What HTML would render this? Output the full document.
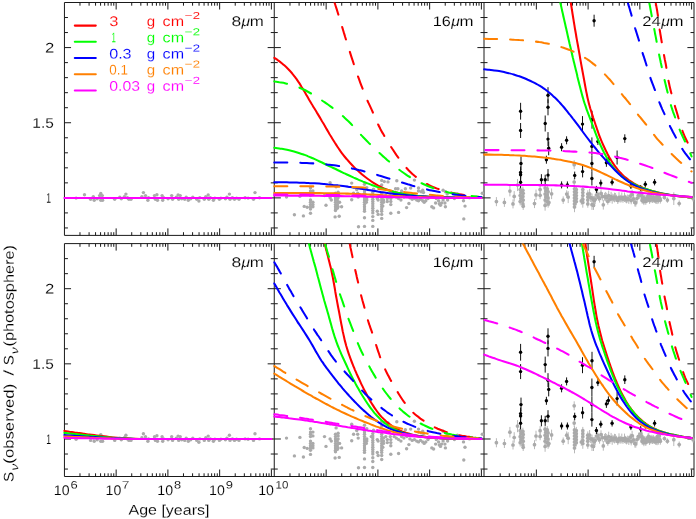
<!DOCTYPE html>
<html><head><meta charset="utf-8"><title>Figure</title>
<style>
html,body{margin:0;padding:0;background:#fff;}
body{width:696px;height:519px;overflow:hidden;font-family:"Liberation Sans",sans-serif;}
svg{display:block;}
text{font-family:"Liberation Sans",sans-serif;}
</style></head><body>
<svg width="696" height="519" viewBox="0 0 696 519">
<rect width="696" height="519" fill="#fff"/>
<defs>
<clipPath id="c00"><rect x="63.0" y="2.5" width="212.8" height="232.9"/></clipPath>
<clipPath id="c01"><rect x="63.0" y="243.6" width="212.8" height="232.9"/></clipPath>
<clipPath id="c10"><rect x="272.8" y="2.5" width="212.8" height="232.9"/></clipPath>
<clipPath id="c11"><rect x="272.8" y="243.6" width="212.8" height="232.9"/></clipPath>
<clipPath id="c20"><rect x="482.5" y="2.5" width="212.8" height="232.9"/></clipPath>
<clipPath id="c21"><rect x="482.5" y="243.6" width="212.8" height="232.9"/></clipPath>
</defs>
<path d="M64.45 2.50 H694.00 V235.40 H64.45 ZM274.25 2.50 V235.40 M484.00 2.50 V235.40M79.98 2.50 v3.2 M79.98 235.40 v-3.2M89.09 2.50 v3.2 M89.09 235.40 v-3.2M95.56 2.50 v3.2 M95.56 235.40 v-3.2M100.57 2.50 v3.2 M100.57 235.40 v-3.2M104.67 2.50 v3.2 M104.67 235.40 v-3.2M108.13 2.50 v3.2 M108.13 235.40 v-3.2M111.13 2.50 v3.2 M111.13 235.40 v-3.2M113.78 2.50 v3.2 M113.78 235.40 v-3.2M116.15 2.50 v7.0 M116.15 235.40 v-7.0M131.73 2.50 v3.2 M131.73 235.40 v-3.2M140.84 2.50 v3.2 M140.84 235.40 v-3.2M147.31 2.50 v3.2 M147.31 235.40 v-3.2M152.32 2.50 v3.2 M152.32 235.40 v-3.2M156.42 2.50 v3.2 M156.42 235.40 v-3.2M159.88 2.50 v3.2 M159.88 235.40 v-3.2M162.88 2.50 v3.2 M162.88 235.40 v-3.2M165.53 2.50 v3.2 M165.53 235.40 v-3.2M167.90 2.50 v7.0 M167.90 235.40 v-7.0M183.48 2.50 v3.2 M183.48 235.40 v-3.2M192.59 2.50 v3.2 M192.59 235.40 v-3.2M199.06 2.50 v3.2 M199.06 235.40 v-3.2M204.07 2.50 v3.2 M204.07 235.40 v-3.2M208.17 2.50 v3.2 M208.17 235.40 v-3.2M211.63 2.50 v3.2 M211.63 235.40 v-3.2M214.63 2.50 v3.2 M214.63 235.40 v-3.2M217.28 2.50 v3.2 M217.28 235.40 v-3.2M219.65 2.50 v7.0 M219.65 235.40 v-7.0M235.23 2.50 v3.2 M235.23 235.40 v-3.2M244.34 2.50 v3.2 M244.34 235.40 v-3.2M250.81 2.50 v3.2 M250.81 235.40 v-3.2M255.82 2.50 v3.2 M255.82 235.40 v-3.2M259.92 2.50 v3.2 M259.92 235.40 v-3.2M263.38 2.50 v3.2 M263.38 235.40 v-3.2M266.38 2.50 v3.2 M266.38 235.40 v-3.2M269.03 2.50 v3.2 M269.03 235.40 v-3.2M271.40 2.50 v7.0 M271.40 235.40 v-7.0M64.45 17.53 h3.5 M274.25 17.53 h-3.5M64.45 32.56 h3.5 M274.25 32.56 h-3.5M64.45 47.59 h6.6 M274.25 47.59 h-6.6M64.45 62.62 h3.5 M274.25 62.62 h-3.5M64.45 77.65 h3.5 M274.25 77.65 h-3.5M64.45 92.68 h3.5 M274.25 92.68 h-3.5M64.45 107.71 h3.5 M274.25 107.71 h-3.5M64.45 122.74 h6.6 M274.25 122.74 h-6.6M64.45 137.77 h3.5 M274.25 137.77 h-3.5M64.45 152.80 h3.5 M274.25 152.80 h-3.5M64.45 167.83 h3.5 M274.25 167.83 h-3.5M64.45 182.86 h3.5 M274.25 182.86 h-3.5M64.45 197.89 h6.6 M274.25 197.89 h-6.6M64.45 212.92 h3.5 M274.25 212.92 h-3.5M64.45 227.95 h3.5 M274.25 227.95 h-3.5M289.98 2.50 v3.2 M289.98 235.40 v-3.2M299.09 2.50 v3.2 M299.09 235.40 v-3.2M305.56 2.50 v3.2 M305.56 235.40 v-3.2M310.57 2.50 v3.2 M310.57 235.40 v-3.2M314.67 2.50 v3.2 M314.67 235.40 v-3.2M318.13 2.50 v3.2 M318.13 235.40 v-3.2M321.13 2.50 v3.2 M321.13 235.40 v-3.2M323.78 2.50 v3.2 M323.78 235.40 v-3.2M326.15 2.50 v7.0 M326.15 235.40 v-7.0M341.73 2.50 v3.2 M341.73 235.40 v-3.2M350.84 2.50 v3.2 M350.84 235.40 v-3.2M357.31 2.50 v3.2 M357.31 235.40 v-3.2M362.32 2.50 v3.2 M362.32 235.40 v-3.2M366.42 2.50 v3.2 M366.42 235.40 v-3.2M369.88 2.50 v3.2 M369.88 235.40 v-3.2M372.88 2.50 v3.2 M372.88 235.40 v-3.2M375.53 2.50 v3.2 M375.53 235.40 v-3.2M377.90 2.50 v7.0 M377.90 235.40 v-7.0M393.48 2.50 v3.2 M393.48 235.40 v-3.2M402.59 2.50 v3.2 M402.59 235.40 v-3.2M409.06 2.50 v3.2 M409.06 235.40 v-3.2M414.07 2.50 v3.2 M414.07 235.40 v-3.2M418.17 2.50 v3.2 M418.17 235.40 v-3.2M421.63 2.50 v3.2 M421.63 235.40 v-3.2M424.63 2.50 v3.2 M424.63 235.40 v-3.2M427.28 2.50 v3.2 M427.28 235.40 v-3.2M429.65 2.50 v7.0 M429.65 235.40 v-7.0M445.23 2.50 v3.2 M445.23 235.40 v-3.2M454.34 2.50 v3.2 M454.34 235.40 v-3.2M460.81 2.50 v3.2 M460.81 235.40 v-3.2M465.82 2.50 v3.2 M465.82 235.40 v-3.2M469.92 2.50 v3.2 M469.92 235.40 v-3.2M473.38 2.50 v3.2 M473.38 235.40 v-3.2M476.38 2.50 v3.2 M476.38 235.40 v-3.2M479.03 2.50 v3.2 M479.03 235.40 v-3.2M481.40 2.50 v7.0 M481.40 235.40 v-7.0M274.25 17.53 h3.5 M484.00 17.53 h-3.5M274.25 32.56 h3.5 M484.00 32.56 h-3.5M274.25 47.59 h6.6 M484.00 47.59 h-6.6M274.25 62.62 h3.5 M484.00 62.62 h-3.5M274.25 77.65 h3.5 M484.00 77.65 h-3.5M274.25 92.68 h3.5 M484.00 92.68 h-3.5M274.25 107.71 h3.5 M484.00 107.71 h-3.5M274.25 122.74 h6.6 M484.00 122.74 h-6.6M274.25 137.77 h3.5 M484.00 137.77 h-3.5M274.25 152.80 h3.5 M484.00 152.80 h-3.5M274.25 167.83 h3.5 M484.00 167.83 h-3.5M274.25 182.86 h3.5 M484.00 182.86 h-3.5M274.25 197.89 h6.6 M484.00 197.89 h-6.6M274.25 212.92 h3.5 M484.00 212.92 h-3.5M274.25 227.95 h3.5 M484.00 227.95 h-3.5M500.18 2.50 v3.2 M500.18 235.40 v-3.2M509.29 2.50 v3.2 M509.29 235.40 v-3.2M515.76 2.50 v3.2 M515.76 235.40 v-3.2M520.77 2.50 v3.2 M520.77 235.40 v-3.2M524.87 2.50 v3.2 M524.87 235.40 v-3.2M528.33 2.50 v3.2 M528.33 235.40 v-3.2M531.33 2.50 v3.2 M531.33 235.40 v-3.2M533.98 2.50 v3.2 M533.98 235.40 v-3.2M536.35 2.50 v7.0 M536.35 235.40 v-7.0M551.93 2.50 v3.2 M551.93 235.40 v-3.2M561.04 2.50 v3.2 M561.04 235.40 v-3.2M567.51 2.50 v3.2 M567.51 235.40 v-3.2M572.52 2.50 v3.2 M572.52 235.40 v-3.2M576.62 2.50 v3.2 M576.62 235.40 v-3.2M580.08 2.50 v3.2 M580.08 235.40 v-3.2M583.08 2.50 v3.2 M583.08 235.40 v-3.2M585.73 2.50 v3.2 M585.73 235.40 v-3.2M588.10 2.50 v7.0 M588.10 235.40 v-7.0M603.68 2.50 v3.2 M603.68 235.40 v-3.2M612.79 2.50 v3.2 M612.79 235.40 v-3.2M619.26 2.50 v3.2 M619.26 235.40 v-3.2M624.27 2.50 v3.2 M624.27 235.40 v-3.2M628.37 2.50 v3.2 M628.37 235.40 v-3.2M631.83 2.50 v3.2 M631.83 235.40 v-3.2M634.83 2.50 v3.2 M634.83 235.40 v-3.2M637.48 2.50 v3.2 M637.48 235.40 v-3.2M639.85 2.50 v7.0 M639.85 235.40 v-7.0M655.43 2.50 v3.2 M655.43 235.40 v-3.2M664.54 2.50 v3.2 M664.54 235.40 v-3.2M671.01 2.50 v3.2 M671.01 235.40 v-3.2M676.02 2.50 v3.2 M676.02 235.40 v-3.2M680.12 2.50 v3.2 M680.12 235.40 v-3.2M683.58 2.50 v3.2 M683.58 235.40 v-3.2M686.58 2.50 v3.2 M686.58 235.40 v-3.2M689.23 2.50 v3.2 M689.23 235.40 v-3.2M691.60 2.50 v7.0 M691.60 235.40 v-7.0M484.00 17.53 h3.5 M694.00 17.53 h-3.5M484.00 32.56 h3.5 M694.00 32.56 h-3.5M484.00 47.59 h6.6 M694.00 47.59 h-6.6M484.00 62.62 h3.5 M694.00 62.62 h-3.5M484.00 77.65 h3.5 M694.00 77.65 h-3.5M484.00 92.68 h3.5 M694.00 92.68 h-3.5M484.00 107.71 h3.5 M694.00 107.71 h-3.5M484.00 122.74 h6.6 M694.00 122.74 h-6.6M484.00 137.77 h3.5 M694.00 137.77 h-3.5M484.00 152.80 h3.5 M694.00 152.80 h-3.5M484.00 167.83 h3.5 M694.00 167.83 h-3.5M484.00 182.86 h3.5 M694.00 182.86 h-3.5M484.00 197.89 h6.6 M694.00 197.89 h-6.6M484.00 212.92 h3.5 M694.00 212.92 h-3.5M484.00 227.95 h3.5 M694.00 227.95 h-3.5M64.45 243.60 H694.00 V476.50 H64.45 ZM274.25 243.60 V476.50 M484.00 243.60 V476.50M79.98 243.60 v3.2 M79.98 476.50 v-3.2M89.09 243.60 v3.2 M89.09 476.50 v-3.2M95.56 243.60 v3.2 M95.56 476.50 v-3.2M100.57 243.60 v3.2 M100.57 476.50 v-3.2M104.67 243.60 v3.2 M104.67 476.50 v-3.2M108.13 243.60 v3.2 M108.13 476.50 v-3.2M111.13 243.60 v3.2 M111.13 476.50 v-3.2M113.78 243.60 v3.2 M113.78 476.50 v-3.2M116.15 243.60 v7.0 M116.15 476.50 v-7.0M131.73 243.60 v3.2 M131.73 476.50 v-3.2M140.84 243.60 v3.2 M140.84 476.50 v-3.2M147.31 243.60 v3.2 M147.31 476.50 v-3.2M152.32 243.60 v3.2 M152.32 476.50 v-3.2M156.42 243.60 v3.2 M156.42 476.50 v-3.2M159.88 243.60 v3.2 M159.88 476.50 v-3.2M162.88 243.60 v3.2 M162.88 476.50 v-3.2M165.53 243.60 v3.2 M165.53 476.50 v-3.2M167.90 243.60 v7.0 M167.90 476.50 v-7.0M183.48 243.60 v3.2 M183.48 476.50 v-3.2M192.59 243.60 v3.2 M192.59 476.50 v-3.2M199.06 243.60 v3.2 M199.06 476.50 v-3.2M204.07 243.60 v3.2 M204.07 476.50 v-3.2M208.17 243.60 v3.2 M208.17 476.50 v-3.2M211.63 243.60 v3.2 M211.63 476.50 v-3.2M214.63 243.60 v3.2 M214.63 476.50 v-3.2M217.28 243.60 v3.2 M217.28 476.50 v-3.2M219.65 243.60 v7.0 M219.65 476.50 v-7.0M235.23 243.60 v3.2 M235.23 476.50 v-3.2M244.34 243.60 v3.2 M244.34 476.50 v-3.2M250.81 243.60 v3.2 M250.81 476.50 v-3.2M255.82 243.60 v3.2 M255.82 476.50 v-3.2M259.92 243.60 v3.2 M259.92 476.50 v-3.2M263.38 243.60 v3.2 M263.38 476.50 v-3.2M266.38 243.60 v3.2 M266.38 476.50 v-3.2M269.03 243.60 v3.2 M269.03 476.50 v-3.2M271.40 243.60 v7.0 M271.40 476.50 v-7.0M64.45 258.63 h3.5 M274.25 258.63 h-3.5M64.45 273.66 h3.5 M274.25 273.66 h-3.5M64.45 288.69 h6.6 M274.25 288.69 h-6.6M64.45 303.72 h3.5 M274.25 303.72 h-3.5M64.45 318.75 h3.5 M274.25 318.75 h-3.5M64.45 333.78 h3.5 M274.25 333.78 h-3.5M64.45 348.81 h3.5 M274.25 348.81 h-3.5M64.45 363.84 h6.6 M274.25 363.84 h-6.6M64.45 378.87 h3.5 M274.25 378.87 h-3.5M64.45 393.90 h3.5 M274.25 393.90 h-3.5M64.45 408.93 h3.5 M274.25 408.93 h-3.5M64.45 423.96 h3.5 M274.25 423.96 h-3.5M64.45 438.99 h6.6 M274.25 438.99 h-6.6M64.45 454.02 h3.5 M274.25 454.02 h-3.5M64.45 469.05 h3.5 M274.25 469.05 h-3.5M289.98 243.60 v3.2 M289.98 476.50 v-3.2M299.09 243.60 v3.2 M299.09 476.50 v-3.2M305.56 243.60 v3.2 M305.56 476.50 v-3.2M310.57 243.60 v3.2 M310.57 476.50 v-3.2M314.67 243.60 v3.2 M314.67 476.50 v-3.2M318.13 243.60 v3.2 M318.13 476.50 v-3.2M321.13 243.60 v3.2 M321.13 476.50 v-3.2M323.78 243.60 v3.2 M323.78 476.50 v-3.2M326.15 243.60 v7.0 M326.15 476.50 v-7.0M341.73 243.60 v3.2 M341.73 476.50 v-3.2M350.84 243.60 v3.2 M350.84 476.50 v-3.2M357.31 243.60 v3.2 M357.31 476.50 v-3.2M362.32 243.60 v3.2 M362.32 476.50 v-3.2M366.42 243.60 v3.2 M366.42 476.50 v-3.2M369.88 243.60 v3.2 M369.88 476.50 v-3.2M372.88 243.60 v3.2 M372.88 476.50 v-3.2M375.53 243.60 v3.2 M375.53 476.50 v-3.2M377.90 243.60 v7.0 M377.90 476.50 v-7.0M393.48 243.60 v3.2 M393.48 476.50 v-3.2M402.59 243.60 v3.2 M402.59 476.50 v-3.2M409.06 243.60 v3.2 M409.06 476.50 v-3.2M414.07 243.60 v3.2 M414.07 476.50 v-3.2M418.17 243.60 v3.2 M418.17 476.50 v-3.2M421.63 243.60 v3.2 M421.63 476.50 v-3.2M424.63 243.60 v3.2 M424.63 476.50 v-3.2M427.28 243.60 v3.2 M427.28 476.50 v-3.2M429.65 243.60 v7.0 M429.65 476.50 v-7.0M445.23 243.60 v3.2 M445.23 476.50 v-3.2M454.34 243.60 v3.2 M454.34 476.50 v-3.2M460.81 243.60 v3.2 M460.81 476.50 v-3.2M465.82 243.60 v3.2 M465.82 476.50 v-3.2M469.92 243.60 v3.2 M469.92 476.50 v-3.2M473.38 243.60 v3.2 M473.38 476.50 v-3.2M476.38 243.60 v3.2 M476.38 476.50 v-3.2M479.03 243.60 v3.2 M479.03 476.50 v-3.2M481.40 243.60 v7.0 M481.40 476.50 v-7.0M274.25 258.63 h3.5 M484.00 258.63 h-3.5M274.25 273.66 h3.5 M484.00 273.66 h-3.5M274.25 288.69 h6.6 M484.00 288.69 h-6.6M274.25 303.72 h3.5 M484.00 303.72 h-3.5M274.25 318.75 h3.5 M484.00 318.75 h-3.5M274.25 333.78 h3.5 M484.00 333.78 h-3.5M274.25 348.81 h3.5 M484.00 348.81 h-3.5M274.25 363.84 h6.6 M484.00 363.84 h-6.6M274.25 378.87 h3.5 M484.00 378.87 h-3.5M274.25 393.90 h3.5 M484.00 393.90 h-3.5M274.25 408.93 h3.5 M484.00 408.93 h-3.5M274.25 423.96 h3.5 M484.00 423.96 h-3.5M274.25 438.99 h6.6 M484.00 438.99 h-6.6M274.25 454.02 h3.5 M484.00 454.02 h-3.5M274.25 469.05 h3.5 M484.00 469.05 h-3.5M500.18 243.60 v3.2 M500.18 476.50 v-3.2M509.29 243.60 v3.2 M509.29 476.50 v-3.2M515.76 243.60 v3.2 M515.76 476.50 v-3.2M520.77 243.60 v3.2 M520.77 476.50 v-3.2M524.87 243.60 v3.2 M524.87 476.50 v-3.2M528.33 243.60 v3.2 M528.33 476.50 v-3.2M531.33 243.60 v3.2 M531.33 476.50 v-3.2M533.98 243.60 v3.2 M533.98 476.50 v-3.2M536.35 243.60 v7.0 M536.35 476.50 v-7.0M551.93 243.60 v3.2 M551.93 476.50 v-3.2M561.04 243.60 v3.2 M561.04 476.50 v-3.2M567.51 243.60 v3.2 M567.51 476.50 v-3.2M572.52 243.60 v3.2 M572.52 476.50 v-3.2M576.62 243.60 v3.2 M576.62 476.50 v-3.2M580.08 243.60 v3.2 M580.08 476.50 v-3.2M583.08 243.60 v3.2 M583.08 476.50 v-3.2M585.73 243.60 v3.2 M585.73 476.50 v-3.2M588.10 243.60 v7.0 M588.10 476.50 v-7.0M603.68 243.60 v3.2 M603.68 476.50 v-3.2M612.79 243.60 v3.2 M612.79 476.50 v-3.2M619.26 243.60 v3.2 M619.26 476.50 v-3.2M624.27 243.60 v3.2 M624.27 476.50 v-3.2M628.37 243.60 v3.2 M628.37 476.50 v-3.2M631.83 243.60 v3.2 M631.83 476.50 v-3.2M634.83 243.60 v3.2 M634.83 476.50 v-3.2M637.48 243.60 v3.2 M637.48 476.50 v-3.2M639.85 243.60 v7.0 M639.85 476.50 v-7.0M655.43 243.60 v3.2 M655.43 476.50 v-3.2M664.54 243.60 v3.2 M664.54 476.50 v-3.2M671.01 243.60 v3.2 M671.01 476.50 v-3.2M676.02 243.60 v3.2 M676.02 476.50 v-3.2M680.12 243.60 v3.2 M680.12 476.50 v-3.2M683.58 243.60 v3.2 M683.58 476.50 v-3.2M686.58 243.60 v3.2 M686.58 476.50 v-3.2M689.23 243.60 v3.2 M689.23 476.50 v-3.2M691.60 243.60 v7.0 M691.60 476.50 v-7.0M484.00 258.63 h3.5 M694.00 258.63 h-3.5M484.00 273.66 h3.5 M694.00 273.66 h-3.5M484.00 288.69 h6.6 M694.00 288.69 h-6.6M484.00 303.72 h3.5 M694.00 303.72 h-3.5M484.00 318.75 h3.5 M694.00 318.75 h-3.5M484.00 333.78 h3.5 M694.00 333.78 h-3.5M484.00 348.81 h3.5 M694.00 348.81 h-3.5M484.00 363.84 h6.6 M694.00 363.84 h-6.6M484.00 378.87 h3.5 M694.00 378.87 h-3.5M484.00 393.90 h3.5 M694.00 393.90 h-3.5M484.00 408.93 h3.5 M694.00 408.93 h-3.5M484.00 423.96 h3.5 M694.00 423.96 h-3.5M484.00 438.99 h6.6 M694.00 438.99 h-6.6M484.00 454.02 h3.5 M694.00 454.02 h-3.5M484.00 469.05 h3.5 M694.00 469.05 h-3.5" fill="none" stroke="#1a1a1a" stroke-width="1.00"/>
<g clip-path="url(#c00)">
<g fill="#aaaaaa"><circle cx="76.1" cy="198.1" r="1.7"/><circle cx="84.5" cy="194.7" r="1.7"/><circle cx="90.6" cy="199.3" r="1.7"/><circle cx="93.3" cy="196.6" r="1.7"/><circle cx="94.2" cy="200.2" r="1.7"/><circle cx="97.2" cy="198.7" r="1.7"/><circle cx="99.6" cy="195.6" r="1.7"/><circle cx="100.8" cy="193.5" r="1.7"/><circle cx="102.3" cy="195.6" r="1.7"/><circle cx="100.8" cy="200.2" r="1.7"/><circle cx="102.6" cy="200.2" r="1.7"/><circle cx="114.7" cy="199.3" r="1.7"/><circle cx="119.8" cy="197.2" r="1.7"/><circle cx="121.3" cy="198.7" r="1.7"/><circle cx="124.4" cy="196.6" r="1.7"/><circle cx="125.9" cy="194.1" r="1.7"/><circle cx="127.4" cy="197.8" r="1.7"/><circle cx="128.9" cy="199.3" r="1.7"/><circle cx="131.0" cy="199.3" r="1.7"/><circle cx="141.9" cy="196.6" r="1.7"/><circle cx="143.4" cy="192.6" r="1.7"/><circle cx="145.5" cy="195.6" r="1.7"/><circle cx="147.9" cy="200.2" r="1.7"/><circle cx="148.5" cy="197.8" r="1.7"/><circle cx="154.5" cy="195.6" r="1.7"/><circle cx="155.4" cy="199.3" r="1.7"/><circle cx="156.9" cy="194.7" r="1.7"/><circle cx="157.5" cy="200.2" r="1.7"/><circle cx="162.1" cy="195.6" r="1.7"/><circle cx="162.7" cy="200.2" r="1.7"/><circle cx="163.6" cy="197.8" r="1.7"/><circle cx="168.1" cy="198.7" r="1.7"/><circle cx="171.7" cy="195.6" r="1.7"/><circle cx="172.6" cy="199.3" r="1.7"/><circle cx="176.3" cy="197.2" r="1.7"/><circle cx="178.1" cy="195.0" r="1.7"/><circle cx="178.7" cy="199.3" r="1.7"/><circle cx="180.2" cy="195.6" r="1.7"/><circle cx="181.7" cy="198.7" r="1.7"/><circle cx="184.7" cy="199.3" r="1.7"/><circle cx="186.2" cy="197.2" r="1.7"/><circle cx="188.3" cy="200.2" r="1.7"/><circle cx="190.7" cy="198.7" r="1.7"/><circle cx="192.8" cy="197.2" r="1.7"/><circle cx="196.8" cy="199.3" r="1.7"/><circle cx="198.9" cy="201.1" r="1.7"/><circle cx="199.8" cy="197.8" r="1.7"/><circle cx="204.3" cy="199.3" r="1.7"/><circle cx="205.8" cy="196.6" r="1.7"/><circle cx="208.2" cy="195.0" r="1.7"/><circle cx="208.8" cy="199.3" r="1.7"/><circle cx="210.3" cy="197.8" r="1.7"/><circle cx="213.4" cy="200.2" r="1.7"/><circle cx="214.9" cy="198.1" r="1.7"/><circle cx="219.4" cy="199.3" r="1.7"/><circle cx="220.9" cy="198.1" r="1.7"/><circle cx="225.4" cy="198.7" r="1.7"/><circle cx="226.9" cy="197.2" r="1.7"/><circle cx="229.4" cy="194.1" r="1.7"/><circle cx="230.0" cy="199.3" r="1.7"/><circle cx="232.4" cy="197.8" r="1.7"/><circle cx="234.5" cy="199.3" r="1.7"/><circle cx="236.6" cy="198.1" r="1.7"/><circle cx="239.0" cy="199.3" r="1.7"/><circle cx="245.1" cy="197.8" r="1.7"/><circle cx="248.1" cy="198.1" r="1.7"/><circle cx="253.5" cy="199.3" r="1.7"/><circle cx="255.0" cy="192.6" r="1.7"/><circle cx="259.5" cy="197.8" r="1.7"/></g>
<path d="M64.4 197.9 L271.4 197.9" fill="none" stroke="#ff00ff" stroke-width="2.05" stroke-linecap="round" stroke-linejoin="round"/>
</g>
<g clip-path="url(#c10)">
<g fill="#aaaaaa"><circle cx="286.5" cy="197.0" r="1.7"/><circle cx="294.4" cy="214.8" r="1.7"/><circle cx="299.9" cy="196.3" r="1.7"/><circle cx="303.4" cy="215.9" r="1.7"/><circle cx="304.2" cy="206.4" r="1.7"/><circle cx="307.2" cy="207.3" r="1.7"/><circle cx="310.5" cy="187.7" r="1.7"/><circle cx="310.5" cy="191.0" r="1.7"/><circle cx="312.9" cy="191.0" r="1.7"/><circle cx="310.5" cy="193.2" r="1.7"/><circle cx="312.9" cy="194.8" r="1.7"/><circle cx="310.5" cy="195.5" r="1.7"/><circle cx="310.5" cy="200.0" r="1.7"/><circle cx="310.5" cy="202.3" r="1.7"/><circle cx="312.9" cy="202.3" r="1.7"/><circle cx="310.5" cy="204.6" r="1.7"/><circle cx="312.9" cy="204.6" r="1.7"/><circle cx="310.5" cy="206.8" r="1.7"/><circle cx="312.9" cy="206.8" r="1.7"/><circle cx="310.5" cy="209.1" r="1.7"/><circle cx="310.5" cy="213.3" r="1.7"/><circle cx="324.5" cy="195.5" r="1.7"/><circle cx="326.0" cy="205.3" r="1.7"/><circle cx="330.1" cy="197.8" r="1.7"/><circle cx="331.3" cy="200.0" r="1.7"/><circle cx="330.1" cy="182.7" r="1.7"/><circle cx="336.1" cy="186.8" r="1.7"/><circle cx="335.5" cy="193.2" r="1.7"/><circle cx="338.1" cy="192.2" r="1.7"/><circle cx="335.5" cy="195.5" r="1.7"/><circle cx="338.1" cy="194.8" r="1.7"/><circle cx="335.5" cy="197.8" r="1.7"/><circle cx="338.1" cy="197.8" r="1.7"/><circle cx="335.5" cy="200.0" r="1.7"/><circle cx="337.3" cy="200.0" r="1.7"/><circle cx="335.5" cy="202.3" r="1.7"/><circle cx="338.1" cy="202.3" r="1.7"/><circle cx="335.5" cy="204.6" r="1.7"/><circle cx="337.3" cy="204.6" r="1.7"/><circle cx="335.5" cy="206.8" r="1.7"/><circle cx="338.1" cy="206.8" r="1.7"/><circle cx="335.5" cy="209.1" r="1.7"/><circle cx="337.3" cy="208.3" r="1.7"/><circle cx="335.5" cy="210.6" r="1.7"/><circle cx="339.6" cy="202.3" r="1.7"/><circle cx="341.6" cy="206.8" r="1.7"/><circle cx="335.1" cy="216.9" r="1.7"/><circle cx="339.2" cy="216.3" r="1.7"/><circle cx="351.7" cy="183.1" r="1.7"/><circle cx="351.7" cy="199.7" r="1.7"/><circle cx="353.6" cy="193.2" r="1.7"/><circle cx="356.7" cy="189.5" r="1.7"/><circle cx="357.7" cy="193.2" r="1.7"/><circle cx="358.2" cy="197.0" r="1.7"/><circle cx="358.5" cy="226.7" r="1.7"/><circle cx="364.5" cy="184.2" r="1.7"/><circle cx="364.5" cy="188.7" r="1.7"/><circle cx="364.5" cy="191.0" r="1.7"/><circle cx="364.5" cy="193.2" r="1.7"/><circle cx="364.5" cy="195.5" r="1.7"/><circle cx="364.5" cy="197.8" r="1.7"/><circle cx="364.5" cy="200.0" r="1.7"/><circle cx="364.5" cy="202.3" r="1.7"/><circle cx="364.5" cy="204.6" r="1.7"/><circle cx="364.5" cy="206.8" r="1.7"/><circle cx="364.5" cy="209.1" r="1.7"/><circle cx="364.5" cy="211.3" r="1.7"/><circle cx="364.5" cy="217.8" r="1.7"/><circle cx="364.5" cy="226.4" r="1.7"/><circle cx="366.8" cy="187.7" r="1.7"/><circle cx="366.8" cy="197.8" r="1.7"/><circle cx="366.8" cy="200.0" r="1.7"/><circle cx="366.3" cy="202.3" r="1.7"/><circle cx="372.8" cy="192.5" r="1.7"/><circle cx="372.8" cy="194.8" r="1.7"/><circle cx="371.3" cy="195.5" r="1.7"/><circle cx="372.8" cy="197.0" r="1.7"/><circle cx="372.8" cy="199.3" r="1.7"/><circle cx="372.8" cy="201.5" r="1.7"/><circle cx="372.8" cy="203.8" r="1.7"/><circle cx="372.8" cy="206.1" r="1.7"/><circle cx="372.8" cy="208.3" r="1.7"/><circle cx="372.8" cy="210.6" r="1.7"/><circle cx="372.8" cy="212.9" r="1.7"/><circle cx="372.8" cy="216.6" r="1.7"/><circle cx="372.8" cy="220.4" r="1.7"/><circle cx="372.8" cy="226.4" r="1.7"/><circle cx="373.5" cy="189.2" r="1.7"/><circle cx="377.3" cy="198.5" r="1.7"/><circle cx="378.1" cy="200.0" r="1.7"/><circle cx="377.3" cy="211.3" r="1.7"/><circle cx="378.1" cy="214.4" r="1.7"/><circle cx="381.7" cy="180.4" r="1.7"/><circle cx="384.3" cy="181.6" r="1.7"/><circle cx="381.7" cy="184.9" r="1.7"/><circle cx="381.7" cy="193.2" r="1.7"/><circle cx="381.7" cy="195.5" r="1.7"/><circle cx="381.7" cy="197.8" r="1.7"/><circle cx="381.7" cy="200.0" r="1.7"/><circle cx="381.7" cy="202.3" r="1.7"/><circle cx="381.7" cy="204.6" r="1.7"/><circle cx="381.7" cy="206.8" r="1.7"/><circle cx="381.7" cy="209.1" r="1.7"/><circle cx="381.7" cy="211.3" r="1.7"/><circle cx="381.7" cy="214.4" r="1.7"/><circle cx="381.7" cy="218.4" r="1.7"/><circle cx="383.5" cy="197.0" r="1.7"/><circle cx="383.5" cy="200.0" r="1.7"/><circle cx="383.5" cy="202.3" r="1.7"/><circle cx="382.8" cy="206.1" r="1.7"/><circle cx="385.8" cy="195.5" r="1.7"/><circle cx="387.3" cy="198.5" r="1.7"/><circle cx="387.3" cy="201.5" r="1.7"/><circle cx="390.3" cy="195.5" r="1.7"/><circle cx="390.8" cy="198.5" r="1.7"/><circle cx="390.8" cy="201.5" r="1.7"/><circle cx="390.8" cy="204.6" r="1.7"/><circle cx="390.8" cy="213.2" r="1.7"/><circle cx="388.0" cy="181.9" r="1.7"/><circle cx="394.1" cy="195.5" r="1.7"/><circle cx="396.3" cy="197.0" r="1.7"/><circle cx="396.8" cy="180.7" r="1.7"/><circle cx="398.6" cy="198.5" r="1.7"/><circle cx="400.9" cy="200.0" r="1.7"/><circle cx="398.6" cy="212.4" r="1.7"/><circle cx="401.6" cy="195.5" r="1.7"/><circle cx="403.9" cy="197.0" r="1.7"/><circle cx="395.6" cy="188.7" r="1.7"/><circle cx="397.9" cy="188.7" r="1.7"/><circle cx="401.6" cy="191.0" r="1.7"/><circle cx="405.4" cy="188.7" r="1.7"/><circle cx="406.6" cy="207.6" r="1.7"/><circle cx="408.9" cy="203.5" r="1.7"/><circle cx="406.9" cy="195.5" r="1.7"/><circle cx="410.7" cy="188.0" r="1.7"/><circle cx="409.9" cy="197.8" r="1.7"/><circle cx="412.2" cy="199.3" r="1.7"/><circle cx="414.4" cy="180.1" r="1.7"/><circle cx="414.4" cy="198.5" r="1.7"/><circle cx="416.7" cy="200.0" r="1.7"/><circle cx="418.5" cy="200.8" r="1.7"/><circle cx="420.5" cy="199.3" r="1.7"/><circle cx="422.7" cy="200.8" r="1.7"/><circle cx="424.2" cy="202.3" r="1.7"/><circle cx="425.8" cy="200.8" r="1.7"/><circle cx="428.0" cy="198.5" r="1.7"/><circle cx="422.7" cy="190.2" r="1.7"/><circle cx="418.5" cy="188.0" r="1.7"/><circle cx="418.5" cy="191.0" r="1.7"/><circle cx="421.2" cy="191.7" r="1.7"/><circle cx="423.5" cy="192.5" r="1.7"/><circle cx="431.8" cy="206.8" r="1.7"/><circle cx="433.6" cy="207.9" r="1.7"/><circle cx="435.6" cy="203.0" r="1.7"/><circle cx="438.6" cy="200.8" r="1.7"/><circle cx="439.3" cy="203.8" r="1.7"/><circle cx="440.5" cy="205.3" r="1.7"/><circle cx="441.6" cy="203.0" r="1.7"/><circle cx="443.1" cy="200.0" r="1.7"/><circle cx="444.9" cy="203.0" r="1.7"/><circle cx="445.4" cy="206.8" r="1.7"/><circle cx="447.6" cy="200.0" r="1.7"/><circle cx="436.3" cy="198.5" r="1.7"/><circle cx="443.1" cy="190.2" r="1.7"/><circle cx="445.4" cy="191.7" r="1.7"/><circle cx="447.2" cy="194.0" r="1.7"/><circle cx="454.4" cy="198.5" r="1.7"/><circle cx="457.4" cy="194.0" r="1.7"/><circle cx="463.5" cy="200.8" r="1.7"/><circle cx="465.0" cy="206.1" r="1.7"/><circle cx="463.8" cy="218.9" r="1.7"/><circle cx="469.5" cy="197.8" r="1.7"/><circle cx="482.3" cy="193.2" r="1.7"/><circle cx="475.5" cy="197.0" r="1.7"/></g>
<path d="M274.3 57.8 C275.0 58.3 277.1 59.7 278.4 60.7 C279.8 61.7 281.1 62.7 282.4 63.7 C283.7 64.8 284.9 65.9 286.2 67.0 C287.4 68.1 288.5 69.3 289.6 70.5 C290.8 71.8 291.9 73.0 292.9 74.3 C294.0 75.6 295.0 77.0 296.0 78.3 C296.9 79.7 297.9 81.0 298.8 82.4 C299.8 83.8 300.6 85.2 301.5 86.7 C302.4 88.1 303.3 89.5 304.1 91.0 C305.0 92.4 305.8 93.9 306.6 95.3 C307.5 96.8 308.3 98.2 309.1 99.7 C310.0 101.1 310.8 102.5 311.7 104.0 C312.6 105.4 313.4 106.9 314.3 108.3 C315.2 109.7 316.0 111.1 316.9 112.6 C317.8 114.0 318.6 115.4 319.5 116.9 C320.3 118.3 321.2 119.8 322.0 121.2 C322.9 122.6 323.7 124.1 324.6 125.5 C325.4 127.0 326.2 128.4 327.1 129.9 C327.9 131.3 328.8 132.8 329.6 134.2 C330.5 135.6 331.3 137.1 332.2 138.5 C333.1 139.9 334.0 141.3 334.9 142.8 C335.8 144.2 336.7 145.6 337.6 147.0 C338.5 148.4 339.5 149.8 340.4 151.1 C341.4 152.5 342.4 153.8 343.4 155.1 C344.4 156.4 345.5 157.7 346.6 159.0 C347.7 160.3 348.6 161.4 349.9 162.7 C351.2 164.1 352.8 165.8 354.1 167.1 C355.4 168.4 356.5 169.4 357.7 170.5 C359.0 171.7 360.2 172.8 361.5 173.9 C362.7 175.0 364.0 176.0 365.3 177.0 C366.7 178.1 368.0 179.1 369.4 180.0 C370.7 181.0 372.1 181.9 373.5 182.8 C374.9 183.7 376.4 184.6 377.8 185.4 C379.3 186.2 380.8 186.9 382.3 187.6 C383.8 188.3 385.4 188.9 386.9 189.5 C388.5 190.1 390.0 190.7 391.6 191.2 C393.2 191.7 394.8 192.1 396.5 192.5 C398.1 193.0 399.7 193.3 401.3 193.6 C403.0 194.0 404.6 194.3 406.3 194.5 C407.9 194.8 409.6 195.0 411.2 195.2 C412.9 195.4 414.6 195.6 416.2 195.8 C417.9 196.0 419.5 196.1 421.2 196.2 C422.9 196.3 424.6 196.5 426.2 196.6 C427.9 196.7 429.6 196.7 431.2 196.8 C432.9 196.9 434.6 197.0 436.2 197.0 C437.9 197.1 439.6 197.2 441.3 197.2 C442.9 197.3 444.6 197.3 446.3 197.3 C447.9 197.4 449.6 197.4 451.3 197.4 C453.0 197.5 454.6 197.5 456.3 197.5 C458.0 197.6 459.7 197.6 461.3 197.6 C463.0 197.6 464.7 197.7 466.3 197.7 C468.0 197.7 469.7 197.7 471.4 197.7 C473.0 197.8 474.7 197.8 476.4 197.8 C478.1 197.8 480.6 197.8 481.4 197.8" fill="none" stroke="#ff0000" stroke-width="2.05" stroke-linecap="round" stroke-linejoin="round"/>
<path d="M330.0 -10.0 C330.3 -9.2 331.2 -6.9 331.8 -5.3 C332.3 -3.7 332.9 -2.2 333.5 -0.6 C334.0 1.0 334.5 2.6 335.1 4.2 C335.6 5.7 336.1 7.3 336.6 8.9 C337.1 10.5 337.6 12.1 338.1 13.7 C338.6 15.3 339.1 16.9 339.6 18.5 C340.0 20.1 340.5 21.7 341.0 23.3 C341.5 24.9 342.0 26.5 342.5 28.1 C343.0 29.7 343.5 31.5 343.9 32.9 C344.4 34.3 344.7 35.3 345.1 36.7 C345.6 38.2 346.1 39.9 346.6 41.5 C347.1 43.1 347.6 44.7 348.1 46.3 C348.6 47.9 349.1 49.5 349.6 51.1 C350.1 52.7 350.6 54.3 351.1 55.9 C351.6 57.5 352.1 59.0 352.7 60.6 C353.2 62.2 353.7 63.8 354.2 65.4 C354.8 67.0 355.3 68.6 355.8 70.1 C356.4 71.7 356.9 73.3 357.5 74.9 C358.0 76.5 358.6 78.0 359.2 79.6 C359.7 81.2 360.3 82.7 360.9 84.3 C361.5 85.9 362.1 87.4 362.7 89.0 C363.3 90.6 363.9 92.1 364.5 93.7 C365.1 95.2 365.8 96.8 366.4 98.3 C367.1 99.8 367.8 101.3 368.5 102.9 C369.2 104.4 369.9 105.9 370.6 107.4 C371.3 108.9 372.0 110.4 372.7 112.0 C373.3 113.5 374.1 115.2 374.7 116.6 C375.3 117.9 375.7 118.9 376.3 120.2 C376.9 121.6 377.6 123.3 378.3 124.8 C379.0 126.3 379.8 127.8 380.5 129.3 C381.3 130.7 382.1 132.2 383.0 133.6 C383.8 135.1 384.7 136.5 385.5 138.0 C386.4 139.4 387.3 140.8 388.2 142.2 C389.0 143.6 389.9 145.1 390.8 146.5 C391.7 147.9 392.6 149.3 393.6 150.7 C394.5 152.1 395.4 153.5 396.3 154.9 C397.3 156.2 398.3 157.6 399.2 159.0 C400.2 160.3 401.2 161.6 402.3 162.9 C403.3 164.3 404.4 165.6 405.5 166.8 C406.6 168.1 407.7 169.3 408.8 170.5 C410.0 171.7 411.2 172.9 412.4 174.0 C413.7 175.1 414.9 176.2 416.3 177.2 C417.6 178.2 418.9 179.2 420.3 180.1 C421.7 181.0 423.1 181.9 424.5 182.7 C426.0 183.6 427.5 184.4 429.0 185.1 C430.5 185.8 432.1 186.6 433.5 187.2 C434.9 187.8 435.8 188.1 437.2 188.6 C438.6 189.1 440.4 189.7 442.0 190.2 C443.6 190.7 445.2 191.1 446.8 191.6 C448.4 192.0 450.0 192.3 451.7 192.7 C453.3 193.1 454.9 193.4 456.6 193.7 C458.2 194.0 459.9 194.3 461.5 194.6 C463.2 194.9 464.8 195.2 466.5 195.4 C468.1 195.6 469.8 195.9 471.4 196.1 C473.1 196.3 474.8 196.5 476.4 196.7 C478.1 196.9 480.6 197.1 481.4 197.2" fill="none" stroke="#ff0000" stroke-width="2.05" stroke-linecap="round" stroke-linejoin="round" stroke-dasharray="13 13" stroke-dashoffset="13.0"/>
<path d="M274.3 147.8 C275.1 147.9 277.6 148.2 279.3 148.4 C280.9 148.7 282.6 148.9 284.2 149.2 C285.9 149.5 287.5 149.8 289.2 150.2 C290.8 150.6 292.4 151.0 294.0 151.4 C295.6 151.9 297.2 152.4 298.8 152.9 C300.4 153.4 302.0 153.9 303.6 154.5 C305.1 155.1 306.7 155.7 308.2 156.4 C309.8 157.0 311.3 157.7 312.8 158.3 C314.4 159.0 315.9 159.7 317.4 160.4 C318.9 161.1 320.5 161.8 322.0 162.5 C323.5 163.3 325.0 164.0 326.5 164.7 C328.0 165.4 329.5 166.1 331.0 166.9 C332.5 167.6 334.1 168.3 335.6 169.0 C337.1 169.8 338.6 170.5 340.1 171.2 C341.6 171.9 343.1 172.7 344.6 173.4 C346.1 174.1 347.7 174.8 349.2 175.5 C350.7 176.2 352.2 176.9 353.7 177.6 C355.3 178.3 356.8 179.0 358.3 179.6 C359.9 180.3 361.4 180.9 363.0 181.6 C364.5 182.2 366.1 182.8 367.6 183.4 C369.2 184.0 370.8 184.6 372.3 185.2 C373.9 185.8 375.5 186.3 377.1 186.9 C378.7 187.4 380.3 187.9 381.8 188.4 C383.4 188.9 385.0 189.4 386.7 189.9 C388.3 190.3 389.9 190.8 391.5 191.2 C393.1 191.6 394.7 192.0 396.4 192.4 C398.0 192.8 399.6 193.1 401.3 193.4 C402.9 193.7 404.6 194.0 406.2 194.3 C407.9 194.6 409.5 194.8 411.2 195.0 C412.8 195.3 414.5 195.5 416.2 195.7 C417.8 195.8 419.5 196.0 421.2 196.2 C422.8 196.3 424.5 196.4 426.2 196.6 C427.8 196.7 429.5 196.8 431.2 196.9 C432.9 197.0 434.5 197.1 436.2 197.1 C437.9 197.2 439.5 197.3 441.2 197.3 C442.9 197.4 444.6 197.4 446.2 197.5 C447.9 197.5 449.6 197.6 451.3 197.6 C452.9 197.6 454.6 197.7 456.3 197.7 C458.0 197.7 459.6 197.7 461.3 197.8 C463.0 197.8 464.7 197.8 466.3 197.8 C468.0 197.8 469.7 197.8 471.4 197.9 C473.0 197.9 474.7 197.9 476.4 197.9 C478.1 197.9 480.6 197.9 481.4 197.9" fill="none" stroke="#00ff00" stroke-width="2.05" stroke-linecap="round" stroke-linejoin="round"/>
<path d="M274.3 81.4 C275.1 81.5 277.6 81.9 279.3 82.2 C280.9 82.4 282.5 82.7 284.2 83.0 C285.8 83.4 287.4 83.7 289.0 84.2 C290.6 84.6 292.2 85.1 293.8 85.6 C295.4 86.1 296.9 86.7 298.5 87.3 C300.0 87.9 301.6 88.6 303.1 89.3 C304.6 90.0 306.0 90.7 307.5 91.5 C309.0 92.3 310.4 93.1 311.9 94.0 C313.3 94.8 314.7 95.7 316.1 96.6 C317.5 97.5 318.9 98.4 320.3 99.3 C321.7 100.3 323.1 101.2 324.5 102.1 C325.8 103.1 327.2 104.0 328.6 105.0 C329.9 106.0 331.3 107.0 332.6 107.9 C333.9 108.9 335.3 110.0 336.6 111.0 C337.9 112.0 339.2 113.0 340.5 114.1 C341.8 115.2 343.0 116.3 344.3 117.4 C345.5 118.5 346.7 119.6 347.9 120.8 C349.1 121.9 350.3 123.1 351.4 124.3 C352.6 125.5 353.7 126.7 354.8 128.0 C355.9 129.2 357.0 130.4 358.2 131.7 C359.3 132.9 360.4 134.2 361.5 135.4 C362.7 136.6 363.8 137.8 365.0 139.0 C366.1 140.2 367.3 141.4 368.5 142.6 C369.7 143.8 371.0 145.0 372.1 146.1 C373.1 147.1 373.9 147.8 375.0 148.8 C376.1 149.9 377.4 151.1 378.6 152.2 C379.9 153.4 381.1 154.5 382.3 155.6 C383.6 156.7 384.8 157.8 386.1 158.9 C387.3 160.0 388.6 161.1 389.9 162.2 C391.1 163.3 392.4 164.3 393.7 165.4 C395.0 166.4 396.3 167.5 397.6 168.5 C398.9 169.5 400.3 170.5 401.6 171.5 C403.0 172.5 404.3 173.4 405.7 174.3 C407.1 175.3 408.5 176.2 409.9 177.0 C411.3 177.9 412.8 178.7 414.2 179.5 C415.7 180.3 417.2 181.1 418.7 181.9 C420.1 182.6 421.7 183.3 423.2 184.0 C424.7 184.7 426.2 185.3 427.8 186.0 C429.3 186.6 430.9 187.2 432.4 187.7 C434.0 188.3 435.6 188.8 437.2 189.3 C438.8 189.8 440.4 190.2 442.0 190.7 C443.6 191.1 445.2 191.5 446.8 191.9 C448.4 192.3 450.1 192.7 451.7 193.0 C453.3 193.3 455.0 193.7 456.6 194.0 C458.2 194.2 459.9 194.5 461.5 194.8 C463.2 195.0 464.8 195.3 466.5 195.5 C468.1 195.7 469.8 195.9 471.5 196.1 C473.1 196.3 474.8 196.4 476.4 196.6 C478.1 196.8 480.6 197.0 481.4 197.1" fill="none" stroke="#00ff00" stroke-width="2.05" stroke-linecap="round" stroke-linejoin="round" stroke-dasharray="13 13" stroke-dashoffset="0.0"/>
<path d="M274.3 182.2 C275.1 182.2 277.6 182.2 279.3 182.2 C281.0 182.3 282.6 182.3 284.3 182.3 C286.0 182.3 287.6 182.4 289.3 182.4 C291.0 182.4 292.6 182.5 294.3 182.5 C296.0 182.6 297.6 182.6 299.3 182.7 C301.0 182.7 302.6 182.8 304.3 182.8 C306.0 182.9 307.6 183.0 309.3 183.1 C311.0 183.1 312.6 183.2 314.3 183.3 C315.9 183.4 317.6 183.5 319.3 183.6 C320.9 183.8 322.8 183.9 324.3 184.0 C325.8 184.2 326.8 184.2 328.2 184.4 C329.7 184.5 331.6 184.7 333.2 184.9 C334.9 185.0 336.5 185.2 338.2 185.4 C339.8 185.6 341.5 185.8 343.1 186.0 C344.8 186.3 346.5 186.5 348.1 186.7 C349.8 187.0 351.4 187.2 353.0 187.5 C354.7 187.7 356.3 188.0 358.0 188.2 C359.6 188.5 361.3 188.8 362.9 189.1 C364.6 189.3 366.2 189.6 367.8 189.9 C369.5 190.2 371.1 190.5 372.8 190.8 C374.4 191.0 376.1 191.3 377.7 191.6 C379.4 191.8 381.0 192.1 382.7 192.3 C384.3 192.6 386.0 192.8 387.6 193.0 C389.3 193.2 390.9 193.5 392.6 193.7 C394.2 193.9 395.9 194.1 397.5 194.3 C399.2 194.5 400.8 194.6 402.5 194.8 C404.2 195.0 405.8 195.2 407.5 195.3 C409.1 195.5 410.8 195.6 412.5 195.8 C414.1 195.9 415.8 196.0 417.4 196.2 C419.1 196.3 420.8 196.4 422.4 196.5 C424.1 196.6 425.9 196.7 427.4 196.8 C428.9 196.9 429.9 196.9 431.4 197.0 C432.9 197.1 434.7 197.2 436.4 197.2 C438.1 197.3 439.7 197.3 441.4 197.4 C443.1 197.4 444.7 197.5 446.4 197.5 C448.1 197.6 449.7 197.6 451.4 197.6 C453.1 197.7 454.7 197.7 456.4 197.7 C458.1 197.7 459.7 197.7 461.4 197.8 C463.1 197.8 464.7 197.8 466.4 197.8 C468.1 197.8 469.7 197.8 471.4 197.9 C473.1 197.9 474.7 197.9 476.4 197.9 C478.1 197.9 480.6 197.9 481.4 197.9" fill="none" stroke="#0000ff" stroke-width="2.05" stroke-linecap="round" stroke-linejoin="round"/>
<path d="M274.3 162.4 C275.1 162.4 277.6 162.4 279.3 162.4 C281.0 162.5 282.6 162.5 284.3 162.5 C286.0 162.5 287.7 162.6 289.3 162.6 C291.0 162.6 292.7 162.7 294.3 162.7 C296.0 162.7 297.6 162.8 299.3 162.8 C301.0 162.9 302.6 162.9 304.3 163.0 C306.0 163.1 307.6 163.1 309.3 163.2 C311.0 163.3 312.6 163.4 314.3 163.4 C316.0 163.5 317.6 163.7 319.3 163.8 C320.9 163.9 322.6 164.0 324.3 164.2 C325.9 164.4 327.6 164.5 329.2 164.7 C330.9 164.9 332.5 165.1 334.2 165.3 C335.8 165.6 337.5 165.8 339.1 166.0 C340.8 166.3 342.4 166.6 344.1 166.8 C345.7 167.1 347.3 167.5 349.0 167.8 C350.6 168.1 352.2 168.5 353.9 168.8 C355.5 169.2 357.1 169.6 358.7 170.0 C360.4 170.3 362.0 170.8 363.6 171.2 C365.2 171.6 366.8 172.0 368.4 172.4 C370.0 172.9 371.5 173.3 373.3 173.8 C375.0 174.3 377.3 174.9 379.0 175.5 C380.8 176.0 382.2 176.4 383.8 176.9 C385.4 177.4 387.0 177.9 388.6 178.4 C390.2 178.9 391.8 179.4 393.4 179.9 C395.0 180.4 396.5 180.8 398.1 181.3 C399.7 181.8 401.3 182.3 402.9 182.8 C404.5 183.3 406.1 183.8 407.7 184.3 C409.3 184.7 410.9 185.2 412.5 185.7 C414.1 186.1 415.7 186.6 417.3 187.0 C418.9 187.4 420.5 187.8 422.2 188.2 C423.8 188.6 425.4 189.0 427.0 189.4 C428.6 189.8 430.3 190.2 431.9 190.5 C433.5 190.8 435.2 191.2 436.8 191.5 C438.4 191.8 440.1 192.1 441.7 192.4 C443.4 192.7 445.0 193.0 446.6 193.3 C448.3 193.5 449.9 193.8 451.6 194.0 C453.2 194.3 454.9 194.5 456.5 194.8 C458.2 195.0 459.8 195.2 461.5 195.4 C463.1 195.6 464.8 195.8 466.5 196.0 C468.1 196.1 469.8 196.3 471.4 196.4 C473.1 196.6 474.8 196.7 476.4 196.8 C478.1 197.0 480.6 197.1 481.4 197.2" fill="none" stroke="#0000ff" stroke-width="2.05" stroke-linecap="round" stroke-linejoin="round" stroke-dasharray="13 13" stroke-dashoffset="0.0"/>
<path d="M274.3 192.9 C275.1 192.9 277.6 192.9 279.3 192.9 C281.0 192.9 282.6 192.9 284.3 192.9 C286.0 192.9 287.6 192.9 289.3 192.9 C291.0 192.9 292.7 192.9 294.3 193.0 C296.0 193.0 297.7 193.0 299.3 193.0 C301.0 193.0 302.7 193.0 304.3 193.0 C306.0 193.0 307.7 193.0 309.3 193.1 C311.0 193.1 312.7 193.1 314.3 193.1 C316.0 193.1 317.7 193.1 319.3 193.1 C321.0 193.2 322.5 193.2 324.3 193.2 C326.2 193.2 328.5 193.2 330.4 193.3 C332.2 193.3 333.7 193.3 335.4 193.3 C337.0 193.4 338.7 193.4 340.4 193.4 C342.0 193.5 343.7 193.5 345.4 193.6 C347.0 193.6 348.7 193.7 350.4 193.7 C352.0 193.8 353.7 193.8 355.4 193.9 C357.0 193.9 358.7 194.0 360.4 194.1 C362.0 194.1 363.7 194.2 365.4 194.3 C367.0 194.4 368.7 194.4 370.4 194.5 C372.0 194.6 373.7 194.7 375.4 194.8 C377.0 194.9 378.7 195.0 380.4 195.1 C382.0 195.2 383.7 195.3 385.4 195.4 C387.0 195.5 388.7 195.6 390.4 195.7 C392.0 195.7 393.7 195.8 395.4 195.9 C397.0 196.0 398.7 196.1 400.4 196.2 C402.0 196.3 403.7 196.4 405.4 196.5 C407.0 196.5 408.7 196.6 410.3 196.7 C412.0 196.8 413.7 196.9 415.3 196.9 C417.0 197.0 418.7 197.1 420.3 197.1 C422.0 197.2 423.5 197.2 425.4 197.3 C427.2 197.3 429.5 197.4 431.4 197.4 C433.2 197.5 434.7 197.5 436.4 197.5 C438.0 197.6 439.7 197.6 441.4 197.6 C443.0 197.7 444.7 197.7 446.4 197.7 C448.0 197.7 449.7 197.7 451.4 197.8 C453.0 197.8 454.7 197.8 456.4 197.8 C458.0 197.8 459.7 197.8 461.4 197.8 C463.0 197.8 464.7 197.8 466.4 197.9 C468.1 197.9 469.7 197.9 471.4 197.9 C473.1 197.9 474.7 197.9 476.4 197.9 C478.1 197.9 480.6 197.9 481.4 197.9" fill="none" stroke="#ff8000" stroke-width="2.05" stroke-linecap="round" stroke-linejoin="round"/>
<path d="M274.3 186.2 C275.1 186.2 277.6 186.2 279.3 186.2 C281.0 186.2 282.7 186.2 284.3 186.2 C286.0 186.2 287.7 186.2 289.3 186.2 C291.0 186.2 292.7 186.2 294.4 186.2 C296.0 186.3 297.7 186.3 299.4 186.3 C301.1 186.3 302.9 186.3 304.4 186.3 C305.9 186.3 306.9 186.3 308.4 186.3 C309.9 186.3 311.7 186.3 313.4 186.4 C315.1 186.4 316.8 186.4 318.4 186.4 C320.1 186.4 321.8 186.4 323.4 186.4 C325.1 186.5 326.8 186.5 328.5 186.5 C330.1 186.5 331.8 186.5 333.5 186.5 C335.1 186.6 336.8 186.6 338.5 186.6 C340.2 186.7 341.8 186.7 343.5 186.7 C345.2 186.8 346.8 186.8 348.5 186.9 C350.2 186.9 351.9 187.0 353.5 187.1 C355.2 187.1 356.9 187.2 358.5 187.3 C360.2 187.4 361.9 187.5 363.5 187.6 C365.2 187.7 366.9 187.8 368.5 188.0 C370.2 188.1 371.9 188.3 373.5 188.4 C375.2 188.6 377.0 188.8 378.5 189.0 C380.0 189.2 381.0 189.3 382.5 189.5 C384.0 189.7 385.8 189.9 387.5 190.1 C389.1 190.3 390.8 190.5 392.4 190.7 C394.1 190.9 395.8 191.1 397.4 191.3 C399.1 191.5 400.8 191.7 402.4 191.9 C404.1 192.1 405.7 192.3 407.4 192.5 C409.1 192.7 410.7 192.9 412.4 193.1 C414.0 193.2 415.7 193.4 417.4 193.6 C419.0 193.8 420.7 194.0 422.3 194.1 C424.0 194.3 425.7 194.4 427.3 194.6 C429.0 194.8 430.7 194.9 432.3 195.0 C434.0 195.2 435.7 195.3 437.3 195.5 C439.0 195.6 440.8 195.7 442.3 195.9 C443.8 196.0 444.8 196.0 446.3 196.1 C447.8 196.2 449.7 196.4 451.3 196.5 C453.0 196.6 454.7 196.6 456.3 196.7 C458.0 196.8 459.7 196.9 461.3 197.0 C463.0 197.0 464.7 197.1 466.4 197.2 C468.0 197.2 469.7 197.3 471.4 197.3 C473.0 197.4 474.7 197.4 476.4 197.5 C478.1 197.5 480.6 197.6 481.4 197.6" fill="none" stroke="#ff8000" stroke-width="2.05" stroke-linecap="round" stroke-linejoin="round" stroke-dasharray="13 13" stroke-dashoffset="0.0"/>
<path d="M274.3 195.5 C275.1 195.5 277.6 195.5 279.3 195.5 C281.0 195.5 282.6 195.5 284.3 195.5 C286.0 195.6 287.6 195.6 289.3 195.6 C291.0 195.6 292.6 195.6 294.3 195.6 C296.0 195.6 297.6 195.6 299.3 195.6 C301.0 195.7 302.6 195.7 304.3 195.7 C306.0 195.7 307.7 195.7 309.3 195.7 C311.0 195.7 312.7 195.8 314.3 195.8 C316.0 195.8 317.7 195.8 319.3 195.8 C321.0 195.9 322.5 195.9 324.3 195.9 C326.2 195.9 328.5 195.9 330.3 196.0 C332.2 196.0 333.7 196.0 335.3 196.0 C337.0 196.0 338.7 196.1 340.3 196.1 C342.0 196.1 343.7 196.1 345.3 196.2 C347.0 196.2 348.7 196.2 350.3 196.3 C352.0 196.3 353.7 196.3 355.3 196.4 C357.0 196.4 358.7 196.4 360.3 196.5 C362.0 196.5 363.7 196.5 365.3 196.6 C367.0 196.6 368.7 196.6 370.3 196.7 C372.0 196.7 373.7 196.8 375.3 196.8 C377.0 196.8 378.7 196.9 380.3 196.9 C382.0 196.9 383.7 197.0 385.4 197.0 C387.0 197.0 388.7 197.1 390.4 197.1 C392.0 197.1 393.7 197.2 395.4 197.2 C397.0 197.2 398.7 197.3 400.4 197.3 C402.0 197.3 403.7 197.4 405.4 197.4 C407.0 197.5 408.7 197.5 410.4 197.5 C412.0 197.5 413.7 197.6 415.4 197.6 C417.0 197.6 418.7 197.7 420.4 197.7 C422.0 197.7 423.5 197.7 425.4 197.7 C427.2 197.8 429.5 197.8 431.4 197.8 C433.2 197.8 434.7 197.8 436.4 197.8 C438.0 197.8 439.7 197.8 441.4 197.8 C443.0 197.8 444.7 197.8 446.4 197.9 C448.0 197.9 449.7 197.9 451.4 197.9 C453.0 197.9 454.7 197.9 456.4 197.9 C458.1 197.9 459.7 197.9 461.4 197.9 C463.1 197.9 464.7 197.9 466.4 197.9 C468.1 197.9 469.7 197.9 471.4 197.9 C473.1 197.9 474.7 197.9 476.4 197.9 C478.1 197.9 480.6 197.9 481.4 197.9" fill="none" stroke="#ff00ff" stroke-width="2.05" stroke-linecap="round" stroke-linejoin="round"/>
<path d="M274.3 194.4 C275.1 194.4 277.6 194.4 279.3 194.4 C281.0 194.4 282.6 194.4 284.3 194.4 C286.0 194.4 287.6 194.5 289.3 194.5 C291.0 194.5 292.6 194.5 294.3 194.5 C296.0 194.5 297.7 194.5 299.3 194.6 C301.0 194.6 302.7 194.6 304.3 194.6 C306.0 194.6 307.7 194.6 309.3 194.7 C311.0 194.7 312.7 194.7 314.3 194.7 C316.0 194.7 317.7 194.8 319.3 194.8 C321.0 194.8 322.5 194.8 324.3 194.9 C326.2 194.9 328.5 194.9 330.3 195.0 C332.2 195.0 333.7 195.0 335.3 195.0 C337.0 195.1 338.7 195.1 340.3 195.1 C342.0 195.2 343.7 195.2 345.3 195.2 C347.0 195.3 348.7 195.3 350.3 195.4 C352.0 195.4 353.7 195.4 355.3 195.5 C357.0 195.5 358.7 195.6 360.3 195.6 C362.0 195.7 363.7 195.7 365.3 195.8 C367.0 195.8 368.7 195.9 370.3 196.0 C372.0 196.0 373.7 196.1 375.3 196.1 C377.0 196.2 378.7 196.2 380.4 196.3 C382.0 196.3 383.7 196.4 385.4 196.4 C387.0 196.5 388.7 196.5 390.4 196.6 C392.0 196.6 393.7 196.7 395.4 196.7 C397.0 196.8 398.7 196.8 400.4 196.9 C402.0 196.9 403.7 197.0 405.4 197.0 C407.0 197.1 408.7 197.1 410.4 197.2 C412.0 197.2 413.7 197.2 415.4 197.3 C417.0 197.3 418.7 197.4 420.4 197.4 C422.0 197.4 423.5 197.5 425.4 197.5 C427.2 197.5 429.5 197.6 431.4 197.6 C433.2 197.6 434.7 197.6 436.4 197.7 C438.0 197.7 439.7 197.7 441.4 197.7 C443.0 197.7 444.7 197.7 446.4 197.7 C448.0 197.8 449.7 197.8 451.4 197.8 C453.0 197.8 454.7 197.8 456.4 197.8 C458.0 197.8 459.7 197.8 461.4 197.8 C463.1 197.8 464.7 197.9 466.4 197.9 C468.1 197.9 469.7 197.9 471.4 197.9 C473.1 197.9 474.7 197.9 476.4 197.9 C478.1 197.9 480.6 197.9 481.4 197.9" fill="none" stroke="#ff00ff" stroke-width="2.05" stroke-linecap="round" stroke-linejoin="round" stroke-dasharray="13 13" stroke-dashoffset="0.0"/>
</g>
<g clip-path="url(#c20)">
<g stroke="#b8b8b8" stroke-width="1" fill="none"><path d="M496.4 197.1 V206.2"/><path d="M504.4 197.9 V206.9"/><path d="M509.9 185.8 V196.4"/><path d="M513.0 199.4 V208.4"/><path d="M514.2 191.1 V201.6"/><path d="M517.5 179.0 V191.1"/><path d="M520.2 185.8 V193.3"/><path d="M522.9 186.6 V194.1"/><path d="M521.0 188.8 V196.4"/><path d="M523.2 189.6 V197.1"/><path d="M520.2 191.8 V199.4"/><path d="M522.9 192.6 V200.1"/><path d="M521.0 194.9 V202.4"/><path d="M523.2 196.4 V203.9"/><path d="M520.2 197.9 V205.4"/><path d="M522.9 200.1 V207.7"/><path d="M523.2 202.4 V209.9"/><path d="M534.5 199.1 V208.1"/><path d="M536.0 189.6 V200.1"/><path d="M540.1 185.0 V194.1"/><path d="M540.1 191.5 V199.1"/><path d="M545.1 184.3 V191.8"/><path d="M547.3 185.0 V192.6"/><path d="M545.8 187.3 V194.9"/><path d="M548.1 188.1 V195.6"/><path d="M545.1 190.3 V197.9"/><path d="M547.3 191.1 V198.6"/><path d="M545.8 193.3 V200.9"/><path d="M548.1 194.1 V201.6"/><path d="M545.1 196.4 V203.9"/><path d="M547.3 197.9 V205.4"/><path d="M548.9 198.6 V206.2"/><path d="M545.1 200.1 V210.7"/><path d="M548.1 200.1 V207.7"/><path d="M551.6 188.5 V199.1"/><path d="M563.2 196.4 V203.9"/><path d="M566.7 190.3 V197.9"/><path d="M568.2 191.1 V203.1"/><path d="M574.2 178.3 V185.8"/><path d="M574.2 160.2 V169.2"/><path d="M574.5 185.0 V192.6"/><path d="M576.3 185.8 V193.3"/><path d="M574.5 188.1 V195.6"/><path d="M576.3 188.8 V196.4"/><path d="M574.5 191.1 V198.6"/><path d="M576.3 191.8 V199.4"/><path d="M574.5 194.1 V201.6"/><path d="M576.3 194.9 V202.4"/><path d="M574.5 197.1 V204.7"/><path d="M576.3 197.9 V205.4"/><path d="M574.5 200.1 V207.7"/><path d="M574.5 201.6 V212.2"/><path d="M582.8 185.8 V193.3"/><path d="M582.8 188.8 V196.4"/><path d="M582.8 191.8 V199.4"/><path d="M582.8 195.6 V203.1"/><path d="M582.8 197.1 V207.7"/><path d="M581.3 197.1 V204.7"/><path d="M587.8 190.3 V197.9"/><path d="M587.8 193.3 V200.9"/><path d="M587.8 196.4 V203.9"/><path d="M587.8 200.1 V207.7"/><path d="M589.6 188.9 V198.9"/><path d="M590.7 193.5 V202.0"/><path d="M592.0 193.5 V202.4"/><path d="M593.3 196.0 V203.0"/><path d="M594.4 195.9 V205.1"/><path d="M595.2 194.1 V204.3"/><path d="M596.7 191.3 V198.5"/><path d="M597.6 189.8 V198.3"/><path d="M598.4 194.1 V200.8"/><path d="M599.6 194.4 V202.6"/><path d="M601.0 189.2 V197.6"/><path d="M602.3 192.3 V200.5"/><path d="M603.3 199.9 V209.6"/><path d="M604.6 192.8 V200.6"/><path d="M605.6 191.9 V201.3"/><path d="M606.7 192.9 V202.6"/><path d="M607.8 198.0 V204.7"/><path d="M608.7 190.6 V200.6"/><path d="M609.9 195.8 V202.7"/><path d="M611.1 191.8 V201.2"/><path d="M612.2 193.6 V203.7"/><path d="M613.5 194.4 V201.5"/><path d="M614.5 192.7 V202.3"/><path d="M615.4 193.0 V201.6"/><path d="M616.6 194.7 V201.8"/><path d="M617.8 196.9 V204.0"/><path d="M619.0 192.2 V202.3"/><path d="M620.3 194.8 V202.5"/><path d="M621.8 192.5 V202.3"/><path d="M623.0 195.7 V202.7"/><path d="M624.5 192.5 V202.0"/><path d="M625.6 194.8 V202.5"/><path d="M626.5 195.7 V203.3"/><path d="M627.7 194.5 V202.5"/><path d="M628.8 195.1 V203.9"/><path d="M630.3 192.5 V199.8"/><path d="M631.2 196.8 V204.3"/><path d="M632.1 189.7 V199.0"/><path d="M633.6 193.8 V203.7"/><path d="M634.9 198.3 V206.5"/><path d="M635.8 199.1 V206.6"/><path d="M637.1 194.5 V202.1"/><path d="M638.5 191.5 V198.8"/><path d="M639.8 192.2 V199.1"/><path d="M640.8 188.0 V196.8"/><path d="M641.8 190.1 V200.1"/><path d="M642.1 197.1 V203.6"/><path d="M642.4 196.3 V201.9"/><path d="M642.9 194.5 V200.2"/><path d="M643.2 197.5 V203.8"/><path d="M643.9 198.0 V205.1"/><path d="M644.2 195.2 V202.0"/><path d="M644.7 195.4 V203.1"/><path d="M645.0 195.4 V202.6"/><path d="M645.8 198.2 V204.8"/><path d="M646.1 195.7 V202.9"/><path d="M646.6 196.3 V203.0"/><path d="M646.9 195.3 V202.5"/><path d="M647.7 195.0 V202.4"/><path d="M648.0 192.3 V199.9"/><path d="M648.5 193.6 V201.2"/><path d="M648.8 192.1 V198.6"/><path d="M649.6 197.0 V203.9"/><path d="M649.9 194.0 V200.3"/><path d="M650.5 194.9 V201.8"/><path d="M650.8 194.5 V202.4"/><path d="M651.6 195.1 V202.3"/><path d="M651.9 193.7 V200.6"/><path d="M652.5 195.7 V202.9"/><path d="M652.8 195.5 V201.0"/><path d="M653.4 194.1 V201.2"/><path d="M653.7 195.8 V202.4"/><path d="M654.4 197.4 V202.9"/><path d="M654.7 195.2 V201.3"/><path d="M655.4 195.4 V203.1"/><path d="M655.7 196.5 V203.5"/><path d="M656.2 196.7 V203.7"/><path d="M656.5 195.0 V200.9"/><path d="M657.1 196.5 V204.1"/><path d="M657.4 192.0 V198.3"/><path d="M658.1 195.2 V201.8"/><path d="M658.4 196.1 V203.5"/><path d="M659.1 194.8 V200.9"/><path d="M659.4 191.7 V197.5"/><path d="M660.0 195.5 V201.9"/><path d="M660.3 196.7 V203.6"/><path d="M592.0 199.4 V209.9"/><path d="M593.5 200.9 V209.9"/><path d="M664.4 195.2 V199.7"/><path d="M667.4 197.4 V202.8"/><path d="M673.8 192.3 V205.0"/><path d="M679.2 200.4 V206.5"/><path d="M693.1 195.6 V201.6"/></g>
<g fill="#aaaaaa"><circle cx="496.4" cy="201.6" r="1.85"/><circle cx="504.4" cy="202.4" r="1.85"/><circle cx="509.9" cy="191.1" r="1.85"/><circle cx="513.0" cy="203.9" r="1.85"/><circle cx="514.2" cy="196.4" r="1.85"/><circle cx="517.5" cy="185.0" r="1.85"/><circle cx="520.2" cy="189.6" r="1.85"/><circle cx="522.9" cy="190.3" r="1.85"/><circle cx="521.0" cy="192.6" r="1.85"/><circle cx="523.2" cy="193.3" r="1.85"/><circle cx="520.2" cy="195.6" r="1.85"/><circle cx="522.9" cy="196.4" r="1.85"/><circle cx="521.0" cy="198.6" r="1.85"/><circle cx="523.2" cy="200.1" r="1.85"/><circle cx="520.2" cy="201.6" r="1.85"/><circle cx="522.9" cy="203.9" r="1.85"/><circle cx="523.2" cy="206.2" r="1.85"/><circle cx="534.5" cy="203.6" r="1.85"/><circle cx="536.0" cy="194.9" r="1.85"/><circle cx="540.1" cy="189.6" r="1.85"/><circle cx="540.1" cy="195.3" r="1.85"/><circle cx="545.1" cy="188.1" r="1.85"/><circle cx="547.3" cy="188.8" r="1.85"/><circle cx="545.8" cy="191.1" r="1.85"/><circle cx="548.1" cy="191.8" r="1.85"/><circle cx="545.1" cy="194.1" r="1.85"/><circle cx="547.3" cy="194.9" r="1.85"/><circle cx="545.8" cy="197.1" r="1.85"/><circle cx="548.1" cy="197.9" r="1.85"/><circle cx="545.1" cy="200.1" r="1.85"/><circle cx="547.3" cy="201.6" r="1.85"/><circle cx="548.9" cy="202.4" r="1.85"/><circle cx="545.1" cy="205.4" r="1.85"/><circle cx="548.1" cy="203.9" r="1.85"/><circle cx="551.6" cy="193.8" r="1.85"/><circle cx="563.2" cy="200.1" r="1.85"/><circle cx="566.7" cy="194.1" r="1.85"/><circle cx="568.2" cy="197.1" r="1.85"/><circle cx="574.2" cy="182.0" r="1.85"/><circle cx="574.2" cy="164.7" r="1.85"/><circle cx="574.5" cy="188.8" r="1.85"/><circle cx="576.3" cy="189.6" r="1.85"/><circle cx="574.5" cy="191.8" r="1.85"/><circle cx="576.3" cy="192.6" r="1.85"/><circle cx="574.5" cy="194.9" r="1.85"/><circle cx="576.3" cy="195.6" r="1.85"/><circle cx="574.5" cy="197.9" r="1.85"/><circle cx="576.3" cy="198.6" r="1.85"/><circle cx="574.5" cy="200.9" r="1.85"/><circle cx="576.3" cy="201.6" r="1.85"/><circle cx="574.5" cy="203.9" r="1.85"/><circle cx="574.5" cy="206.9" r="1.85"/><circle cx="582.8" cy="189.6" r="1.85"/><circle cx="582.8" cy="192.6" r="1.85"/><circle cx="582.8" cy="195.6" r="1.85"/><circle cx="582.8" cy="199.4" r="1.85"/><circle cx="582.8" cy="202.4" r="1.85"/><circle cx="581.3" cy="200.9" r="1.85"/><circle cx="587.8" cy="194.1" r="1.85"/><circle cx="587.8" cy="197.1" r="1.85"/><circle cx="587.8" cy="200.1" r="1.85"/><circle cx="587.8" cy="203.9" r="1.85"/><circle cx="589.6" cy="193.9" r="1.85"/><circle cx="590.7" cy="197.7" r="1.85"/><circle cx="592.0" cy="198.0" r="1.85"/><circle cx="593.3" cy="199.5" r="1.85"/><circle cx="594.4" cy="200.5" r="1.85"/><circle cx="595.2" cy="199.2" r="1.85"/><circle cx="596.7" cy="194.9" r="1.85"/><circle cx="597.6" cy="194.1" r="1.85"/><circle cx="598.4" cy="197.5" r="1.85"/><circle cx="599.6" cy="198.5" r="1.85"/><circle cx="601.0" cy="193.4" r="1.85"/><circle cx="602.3" cy="196.4" r="1.85"/><circle cx="603.3" cy="204.8" r="1.85"/><circle cx="604.6" cy="196.7" r="1.85"/><circle cx="605.6" cy="196.6" r="1.85"/><circle cx="606.7" cy="197.7" r="1.85"/><circle cx="607.8" cy="201.3" r="1.85"/><circle cx="608.7" cy="195.6" r="1.85"/><circle cx="609.9" cy="199.2" r="1.85"/><circle cx="611.1" cy="196.5" r="1.85"/><circle cx="612.2" cy="198.7" r="1.85"/><circle cx="613.5" cy="197.9" r="1.85"/><circle cx="614.5" cy="197.5" r="1.85"/><circle cx="615.4" cy="197.3" r="1.85"/><circle cx="616.6" cy="198.2" r="1.85"/><circle cx="617.8" cy="200.5" r="1.85"/><circle cx="619.0" cy="197.3" r="1.85"/><circle cx="620.3" cy="198.7" r="1.85"/><circle cx="621.8" cy="197.4" r="1.85"/><circle cx="623.0" cy="199.2" r="1.85"/><circle cx="624.5" cy="197.2" r="1.85"/><circle cx="625.6" cy="198.6" r="1.85"/><circle cx="626.5" cy="199.5" r="1.85"/><circle cx="627.7" cy="198.5" r="1.85"/><circle cx="628.8" cy="199.5" r="1.85"/><circle cx="630.3" cy="196.1" r="1.85"/><circle cx="631.2" cy="200.6" r="1.85"/><circle cx="632.1" cy="194.4" r="1.85"/><circle cx="633.6" cy="198.8" r="1.85"/><circle cx="634.9" cy="202.4" r="1.85"/><circle cx="635.8" cy="202.8" r="1.85"/><circle cx="637.1" cy="198.3" r="1.85"/><circle cx="638.5" cy="195.2" r="1.85"/><circle cx="639.8" cy="195.7" r="1.85"/><circle cx="640.8" cy="192.4" r="1.85"/><circle cx="641.8" cy="195.1" r="1.85"/><circle cx="642.1" cy="200.4" r="1.85"/><circle cx="642.4" cy="199.1" r="1.85"/><circle cx="642.9" cy="197.3" r="1.85"/><circle cx="643.2" cy="200.7" r="1.85"/><circle cx="643.9" cy="201.6" r="1.85"/><circle cx="644.2" cy="198.6" r="1.85"/><circle cx="644.7" cy="199.3" r="1.85"/><circle cx="645.0" cy="199.0" r="1.85"/><circle cx="645.8" cy="201.5" r="1.85"/><circle cx="646.1" cy="199.3" r="1.85"/><circle cx="646.6" cy="199.6" r="1.85"/><circle cx="646.9" cy="198.9" r="1.85"/><circle cx="647.7" cy="198.7" r="1.85"/><circle cx="648.0" cy="196.1" r="1.85"/><circle cx="648.5" cy="197.4" r="1.85"/><circle cx="648.8" cy="195.4" r="1.85"/><circle cx="649.6" cy="200.5" r="1.85"/><circle cx="649.9" cy="197.1" r="1.85"/><circle cx="650.5" cy="198.4" r="1.85"/><circle cx="650.8" cy="198.5" r="1.85"/><circle cx="651.6" cy="198.7" r="1.85"/><circle cx="651.9" cy="197.1" r="1.85"/><circle cx="652.5" cy="199.3" r="1.85"/><circle cx="652.8" cy="198.3" r="1.85"/><circle cx="653.4" cy="197.6" r="1.85"/><circle cx="653.7" cy="199.1" r="1.85"/><circle cx="654.4" cy="200.1" r="1.85"/><circle cx="654.7" cy="198.3" r="1.85"/><circle cx="655.4" cy="199.3" r="1.85"/><circle cx="655.7" cy="200.0" r="1.85"/><circle cx="656.2" cy="200.2" r="1.85"/><circle cx="656.5" cy="197.9" r="1.85"/><circle cx="657.1" cy="200.3" r="1.85"/><circle cx="657.4" cy="195.2" r="1.85"/><circle cx="658.1" cy="198.5" r="1.85"/><circle cx="658.4" cy="199.8" r="1.85"/><circle cx="659.1" cy="197.9" r="1.85"/><circle cx="659.4" cy="194.6" r="1.85"/><circle cx="660.0" cy="198.7" r="1.85"/><circle cx="660.3" cy="200.2" r="1.85"/><circle cx="592.0" cy="204.7" r="1.85"/><circle cx="593.5" cy="205.4" r="1.85"/><circle cx="664.4" cy="197.4" r="1.85"/><circle cx="667.4" cy="200.1" r="1.85"/><circle cx="673.8" cy="198.6" r="1.85"/><circle cx="679.2" cy="203.5" r="1.85"/><circle cx="693.1" cy="198.6" r="1.85"/></g>
<g stroke="#111" stroke-width="1" fill="none"><path d="M520.6 102.8 V119.6"/><path d="M520.6 123.0 V138.0"/><path d="M548.0 87.2 V103.2"/><path d="M548.0 99.3 V115.3"/><path d="M545.2 115.5 V131.5"/><path d="M548.0 132.1 V146.1"/><path d="M548.7 141.3 V155.3"/><path d="M561.6 143.2 V151.2"/><path d="M566.6 136.3 V144.3"/><path d="M546.4 155.7 V163.7"/><path d="M521.0 156.5 V170.5"/><path d="M520.6 166.5 V178.5"/><path d="M520.6 168.8 V180.8"/><path d="M520.6 176.2 V188.2"/><path d="M548.0 169.1 V181.1"/><path d="M541.4 174.2 V185.2"/><path d="M545.2 174.7 V184.7"/><path d="M574.7 171.6 V179.2"/><path d="M582.6 165.8 V177.4"/><path d="M582.5 116.1 V132.1"/><path d="M561.6 181.4 V188.4"/><path d="M567.4 181.4 V188.4"/><path d="M594.1 14.7 V26.7"/><path d="M592.0 110.7 V128.7"/><path d="M591.9 137.4 V155.4"/><path d="M597.9 138.0 V145.0"/><path d="M591.9 155.5 V171.5"/><path d="M591.9 171.5 V185.5"/><path d="M606.4 158.8 V166.8"/><path d="M608.4 155.3 V163.3"/><path d="M617.1 150.5 V164.5"/><path d="M600.8 179.6 V186.6"/><path d="M612.1 179.0 V185.4"/><path d="M596.4 185.9 V192.9"/><path d="M624.8 134.3 V142.9"/><path d="M630.9 183.0 V189.0"/><path d="M640.7 185.0 V191.0"/><path d="M645.3 181.1 V187.5"/><path d="M654.6 179.0 V185.4"/></g>
<g fill="#000"><circle cx="520.6" cy="111.2" r="1.7"/><circle cx="520.6" cy="130.5" r="1.7"/><circle cx="548.0" cy="95.2" r="1.7"/><circle cx="548.0" cy="107.3" r="1.7"/><circle cx="545.2" cy="123.5" r="1.7"/><circle cx="548.0" cy="139.1" r="1.7"/><circle cx="548.7" cy="148.3" r="1.7"/><circle cx="561.6" cy="147.2" r="1.7"/><circle cx="566.6" cy="140.3" r="1.7"/><circle cx="546.4" cy="159.7" r="1.7"/><circle cx="521.0" cy="163.5" r="1.7"/><circle cx="520.6" cy="172.5" r="1.7"/><circle cx="520.6" cy="174.8" r="1.7"/><circle cx="520.6" cy="182.2" r="1.7"/><circle cx="548.0" cy="175.1" r="1.7"/><circle cx="541.4" cy="179.7" r="1.7"/><circle cx="545.2" cy="179.7" r="1.7"/><circle cx="574.7" cy="175.4" r="1.7"/><circle cx="582.6" cy="171.6" r="1.7"/><circle cx="582.5" cy="124.1" r="1.7"/><circle cx="561.6" cy="184.9" r="1.7"/><circle cx="567.4" cy="184.9" r="1.7"/><circle cx="594.1" cy="20.7" r="1.7"/><circle cx="592.0" cy="119.7" r="1.7"/><circle cx="591.9" cy="146.4" r="1.7"/><circle cx="597.9" cy="141.5" r="1.7"/><circle cx="591.9" cy="163.5" r="1.7"/><circle cx="591.9" cy="178.5" r="1.7"/><circle cx="606.4" cy="162.8" r="1.7"/><circle cx="608.4" cy="159.3" r="1.7"/><circle cx="617.1" cy="157.5" r="1.7"/><circle cx="600.8" cy="183.1" r="1.7"/><circle cx="612.1" cy="182.2" r="1.7"/><circle cx="596.4" cy="189.4" r="1.7"/><circle cx="624.8" cy="138.6" r="1.7"/><circle cx="630.9" cy="186.0" r="1.7"/><circle cx="640.7" cy="188.0" r="1.7"/><circle cx="645.3" cy="184.3" r="1.7"/><circle cx="654.6" cy="182.2" r="1.7"/></g>
<path d="M568.6 -10.0 C568.7 -9.2 569.2 -6.7 569.5 -5.1 C569.7 -3.4 570.0 -1.8 570.3 -0.1 C570.6 1.5 570.9 3.2 571.1 4.8 C571.4 6.5 571.7 8.1 571.9 9.8 C572.2 11.4 572.4 13.1 572.7 14.7 C573.0 16.4 573.2 18.0 573.5 19.6 C573.7 21.3 574.0 22.9 574.3 24.6 C574.6 26.2 574.8 27.9 575.1 29.5 C575.4 31.2 575.7 32.8 576.0 34.5 C576.2 36.1 576.5 37.8 576.8 39.4 C577.1 41.0 577.4 42.7 577.7 44.3 C578.0 46.0 578.3 47.6 578.6 49.3 C578.9 50.9 579.2 52.6 579.5 54.2 C579.8 55.8 580.0 57.5 580.3 59.1 C580.6 60.8 580.9 62.4 581.2 64.1 C581.5 65.7 581.8 67.3 582.1 69.0 C582.4 70.6 582.7 72.3 583.0 73.9 C583.3 75.6 583.6 77.2 583.9 78.8 C584.2 80.5 584.5 82.1 584.8 83.8 C585.1 85.4 585.4 87.1 585.7 88.7 C586.0 90.3 586.3 92.0 586.7 93.6 C587.0 95.2 587.3 96.9 587.7 98.5 C588.1 100.1 588.5 101.8 588.9 103.4 C589.3 105.0 589.8 106.6 590.2 108.2 C590.7 109.8 591.2 111.4 591.7 113.0 C592.2 114.6 592.8 116.3 593.2 117.7 C593.7 119.2 594.0 120.1 594.5 121.5 C595.0 123.0 595.5 124.7 596.1 126.3 C596.6 127.9 597.1 129.5 597.7 131.0 C598.2 132.6 598.8 134.2 599.4 135.8 C600.0 137.3 600.6 138.9 601.2 140.4 C601.8 141.9 602.5 143.5 603.2 145.0 C603.9 146.5 604.6 148.0 605.3 149.5 C606.0 151.0 606.8 152.5 607.5 154.0 C608.3 155.5 609.1 157.0 609.9 158.4 C610.8 159.8 611.7 161.3 612.6 162.6 C613.5 164.0 614.4 165.4 615.4 166.7 C616.4 168.1 617.5 169.4 618.5 170.6 C619.6 171.9 620.8 173.1 621.9 174.3 C623.1 175.4 624.3 176.6 625.6 177.6 C626.9 178.7 628.2 179.7 629.5 180.7 C630.9 181.6 632.3 182.5 633.7 183.3 C635.2 184.2 636.6 184.9 638.1 185.7 C639.6 186.4 641.2 187.0 642.7 187.7 C644.2 188.3 645.8 188.9 647.4 189.4 C648.9 190.0 650.5 190.5 652.1 191.0 C653.7 191.5 655.3 191.9 657.0 192.3 C658.6 192.7 660.2 193.1 661.8 193.4 C663.5 193.8 665.1 194.1 666.7 194.4 C668.4 194.7 670.0 195.0 671.7 195.2 C673.3 195.5 675.0 195.7 676.6 195.9 C678.3 196.1 679.9 196.3 681.6 196.4 C683.3 196.6 684.9 196.8 686.6 196.9 C688.3 197.0 690.8 197.2 691.6 197.3" fill="none" stroke="#ff0000" stroke-width="2.05" stroke-linecap="round" stroke-linejoin="round"/>
<path d="M653.7 -10.0 C653.8 -9.2 654.2 -6.7 654.5 -5.0 C654.7 -3.4 655.0 -1.7 655.3 -0.1 C655.5 1.6 655.8 3.2 656.1 4.9 C656.4 6.5 656.7 8.2 657.0 9.8 C657.3 11.5 657.5 13.1 657.8 14.8 C658.0 16.4 658.2 18.1 658.4 19.8 C658.7 21.4 658.9 23.1 659.1 24.7 C659.3 26.4 659.5 28.1 659.7 29.7 C660.0 31.4 660.2 33.0 660.5 34.7 C660.8 36.3 661.1 38.0 661.3 39.6 C661.6 41.3 661.9 42.9 662.1 44.6 C662.4 46.2 662.7 47.9 663.0 49.5 C663.3 51.2 663.6 52.8 663.9 54.5 C664.2 56.1 664.5 57.8 664.8 59.4 C665.2 61.1 665.5 62.7 665.8 64.3 C666.1 66.0 666.4 67.6 666.6 69.3 C666.9 70.9 667.1 72.6 667.4 74.2 C667.7 75.9 667.9 77.6 668.2 79.2 C668.5 80.8 668.8 82.5 669.2 84.1 C669.5 85.8 669.9 87.4 670.3 89.0 C670.7 90.6 671.1 92.3 671.5 93.9 C672.0 95.5 672.4 97.1 672.8 98.7 C673.3 100.4 673.7 102.0 674.2 103.6 C674.7 105.2 675.1 106.8 675.6 108.4 C676.1 110.0 676.6 111.6 677.1 113.2 C677.6 114.8 678.1 116.4 678.5 118.0 C679.0 119.6 679.5 121.2 679.9 122.8 C680.4 124.4 680.9 126.0 681.4 127.6 C681.9 129.2 682.4 130.8 683.0 132.3 C683.6 133.9 684.3 135.4 684.9 137.0 C685.6 138.5 686.3 140.0 687.1 141.5 C687.8 143.0 688.5 144.5 689.3 146.0 C690.1 147.5 691.2 149.8 691.6 150.5" fill="none" stroke="#ff0000" stroke-width="2.05" stroke-linecap="round" stroke-linejoin="round" stroke-dasharray="13 13" stroke-dashoffset="12.1"/>
<path d="M557.6 -10.0 C557.8 -9.2 558.3 -6.7 558.7 -5.1 C559.0 -3.5 559.4 -1.8 559.7 -0.2 C560.1 1.4 560.4 3.1 560.8 4.7 C561.2 6.3 561.5 8.0 561.9 9.6 C562.2 11.2 562.6 12.8 563.0 14.5 C563.3 16.1 563.7 17.7 564.1 19.4 C564.4 21.0 564.8 22.6 565.2 24.3 C565.5 25.9 565.9 27.5 566.3 29.1 C566.7 30.8 567.0 32.4 567.4 34.0 C567.8 35.7 568.1 37.3 568.5 38.9 C568.9 40.5 569.3 42.2 569.6 43.8 C570.0 45.4 570.4 47.1 570.8 48.7 C571.2 50.3 571.6 52.1 571.9 53.6 C572.3 55.0 572.5 56.0 572.8 57.5 C573.2 58.9 573.6 60.7 574.0 62.3 C574.4 64.0 574.8 65.6 575.2 67.2 C575.6 68.8 576.0 70.5 576.4 72.1 C576.8 73.7 577.2 75.3 577.5 77.0 C577.9 78.6 578.3 80.2 578.7 81.8 C579.1 83.5 579.5 85.1 580.0 86.7 C580.4 88.3 580.8 89.9 581.2 91.6 C581.6 93.2 582.0 94.8 582.5 96.4 C583.0 98.0 583.4 99.6 583.9 101.2 C584.4 102.8 584.9 104.4 585.5 105.9 C586.0 107.5 586.6 109.1 587.1 110.7 C587.7 112.2 588.3 113.8 588.9 115.4 C589.5 116.9 590.1 118.5 590.7 120.1 C591.3 121.6 591.8 123.2 592.4 124.7 C593.0 126.3 593.6 127.9 594.2 129.4 C594.7 131.0 595.3 132.6 595.9 134.1 C596.5 135.7 597.1 137.3 597.7 138.8 C598.4 140.4 599.0 141.9 599.7 143.4 C600.4 145.0 601.1 146.5 601.8 148.0 C602.5 149.5 603.2 151.0 604.0 152.5 C604.8 153.9 605.6 155.4 606.4 156.9 C607.2 158.3 608.1 159.8 608.9 161.2 C609.8 162.6 610.7 164.0 611.7 165.3 C612.7 166.7 613.7 168.0 614.8 169.2 C615.8 170.5 617.0 171.7 618.1 172.9 C619.3 174.1 620.5 175.2 621.8 176.3 C623.1 177.4 624.5 178.5 625.7 179.4 C626.9 180.2 627.8 180.8 629.0 181.6 C630.3 182.3 631.9 183.2 633.4 184.0 C634.9 184.8 636.4 185.5 637.9 186.1 C639.4 186.8 641.0 187.4 642.5 188.0 C644.1 188.5 645.7 189.1 647.3 189.6 C648.9 190.1 650.5 190.6 652.1 191.0 C653.7 191.5 655.3 191.9 656.9 192.3 C658.5 192.7 660.2 193.1 661.8 193.4 C663.4 193.7 665.1 194.0 666.7 194.3 C668.4 194.6 670.0 194.9 671.7 195.1 C673.3 195.4 675.0 195.6 676.6 195.8 C678.3 196.0 679.9 196.2 681.6 196.4 C683.3 196.6 684.9 196.7 686.6 196.9 C688.3 197.0 690.8 197.2 691.6 197.3" fill="none" stroke="#00ff00" stroke-width="2.05" stroke-linecap="round" stroke-linejoin="round"/>
<path d="M646.9 -10.0 C647.1 -9.2 647.5 -6.7 647.8 -5.1 C648.1 -3.4 648.4 -1.8 648.7 -0.2 C649.0 1.5 649.3 3.1 649.7 4.8 C650.0 6.4 650.3 8.0 650.6 9.7 C650.9 11.3 651.2 13.0 651.5 14.6 C651.8 16.2 652.1 17.9 652.4 19.5 C652.7 21.2 653.1 22.8 653.4 24.4 C653.7 26.1 654.0 27.9 654.3 29.4 C654.6 30.8 654.8 31.8 655.0 33.3 C655.3 34.8 655.7 36.6 656.0 38.2 C656.3 39.9 656.6 41.5 656.9 43.1 C657.2 44.8 657.5 46.4 657.8 48.1 C658.1 49.7 658.4 51.3 658.8 53.0 C659.1 54.6 659.4 56.2 659.8 57.9 C660.1 59.5 660.5 61.1 660.8 62.8 C661.2 64.4 661.5 66.0 661.9 67.7 C662.2 69.3 662.6 70.9 662.9 72.6 C663.3 74.2 663.6 75.8 664.0 77.4 C664.4 79.1 664.7 80.7 665.1 82.3 C665.5 83.9 665.9 85.6 666.3 87.2 C666.7 88.8 667.1 90.4 667.5 92.1 C667.9 93.7 668.2 95.3 668.6 96.9 C669.0 98.5 669.4 100.1 669.9 101.8 C670.3 103.4 670.8 104.9 671.3 106.5 C671.8 108.1 672.4 109.7 672.9 111.3 C673.5 112.8 674.1 114.6 674.6 116.0 C675.1 117.4 675.5 118.3 675.9 119.7 C676.4 121.2 677.0 122.9 677.6 124.5 C678.2 126.0 678.8 127.6 679.4 129.1 C680.0 130.7 680.7 132.2 681.4 133.7 C682.1 135.2 682.8 136.7 683.5 138.2 C684.2 139.7 684.9 141.2 685.6 142.7 C686.3 144.3 687.0 145.8 687.6 147.3 C688.3 148.8 689.0 150.4 689.6 151.9 C690.3 153.4 691.3 155.7 691.6 156.5" fill="none" stroke="#00ff00" stroke-width="2.05" stroke-linecap="round" stroke-linejoin="round" stroke-dasharray="13 13" stroke-dashoffset="12.3"/>
<path d="M484.2 69.3 C485.0 69.4 487.5 69.6 489.2 69.8 C490.9 70.0 492.5 70.1 494.2 70.4 C495.8 70.6 497.5 70.8 499.1 71.1 C500.8 71.4 502.4 71.7 504.1 72.0 C505.7 72.4 507.3 72.7 508.9 73.2 C510.5 73.6 512.2 74.0 513.7 74.5 C515.3 75.0 516.9 75.5 518.5 76.1 C520.1 76.6 521.7 77.2 523.2 77.8 C524.8 78.4 526.3 79.1 527.8 79.8 C529.4 80.4 530.9 81.1 532.4 81.9 C533.9 82.6 535.4 83.4 536.8 84.2 C538.3 85.0 539.7 85.9 541.1 86.7 C542.5 87.6 543.9 88.6 545.3 89.5 C546.6 90.5 548.0 91.5 549.2 92.6 C550.5 93.6 551.8 94.7 553.0 95.9 C554.2 97.0 555.4 98.2 556.6 99.3 C557.8 100.5 558.9 101.8 560.1 103.0 C561.2 104.2 562.3 105.5 563.4 106.7 C564.4 108.0 565.5 109.3 566.6 110.6 C567.6 111.9 568.7 113.2 569.7 114.5 C570.7 115.8 571.8 117.1 572.8 118.5 C573.8 119.8 574.8 121.1 575.8 122.4 C576.9 123.8 577.9 125.1 578.9 126.4 C579.9 127.8 580.8 129.1 581.8 130.5 C582.8 131.8 583.8 133.2 584.8 134.5 C585.8 135.9 586.8 137.2 587.8 138.5 C588.8 139.9 589.8 141.2 590.9 142.5 C591.9 143.8 592.9 145.1 594.0 146.4 C595.0 147.7 596.1 149.0 597.2 150.3 C598.2 151.6 599.3 152.9 600.4 154.1 C601.5 155.4 602.6 156.7 603.7 157.9 C604.8 159.2 605.9 160.4 607.0 161.7 C608.1 162.9 609.3 164.2 610.4 165.4 C611.5 166.6 612.7 167.8 613.9 169.0 C615.0 170.2 616.2 171.4 617.4 172.6 C618.6 173.7 619.8 174.9 621.1 176.0 C622.3 177.0 623.6 178.1 624.9 179.1 C626.3 180.1 627.6 181.1 629.0 182.0 C630.4 183.0 631.8 183.8 633.3 184.6 C634.7 185.4 636.2 186.2 637.7 186.9 C639.2 187.5 640.8 188.2 642.3 188.7 C643.9 189.3 645.5 189.8 647.1 190.3 C648.7 190.8 650.3 191.3 651.9 191.7 C653.5 192.1 655.2 192.4 656.8 192.8 C658.4 193.1 660.1 193.4 661.7 193.7 C663.4 194.0 665.0 194.3 666.7 194.5 C668.3 194.8 670.0 195.0 671.6 195.2 C673.3 195.4 674.9 195.6 676.6 195.8 C678.3 196.0 679.9 196.2 681.6 196.3 C683.3 196.5 684.9 196.6 686.6 196.7 C688.3 196.9 690.8 197.0 691.6 197.1" fill="none" stroke="#0000ff" stroke-width="2.05" stroke-linecap="round" stroke-linejoin="round"/>
<path d="M623.9 -10.0 C624.1 -9.2 624.9 -6.8 625.4 -5.2 C625.9 -3.6 626.4 -2.0 626.9 -0.4 C627.4 1.2 627.9 2.8 628.3 4.4 C628.8 6.0 629.3 7.6 629.8 9.2 C630.2 10.8 630.7 12.4 631.2 14.0 C631.6 15.6 632.0 17.2 632.5 18.8 C632.9 20.4 633.4 22.0 633.8 23.7 C634.3 25.3 634.8 26.9 635.2 28.5 C635.7 30.1 636.2 31.6 636.7 33.2 C637.2 34.8 637.7 36.4 638.2 38.0 C638.7 39.6 639.2 41.2 639.6 42.8 C640.1 44.4 640.5 46.0 641.0 47.6 C641.5 49.2 641.9 50.8 642.4 52.4 C642.9 54.0 643.4 55.6 644.0 57.2 C644.5 58.8 645.0 60.4 645.5 62.0 C646.0 63.6 646.5 65.2 647.0 66.7 C647.5 68.3 647.9 70.0 648.4 71.5 C648.9 73.1 649.3 74.7 649.9 76.3 C650.4 77.9 650.9 79.5 651.5 81.0 C652.1 82.6 652.7 84.1 653.3 85.7 C653.9 87.3 654.5 88.8 655.1 90.4 C655.7 92.0 656.2 93.5 656.8 95.1 C657.3 96.7 657.9 98.3 658.5 99.8 C659.0 101.4 659.6 102.9 660.3 104.5 C660.9 106.0 661.6 107.6 662.2 109.1 C662.9 110.6 663.6 112.1 664.3 113.7 C664.9 115.2 665.6 116.7 666.3 118.2 C667.0 119.8 667.7 121.3 668.4 122.8 C669.1 124.3 669.8 125.8 670.5 127.3 C671.3 128.8 672.1 130.3 672.8 131.8 C673.6 133.3 674.4 134.7 675.2 136.2 C676.0 137.7 676.7 139.2 677.5 140.6 C678.3 142.1 679.1 143.6 679.9 145.0 C680.7 146.5 681.6 147.9 682.5 149.3 C683.4 150.7 684.3 152.0 685.3 153.4 C686.3 154.7 687.3 156.0 688.4 157.3 C689.4 158.6 691.1 160.6 691.6 161.2" fill="none" stroke="#0000ff" stroke-width="2.05" stroke-linecap="round" stroke-linejoin="round" stroke-dasharray="13 13" stroke-dashoffset="12.2"/>
<path d="M484.2 154.6 C485.0 154.6 487.6 154.6 489.2 154.6 C490.9 154.7 492.6 154.7 494.3 154.7 C495.9 154.7 497.6 154.8 499.3 154.8 C500.9 154.8 502.6 154.9 504.3 154.9 C506.0 155.0 507.6 155.0 509.3 155.1 C511.0 155.1 512.7 155.2 514.3 155.3 C516.0 155.3 517.7 155.4 519.3 155.5 C521.0 155.6 522.7 155.7 524.4 155.8 C526.0 155.9 527.7 156.1 529.4 156.2 C531.0 156.3 532.9 156.5 534.4 156.6 C535.9 156.8 536.9 156.9 538.4 157.0 C539.9 157.2 541.7 157.4 543.4 157.5 C545.0 157.7 546.7 157.9 548.4 158.1 C550.0 158.4 551.7 158.6 553.3 158.8 C555.0 159.1 556.6 159.3 558.3 159.6 C559.9 159.8 561.6 160.1 563.2 160.4 C564.9 160.7 566.5 161.1 568.2 161.4 C569.8 161.7 571.4 162.1 573.1 162.5 C574.7 162.9 576.3 163.3 577.9 163.7 C579.6 164.2 581.2 164.6 582.8 165.1 C584.3 165.6 585.9 166.2 587.5 166.7 C589.1 167.3 590.6 167.9 592.2 168.5 C593.7 169.2 595.3 169.8 596.8 170.5 C598.3 171.2 599.9 171.9 601.4 172.6 C602.9 173.3 604.4 174.0 605.9 174.7 C607.4 175.5 608.9 176.2 610.4 176.9 C611.9 177.7 613.4 178.4 614.9 179.1 C616.5 179.8 618.0 180.6 619.5 181.2 C621.0 181.9 622.6 182.6 624.1 183.3 C625.6 183.9 627.2 184.6 628.7 185.2 C630.3 185.8 631.9 186.4 633.4 186.9 C635.0 187.5 636.8 188.1 638.2 188.6 C639.6 189.0 640.6 189.3 642.0 189.7 C643.5 190.2 645.2 190.6 646.9 191.1 C648.5 191.5 650.1 191.8 651.8 192.2 C653.4 192.5 655.0 192.9 656.7 193.2 C658.3 193.5 660.0 193.7 661.6 194.0 C663.3 194.3 664.9 194.5 666.6 194.7 C668.3 194.9 669.9 195.1 671.6 195.3 C673.2 195.5 674.9 195.7 676.6 195.9 C678.2 196.1 679.9 196.2 681.6 196.4 C683.2 196.5 684.9 196.6 686.6 196.8 C688.3 196.9 690.8 197.0 691.6 197.1" fill="none" stroke="#ff8000" stroke-width="2.05" stroke-linecap="round" stroke-linejoin="round"/>
<path d="M484.2 38.8 C485.0 38.8 487.5 38.8 489.2 38.9 C490.9 38.9 492.6 38.9 494.2 39.0 C495.9 39.0 497.6 39.1 499.2 39.1 C500.9 39.2 502.6 39.2 504.2 39.3 C505.9 39.4 507.6 39.4 509.2 39.5 C510.9 39.6 512.6 39.7 514.3 39.8 C515.9 39.8 517.6 39.9 519.3 40.1 C520.9 40.2 522.6 40.3 524.3 40.4 C525.9 40.6 527.6 40.7 529.3 40.9 C530.9 41.1 532.6 41.2 534.2 41.4 C535.9 41.6 537.6 41.8 539.2 42.1 C540.9 42.3 542.5 42.6 544.1 42.9 C545.8 43.1 547.4 43.5 549.1 43.8 C550.7 44.2 552.3 44.5 553.9 45.0 C555.5 45.4 557.2 45.8 558.8 46.3 C560.4 46.8 561.9 47.3 563.5 47.8 C565.1 48.3 566.7 48.9 568.3 49.5 C569.8 50.1 571.4 50.7 572.9 51.4 C574.4 52.1 575.9 52.8 577.4 53.5 C578.9 54.2 580.4 55.0 581.8 55.9 C583.3 56.7 584.7 57.6 586.1 58.5 C587.5 59.4 588.8 60.4 590.2 61.3 C591.5 62.3 592.8 63.4 594.1 64.4 C595.4 65.5 596.7 66.6 597.9 67.7 C599.2 68.8 600.4 69.9 601.6 71.1 C602.8 72.3 604.0 73.4 605.1 74.6 C606.3 75.8 607.4 77.1 608.5 78.3 C609.7 79.5 610.8 80.8 611.9 82.1 C612.9 83.3 614.0 84.6 615.1 85.9 C616.1 87.2 617.2 88.5 618.2 89.8 C619.3 91.1 620.3 92.4 621.4 93.7 C622.5 95.0 623.5 96.3 624.6 97.5 C625.7 98.8 626.7 100.1 627.8 101.4 C628.8 102.7 629.9 104.0 630.9 105.3 C631.9 106.6 632.9 108.0 633.9 109.3 C634.9 110.6 635.9 112.0 637.0 113.3 C638.0 114.6 639.0 115.9 640.1 117.2 C641.1 118.5 642.2 119.8 643.3 121.1 C644.3 122.4 645.4 123.6 646.4 124.9 C647.5 126.3 648.5 127.6 649.5 128.9 C650.5 130.2 651.5 131.6 652.5 132.9 C653.5 134.2 654.5 135.5 655.6 136.8 C656.6 138.1 657.7 139.4 658.8 140.6 C659.9 141.9 661.1 143.1 662.2 144.3 C663.4 145.5 664.5 146.7 665.7 147.9 C666.8 149.1 668.0 150.3 669.2 151.5 C670.3 152.7 671.5 153.9 672.7 155.1 C673.9 156.2 675.1 157.4 676.3 158.5 C677.6 159.7 678.8 160.8 680.0 161.9 C681.3 163.0 682.6 164.1 683.8 165.2 C685.1 166.3 686.4 167.3 687.7 168.4 C689.0 169.4 690.9 171.0 691.6 171.5" fill="none" stroke="#ff8000" stroke-width="2.05" stroke-linecap="round" stroke-linejoin="round" stroke-dasharray="13 13" stroke-dashoffset="0.1"/>
<path d="M484.2 184.8 C485.0 184.8 487.5 184.8 489.2 184.8 C490.9 184.8 492.6 184.8 494.2 184.8 C495.9 184.8 497.6 184.8 499.3 184.8 C500.9 184.8 502.6 184.8 504.3 184.8 C506.0 184.8 507.6 184.9 509.3 184.9 C511.0 184.9 512.8 184.9 514.3 184.9 C515.8 184.9 516.9 184.9 518.4 184.9 C519.9 184.9 521.7 184.9 523.4 184.9 C525.1 184.9 526.7 185.0 528.4 185.0 C530.1 185.0 531.8 185.0 533.4 185.0 C535.1 185.0 536.8 185.0 538.4 185.1 C540.1 185.1 541.8 185.1 543.5 185.1 C545.1 185.1 546.8 185.2 548.5 185.2 C550.2 185.2 551.8 185.2 553.5 185.3 C555.2 185.3 556.9 185.4 558.5 185.4 C560.2 185.5 561.9 185.5 563.6 185.6 C565.2 185.6 566.9 185.7 568.6 185.8 C570.2 185.8 571.9 185.9 573.6 186.0 C575.3 186.1 576.9 186.2 578.6 186.3 C580.3 186.4 581.9 186.5 583.6 186.6 C585.3 186.7 587.1 186.8 588.6 187.0 C590.1 187.1 591.1 187.2 592.6 187.3 C594.1 187.4 596.0 187.6 597.6 187.7 C599.3 187.9 601.0 188.1 602.6 188.2 C604.3 188.4 606.0 188.6 607.6 188.8 C609.3 189.0 611.0 189.2 612.6 189.4 C614.3 189.6 615.9 189.8 617.6 190.0 C619.3 190.3 620.9 190.5 622.6 190.7 C624.2 190.9 625.9 191.1 627.6 191.4 C629.2 191.6 630.9 191.8 632.5 192.0 C634.2 192.2 635.9 192.3 637.5 192.5 C639.2 192.7 640.9 192.9 642.5 193.0 C644.2 193.2 645.9 193.4 647.5 193.5 C649.2 193.7 651.0 193.8 652.5 194.0 C654.0 194.1 655.0 194.2 656.5 194.3 C658.0 194.4 659.9 194.6 661.5 194.7 C663.2 194.8 664.9 195.0 666.5 195.1 C668.2 195.2 669.9 195.4 671.6 195.5 C673.2 195.6 674.9 195.7 676.6 195.9 C678.2 196.0 679.9 196.1 681.6 196.2 C683.2 196.3 684.9 196.5 686.6 196.6 C688.3 196.7 690.8 196.8 691.6 196.9" fill="none" stroke="#ff00ff" stroke-width="2.05" stroke-linecap="round" stroke-linejoin="round"/>
<path d="M484.2 150.1 C485.0 150.1 487.5 150.1 489.2 150.1 C490.9 150.1 492.5 150.1 494.2 150.1 C495.9 150.1 497.6 150.1 499.2 150.1 C500.9 150.1 502.6 150.1 504.2 150.1 C505.9 150.1 507.6 150.2 509.2 150.2 C510.9 150.2 512.6 150.2 514.2 150.2 C515.9 150.2 517.6 150.2 519.3 150.2 C520.9 150.2 522.6 150.2 524.3 150.2 C525.9 150.3 527.6 150.3 529.3 150.3 C530.9 150.3 532.4 150.3 534.3 150.3 C536.1 150.3 538.4 150.4 540.3 150.4 C542.1 150.4 543.6 150.4 545.3 150.5 C546.9 150.5 548.6 150.5 550.3 150.6 C551.9 150.6 553.6 150.7 555.3 150.7 C556.9 150.8 558.6 150.9 560.3 150.9 C562.0 151.0 563.6 151.1 565.3 151.2 C567.0 151.2 568.6 151.3 570.3 151.4 C572.0 151.5 573.6 151.6 575.3 151.6 C577.0 151.7 578.6 151.8 580.3 151.9 C582.0 152.0 583.6 152.1 585.3 152.2 C587.0 152.3 588.6 152.4 590.3 152.6 C591.9 152.7 593.6 152.9 595.3 153.1 C596.9 153.3 598.6 153.5 600.2 153.7 C601.9 154.0 603.5 154.2 605.1 154.5 C606.8 154.8 608.4 155.2 610.1 155.5 C611.7 155.8 613.3 156.2 614.9 156.6 C616.6 157.0 618.2 157.3 619.8 157.8 C621.4 158.2 623.0 158.6 624.7 159.0 C626.3 159.5 627.9 159.9 629.5 160.4 C631.1 160.8 632.7 161.3 634.3 161.8 C635.8 162.3 637.3 162.8 639.0 163.4 C640.8 163.9 643.0 164.7 644.7 165.3 C646.5 165.9 647.9 166.4 649.4 166.9 C651.0 167.5 652.6 168.1 654.1 168.7 C655.7 169.3 657.2 169.9 658.8 170.5 C660.3 171.1 661.9 171.7 663.4 172.3 C665.0 173.0 666.5 173.6 668.1 174.2 C669.7 174.8 671.2 175.4 672.8 176.0 C674.3 176.6 675.9 177.2 677.5 177.7 C679.0 178.3 680.6 178.9 682.2 179.5 C683.7 180.0 685.3 180.6 686.9 181.1 C688.4 181.7 690.8 182.5 691.6 182.8" fill="none" stroke="#ff00ff" stroke-width="2.05" stroke-linecap="round" stroke-linejoin="round" stroke-dasharray="13 13" stroke-dashoffset="24.7"/>
</g>
<g clip-path="url(#c01)">
<g fill="#aaaaaa"><circle cx="76.1" cy="439.2" r="1.7"/><circle cx="84.5" cy="435.8" r="1.7"/><circle cx="90.6" cy="440.4" r="1.7"/><circle cx="93.3" cy="437.7" r="1.7"/><circle cx="94.2" cy="441.3" r="1.7"/><circle cx="97.2" cy="439.8" r="1.7"/><circle cx="99.6" cy="436.7" r="1.7"/><circle cx="100.8" cy="434.6" r="1.7"/><circle cx="102.3" cy="436.7" r="1.7"/><circle cx="100.8" cy="441.3" r="1.7"/><circle cx="102.6" cy="441.3" r="1.7"/><circle cx="114.7" cy="440.4" r="1.7"/><circle cx="119.8" cy="438.3" r="1.7"/><circle cx="121.3" cy="439.8" r="1.7"/><circle cx="124.4" cy="437.7" r="1.7"/><circle cx="125.9" cy="435.2" r="1.7"/><circle cx="127.4" cy="438.9" r="1.7"/><circle cx="128.9" cy="440.4" r="1.7"/><circle cx="131.0" cy="440.4" r="1.7"/><circle cx="141.9" cy="437.7" r="1.7"/><circle cx="143.4" cy="433.7" r="1.7"/><circle cx="145.5" cy="436.7" r="1.7"/><circle cx="147.9" cy="441.3" r="1.7"/><circle cx="148.5" cy="438.9" r="1.7"/><circle cx="154.5" cy="436.7" r="1.7"/><circle cx="155.4" cy="440.4" r="1.7"/><circle cx="156.9" cy="435.8" r="1.7"/><circle cx="157.5" cy="441.3" r="1.7"/><circle cx="162.1" cy="436.7" r="1.7"/><circle cx="162.7" cy="441.3" r="1.7"/><circle cx="163.6" cy="438.9" r="1.7"/><circle cx="168.1" cy="439.8" r="1.7"/><circle cx="171.7" cy="436.7" r="1.7"/><circle cx="172.6" cy="440.4" r="1.7"/><circle cx="176.3" cy="438.3" r="1.7"/><circle cx="178.1" cy="436.1" r="1.7"/><circle cx="178.7" cy="440.4" r="1.7"/><circle cx="180.2" cy="436.7" r="1.7"/><circle cx="181.7" cy="439.8" r="1.7"/><circle cx="184.7" cy="440.4" r="1.7"/><circle cx="186.2" cy="438.3" r="1.7"/><circle cx="188.3" cy="441.3" r="1.7"/><circle cx="190.7" cy="439.8" r="1.7"/><circle cx="192.8" cy="438.3" r="1.7"/><circle cx="196.8" cy="440.4" r="1.7"/><circle cx="198.9" cy="442.2" r="1.7"/><circle cx="199.8" cy="438.9" r="1.7"/><circle cx="204.3" cy="440.4" r="1.7"/><circle cx="205.8" cy="437.7" r="1.7"/><circle cx="208.2" cy="436.1" r="1.7"/><circle cx="208.8" cy="440.4" r="1.7"/><circle cx="210.3" cy="438.9" r="1.7"/><circle cx="213.4" cy="441.3" r="1.7"/><circle cx="214.9" cy="439.2" r="1.7"/><circle cx="219.4" cy="440.4" r="1.7"/><circle cx="220.9" cy="439.2" r="1.7"/><circle cx="225.4" cy="439.8" r="1.7"/><circle cx="226.9" cy="438.3" r="1.7"/><circle cx="229.4" cy="435.2" r="1.7"/><circle cx="230.0" cy="440.4" r="1.7"/><circle cx="232.4" cy="438.9" r="1.7"/><circle cx="234.5" cy="440.4" r="1.7"/><circle cx="236.6" cy="439.2" r="1.7"/><circle cx="239.0" cy="440.4" r="1.7"/><circle cx="245.1" cy="438.9" r="1.7"/><circle cx="248.1" cy="439.2" r="1.7"/><circle cx="253.5" cy="440.4" r="1.7"/><circle cx="255.0" cy="433.7" r="1.7"/><circle cx="259.5" cy="438.9" r="1.7"/></g>
<path d="M64.4 430.9 C65.2 431.0 67.7 431.4 69.4 431.7 C71.0 431.9 72.7 432.2 74.3 432.4 C76.0 432.6 77.6 432.9 79.3 433.1 C80.9 433.4 82.6 433.6 84.2 433.8 C85.9 434.0 87.5 434.3 89.2 434.5 C90.9 434.7 92.5 434.9 94.2 435.1 C95.8 435.3 97.5 435.5 99.1 435.7 C100.8 435.9 102.5 436.1 104.1 436.3 C105.8 436.5 107.4 436.7 109.1 436.9 C110.8 437.1 112.3 437.2 114.1 437.4 C115.9 437.6 118.2 437.8 120.1 437.9 C121.9 438.1 123.4 438.2 125.1 438.3 C126.7 438.4 128.4 438.5 130.1 438.6 C131.7 438.7 133.4 438.8 135.1 438.8 C136.7 438.9 138.4 438.9 140.1 438.9 C141.8 439.0 143.4 439.0 145.1 439.0 C146.8 439.0 148.4 439.0 150.1 439.0 C151.8 439.0 153.5 439.0 155.1 439.0 C156.8 439.0 158.5 439.0 160.1 439.0 C161.8 439.0 163.5 439.0 165.1 439.0 C166.8 439.0 168.5 439.0 170.2 439.0 C171.8 439.0 173.5 439.0 175.2 439.0 C176.8 439.0 178.5 439.0 180.2 439.0 C181.9 439.0 183.5 439.0 185.2 439.0 C186.9 439.0 188.5 439.0 190.2 439.0 C191.9 439.0 193.5 439.0 195.2 439.0 C196.9 439.0 198.6 439.0 200.2 439.0 C201.9 439.0 203.6 439.0 205.2 439.0 C206.9 439.0 208.6 439.0 210.3 439.0 C211.9 439.0 213.4 439.0 215.3 439.0 C217.1 439.0 219.4 439.0 221.3 439.0 C223.1 439.0 224.6 439.0 226.3 439.0 C228.0 439.0 229.6 439.0 231.3 439.0 C233.0 439.0 234.6 439.0 236.3 439.0 C238.0 439.0 239.7 439.0 241.3 439.0 C243.0 439.0 244.7 439.0 246.3 439.0 C248.0 439.0 249.7 439.0 251.4 439.0 C253.0 439.0 254.7 439.0 256.4 439.0 C258.0 439.0 259.7 439.0 261.4 439.0 C263.0 439.0 264.7 439.0 266.4 439.0 C268.1 439.0 270.6 439.0 271.4 439.0" fill="none" stroke="#ff0000" stroke-width="2.05" stroke-linecap="round" stroke-linejoin="round"/>
<path d="M64.4 432.8 C65.2 432.9 67.7 433.2 69.4 433.4 C71.0 433.6 72.7 433.8 74.3 433.9 C76.0 434.1 77.7 434.3 79.3 434.5 C81.0 434.7 82.6 434.9 84.3 435.0 C86.0 435.2 87.6 435.4 89.3 435.6 C90.9 435.7 92.6 435.9 94.3 436.0 C95.9 436.2 97.6 436.4 99.2 436.5 C100.9 436.7 102.6 436.8 104.2 437.0 C105.9 437.1 107.6 437.3 109.2 437.4 C110.9 437.5 112.4 437.6 114.2 437.8 C116.0 437.9 118.4 438.1 120.2 438.2 C122.0 438.3 123.5 438.4 125.2 438.5 C126.9 438.6 128.5 438.7 130.2 438.7 C131.9 438.8 133.5 438.8 135.2 438.9 C136.9 438.9 138.5 438.9 140.2 439.0 C141.9 439.0 143.6 439.0 145.2 439.0 C146.9 439.0 148.6 439.0 150.2 439.0 C151.9 439.0 153.6 439.0 155.2 439.0 C156.9 439.0 158.6 439.0 160.2 439.0 C161.9 439.0 163.6 439.0 165.3 439.0 C166.9 439.0 168.6 439.0 170.3 439.0 C171.9 439.0 173.6 439.0 175.3 439.0 C176.9 439.0 178.6 439.0 180.3 439.0 C181.9 439.0 183.6 439.0 185.3 439.0 C186.9 439.0 188.6 439.0 190.3 439.0 C192.0 439.0 193.6 439.0 195.3 439.0 C197.0 439.0 198.6 439.0 200.3 439.0 C202.0 439.0 203.6 439.0 205.3 439.0 C207.0 439.0 208.6 439.0 210.3 439.0 C212.0 439.0 213.5 439.0 215.3 439.0 C217.2 439.0 219.5 439.0 221.3 439.0 C223.2 439.0 224.7 439.0 226.3 439.0 C228.0 439.0 229.7 439.0 231.3 439.0 C233.0 439.0 234.7 439.0 236.4 439.0 C238.0 439.0 239.7 439.0 241.4 439.0 C243.0 439.0 244.7 439.0 246.4 439.0 C248.0 439.0 249.7 439.0 251.4 439.0 C253.0 439.0 254.7 439.0 256.4 439.0 C258.0 439.0 259.7 439.0 261.4 439.0 C263.1 439.0 264.7 439.0 266.4 439.0 C268.1 439.0 270.6 439.0 271.4 439.0" fill="none" stroke="#00ff00" stroke-width="2.05" stroke-linecap="round" stroke-linejoin="round"/>
<path d="M64.4 435.0 C65.2 435.1 67.7 435.3 69.4 435.4 C71.1 435.5 72.7 435.6 74.4 435.7 C76.0 435.9 77.7 436.0 79.4 436.1 C81.0 436.2 82.7 436.3 84.4 436.4 C86.0 436.6 87.7 436.7 89.4 436.8 C91.0 436.9 92.7 437.0 94.3 437.1 C96.0 437.2 97.7 437.3 99.3 437.4 C101.0 437.5 102.7 437.6 104.3 437.7 C106.0 437.8 107.7 437.9 109.3 438.0 C111.0 438.1 112.5 438.1 114.3 438.2 C116.2 438.3 118.5 438.4 120.3 438.5 C122.2 438.6 123.7 438.6 125.3 438.7 C127.0 438.7 128.7 438.8 130.3 438.8 C132.0 438.9 133.7 438.9 135.3 438.9 C137.0 438.9 138.7 439.0 140.3 439.0 C142.0 439.0 143.7 439.0 145.3 439.0 C147.0 439.0 148.7 439.0 150.3 439.0 C152.0 439.0 153.7 439.0 155.3 439.0 C157.0 439.0 158.7 439.0 160.3 439.0 C162.0 439.0 163.7 439.0 165.3 439.0 C167.0 439.0 168.7 439.0 170.3 439.0 C172.0 439.0 173.7 439.0 175.3 439.0 C177.0 439.0 178.7 439.0 180.3 439.0 C182.0 439.0 183.7 439.0 185.3 439.0 C187.0 439.0 188.7 439.0 190.4 439.0 C192.0 439.0 193.7 439.0 195.4 439.0 C197.0 439.0 198.7 439.0 200.4 439.0 C202.0 439.0 203.7 439.0 205.4 439.0 C207.0 439.0 208.7 439.0 210.4 439.0 C212.0 439.0 213.5 439.0 215.4 439.0 C217.2 439.0 219.5 439.0 221.4 439.0 C223.2 439.0 224.7 439.0 226.4 439.0 C228.0 439.0 229.7 439.0 231.4 439.0 C233.0 439.0 234.7 439.0 236.4 439.0 C238.0 439.0 239.7 439.0 241.4 439.0 C243.1 439.0 244.7 439.0 246.4 439.0 C248.1 439.0 249.7 439.0 251.4 439.0 C253.1 439.0 254.7 439.0 256.4 439.0 C258.1 439.0 259.7 439.0 261.4 439.0 C263.1 439.0 264.7 439.0 266.4 439.0 C268.1 439.0 270.6 439.0 271.4 439.0" fill="none" stroke="#0000ff" stroke-width="2.05" stroke-linecap="round" stroke-linejoin="round"/>
<path d="M64.4 436.4 C65.2 436.4 67.7 436.6 69.4 436.6 C71.1 436.7 72.7 436.8 74.4 436.9 C76.1 437.0 77.7 437.0 79.4 437.1 C81.1 437.2 82.7 437.3 84.4 437.3 C86.0 437.4 87.7 437.5 89.4 437.6 C91.0 437.6 92.7 437.7 94.4 437.8 C96.0 437.8 97.7 437.9 99.4 438.0 C101.0 438.0 102.7 438.1 104.4 438.2 C106.0 438.2 107.7 438.3 109.4 438.3 C111.0 438.4 112.5 438.4 114.4 438.5 C116.2 438.5 118.5 438.6 120.4 438.7 C122.2 438.7 123.7 438.8 125.4 438.8 C127.0 438.8 128.7 438.9 130.4 438.9 C132.0 438.9 133.7 438.9 135.4 438.9 C137.0 439.0 138.7 439.0 140.4 439.0 C142.0 439.0 143.7 439.0 145.4 439.0 C147.0 439.0 148.7 439.0 150.4 439.0 C152.0 439.0 153.7 439.0 155.4 439.0 C157.0 439.0 158.7 439.0 160.4 439.0 C162.0 439.0 163.7 439.0 165.4 439.0 C167.0 439.0 168.7 439.0 170.4 439.0 C172.0 439.0 173.7 439.0 175.4 439.0 C177.0 439.0 178.7 439.0 180.4 439.0 C182.0 439.0 183.7 439.0 185.4 439.0 C187.0 439.0 188.7 439.0 190.4 439.0 C192.0 439.0 193.7 439.0 195.4 439.0 C197.0 439.0 198.7 439.0 200.4 439.0 C202.0 439.0 203.7 439.0 205.4 439.0 C207.1 439.0 208.7 439.0 210.4 439.0 C212.1 439.0 213.6 439.0 215.4 439.0 C217.2 439.0 219.6 439.0 221.4 439.0 C223.2 439.0 224.7 439.0 226.4 439.0 C228.1 439.0 229.7 439.0 231.4 439.0 C233.1 439.0 234.7 439.0 236.4 439.0 C238.1 439.0 239.7 439.0 241.4 439.0 C243.1 439.0 244.7 439.0 246.4 439.0 C248.1 439.0 249.7 439.0 251.4 439.0 C253.1 439.0 254.7 439.0 256.4 439.0 C258.1 439.0 259.7 439.0 261.4 439.0 C263.1 439.0 264.7 439.0 266.4 439.0 C268.1 439.0 270.6 439.0 271.4 439.0" fill="none" stroke="#ff8000" stroke-width="2.05" stroke-linecap="round" stroke-linejoin="round"/>
<path d="M64.4 437.8 C65.2 437.8 67.7 437.9 69.4 437.9 C71.1 437.9 72.7 438.0 74.4 438.0 C76.1 438.1 77.7 438.1 79.4 438.1 C81.1 438.2 82.7 438.2 84.4 438.2 C86.1 438.3 87.7 438.3 89.4 438.3 C91.1 438.4 92.7 438.4 94.4 438.4 C96.1 438.5 97.7 438.5 99.4 438.5 C101.1 438.6 102.7 438.6 104.4 438.6 C106.1 438.6 107.7 438.7 109.4 438.7 C111.1 438.7 112.6 438.7 114.4 438.8 C116.2 438.8 118.6 438.8 120.4 438.8 C122.2 438.9 123.7 438.9 125.4 438.9 C127.1 438.9 128.7 438.9 130.4 438.9 C132.1 439.0 133.7 439.0 135.4 439.0 C137.1 439.0 138.7 439.0 140.4 439.0 C142.1 439.0 143.7 439.0 145.4 439.0 C147.1 439.0 148.7 439.0 150.4 439.0 C152.1 439.0 153.7 439.0 155.4 439.0 C157.1 439.0 158.7 439.0 160.4 439.0 C162.1 439.0 163.7 439.0 165.4 439.0 C167.1 439.0 168.7 439.0 170.4 439.0 C172.1 439.0 173.7 439.0 175.4 439.0 C177.1 439.0 178.7 439.0 180.4 439.0 C182.1 439.0 183.7 439.0 185.4 439.0 C187.1 439.0 188.7 439.0 190.4 439.0 C192.1 439.0 193.7 439.0 195.4 439.0 C197.1 439.0 198.7 439.0 200.4 439.0 C202.1 439.0 203.7 439.0 205.4 439.0 C207.1 439.0 208.7 439.0 210.4 439.0 C212.1 439.0 213.6 439.0 215.4 439.0 C217.2 439.0 219.6 439.0 221.4 439.0 C223.2 439.0 224.7 439.0 226.4 439.0 C228.1 439.0 229.7 439.0 231.4 439.0 C233.1 439.0 234.7 439.0 236.4 439.0 C238.1 439.0 239.7 439.0 241.4 439.0 C243.1 439.0 244.7 439.0 246.4 439.0 C248.1 439.0 249.7 439.0 251.4 439.0 C253.1 439.0 254.7 439.0 256.4 439.0 C258.1 439.0 259.7 439.0 261.4 439.0 C263.1 439.0 264.7 439.0 266.4 439.0 C268.1 439.0 270.6 439.0 271.4 439.0" fill="none" stroke="#ff00ff" stroke-width="2.05" stroke-linecap="round" stroke-linejoin="round"/>
</g>
<g clip-path="url(#c11)">
<g fill="#aaaaaa"><circle cx="286.5" cy="438.1" r="1.7"/><circle cx="294.4" cy="455.9" r="1.7"/><circle cx="299.9" cy="437.4" r="1.7"/><circle cx="303.4" cy="457.0" r="1.7"/><circle cx="304.2" cy="447.5" r="1.7"/><circle cx="307.2" cy="448.4" r="1.7"/><circle cx="310.5" cy="428.8" r="1.7"/><circle cx="310.5" cy="432.1" r="1.7"/><circle cx="312.9" cy="432.1" r="1.7"/><circle cx="310.5" cy="434.3" r="1.7"/><circle cx="312.9" cy="435.9" r="1.7"/><circle cx="310.5" cy="436.6" r="1.7"/><circle cx="310.5" cy="441.1" r="1.7"/><circle cx="310.5" cy="443.4" r="1.7"/><circle cx="312.9" cy="443.4" r="1.7"/><circle cx="310.5" cy="445.7" r="1.7"/><circle cx="312.9" cy="445.7" r="1.7"/><circle cx="310.5" cy="447.9" r="1.7"/><circle cx="312.9" cy="447.9" r="1.7"/><circle cx="310.5" cy="450.2" r="1.7"/><circle cx="310.5" cy="454.4" r="1.7"/><circle cx="324.5" cy="436.6" r="1.7"/><circle cx="326.0" cy="446.4" r="1.7"/><circle cx="330.1" cy="438.9" r="1.7"/><circle cx="331.3" cy="441.1" r="1.7"/><circle cx="330.1" cy="423.8" r="1.7"/><circle cx="336.1" cy="427.9" r="1.7"/><circle cx="335.5" cy="434.3" r="1.7"/><circle cx="338.1" cy="433.3" r="1.7"/><circle cx="335.5" cy="436.6" r="1.7"/><circle cx="338.1" cy="435.9" r="1.7"/><circle cx="335.5" cy="438.9" r="1.7"/><circle cx="338.1" cy="438.9" r="1.7"/><circle cx="335.5" cy="441.1" r="1.7"/><circle cx="337.3" cy="441.1" r="1.7"/><circle cx="335.5" cy="443.4" r="1.7"/><circle cx="338.1" cy="443.4" r="1.7"/><circle cx="335.5" cy="445.7" r="1.7"/><circle cx="337.3" cy="445.7" r="1.7"/><circle cx="335.5" cy="447.9" r="1.7"/><circle cx="338.1" cy="447.9" r="1.7"/><circle cx="335.5" cy="450.2" r="1.7"/><circle cx="337.3" cy="449.4" r="1.7"/><circle cx="335.5" cy="451.7" r="1.7"/><circle cx="339.6" cy="443.4" r="1.7"/><circle cx="341.6" cy="447.9" r="1.7"/><circle cx="335.1" cy="458.0" r="1.7"/><circle cx="339.2" cy="457.4" r="1.7"/><circle cx="351.7" cy="424.2" r="1.7"/><circle cx="351.7" cy="440.8" r="1.7"/><circle cx="353.6" cy="434.3" r="1.7"/><circle cx="356.7" cy="430.6" r="1.7"/><circle cx="357.7" cy="434.3" r="1.7"/><circle cx="358.2" cy="438.1" r="1.7"/><circle cx="358.5" cy="467.8" r="1.7"/><circle cx="364.5" cy="425.3" r="1.7"/><circle cx="364.5" cy="429.8" r="1.7"/><circle cx="364.5" cy="432.1" r="1.7"/><circle cx="364.5" cy="434.3" r="1.7"/><circle cx="364.5" cy="436.6" r="1.7"/><circle cx="364.5" cy="438.9" r="1.7"/><circle cx="364.5" cy="441.1" r="1.7"/><circle cx="364.5" cy="443.4" r="1.7"/><circle cx="364.5" cy="445.7" r="1.7"/><circle cx="364.5" cy="447.9" r="1.7"/><circle cx="364.5" cy="450.2" r="1.7"/><circle cx="364.5" cy="452.4" r="1.7"/><circle cx="364.5" cy="458.9" r="1.7"/><circle cx="364.5" cy="467.5" r="1.7"/><circle cx="366.8" cy="428.8" r="1.7"/><circle cx="366.8" cy="438.9" r="1.7"/><circle cx="366.8" cy="441.1" r="1.7"/><circle cx="366.3" cy="443.4" r="1.7"/><circle cx="372.8" cy="433.6" r="1.7"/><circle cx="372.8" cy="435.9" r="1.7"/><circle cx="371.3" cy="436.6" r="1.7"/><circle cx="372.8" cy="438.1" r="1.7"/><circle cx="372.8" cy="440.4" r="1.7"/><circle cx="372.8" cy="442.6" r="1.7"/><circle cx="372.8" cy="444.9" r="1.7"/><circle cx="372.8" cy="447.2" r="1.7"/><circle cx="372.8" cy="449.4" r="1.7"/><circle cx="372.8" cy="451.7" r="1.7"/><circle cx="372.8" cy="454.0" r="1.7"/><circle cx="372.8" cy="457.7" r="1.7"/><circle cx="372.8" cy="461.5" r="1.7"/><circle cx="372.8" cy="467.5" r="1.7"/><circle cx="373.5" cy="430.3" r="1.7"/><circle cx="377.3" cy="439.6" r="1.7"/><circle cx="378.1" cy="441.1" r="1.7"/><circle cx="377.3" cy="452.4" r="1.7"/><circle cx="378.1" cy="455.5" r="1.7"/><circle cx="381.7" cy="421.5" r="1.7"/><circle cx="384.3" cy="422.7" r="1.7"/><circle cx="381.7" cy="426.0" r="1.7"/><circle cx="381.7" cy="434.3" r="1.7"/><circle cx="381.7" cy="436.6" r="1.7"/><circle cx="381.7" cy="438.9" r="1.7"/><circle cx="381.7" cy="441.1" r="1.7"/><circle cx="381.7" cy="443.4" r="1.7"/><circle cx="381.7" cy="445.7" r="1.7"/><circle cx="381.7" cy="447.9" r="1.7"/><circle cx="381.7" cy="450.2" r="1.7"/><circle cx="381.7" cy="452.4" r="1.7"/><circle cx="381.7" cy="455.5" r="1.7"/><circle cx="381.7" cy="459.5" r="1.7"/><circle cx="383.5" cy="438.1" r="1.7"/><circle cx="383.5" cy="441.1" r="1.7"/><circle cx="383.5" cy="443.4" r="1.7"/><circle cx="382.8" cy="447.2" r="1.7"/><circle cx="385.8" cy="436.6" r="1.7"/><circle cx="387.3" cy="439.6" r="1.7"/><circle cx="387.3" cy="442.6" r="1.7"/><circle cx="390.3" cy="436.6" r="1.7"/><circle cx="390.8" cy="439.6" r="1.7"/><circle cx="390.8" cy="442.6" r="1.7"/><circle cx="390.8" cy="445.7" r="1.7"/><circle cx="390.8" cy="454.3" r="1.7"/><circle cx="388.0" cy="423.0" r="1.7"/><circle cx="394.1" cy="436.6" r="1.7"/><circle cx="396.3" cy="438.1" r="1.7"/><circle cx="396.8" cy="421.8" r="1.7"/><circle cx="398.6" cy="439.6" r="1.7"/><circle cx="400.9" cy="441.1" r="1.7"/><circle cx="398.6" cy="453.5" r="1.7"/><circle cx="401.6" cy="436.6" r="1.7"/><circle cx="403.9" cy="438.1" r="1.7"/><circle cx="395.6" cy="429.8" r="1.7"/><circle cx="397.9" cy="429.8" r="1.7"/><circle cx="401.6" cy="432.1" r="1.7"/><circle cx="405.4" cy="429.8" r="1.7"/><circle cx="406.6" cy="448.7" r="1.7"/><circle cx="408.9" cy="444.6" r="1.7"/><circle cx="406.9" cy="436.6" r="1.7"/><circle cx="410.7" cy="429.1" r="1.7"/><circle cx="409.9" cy="438.9" r="1.7"/><circle cx="412.2" cy="440.4" r="1.7"/><circle cx="414.4" cy="421.2" r="1.7"/><circle cx="414.4" cy="439.6" r="1.7"/><circle cx="416.7" cy="441.1" r="1.7"/><circle cx="418.5" cy="441.9" r="1.7"/><circle cx="420.5" cy="440.4" r="1.7"/><circle cx="422.7" cy="441.9" r="1.7"/><circle cx="424.2" cy="443.4" r="1.7"/><circle cx="425.8" cy="441.9" r="1.7"/><circle cx="428.0" cy="439.6" r="1.7"/><circle cx="422.7" cy="431.3" r="1.7"/><circle cx="418.5" cy="429.1" r="1.7"/><circle cx="418.5" cy="432.1" r="1.7"/><circle cx="421.2" cy="432.8" r="1.7"/><circle cx="423.5" cy="433.6" r="1.7"/><circle cx="431.8" cy="447.9" r="1.7"/><circle cx="433.6" cy="449.0" r="1.7"/><circle cx="435.6" cy="444.1" r="1.7"/><circle cx="438.6" cy="441.9" r="1.7"/><circle cx="439.3" cy="444.9" r="1.7"/><circle cx="440.5" cy="446.4" r="1.7"/><circle cx="441.6" cy="444.1" r="1.7"/><circle cx="443.1" cy="441.1" r="1.7"/><circle cx="444.9" cy="444.1" r="1.7"/><circle cx="445.4" cy="447.9" r="1.7"/><circle cx="447.6" cy="441.1" r="1.7"/><circle cx="436.3" cy="439.6" r="1.7"/><circle cx="443.1" cy="431.3" r="1.7"/><circle cx="445.4" cy="432.8" r="1.7"/><circle cx="447.2" cy="435.1" r="1.7"/><circle cx="454.4" cy="439.6" r="1.7"/><circle cx="457.4" cy="435.1" r="1.7"/><circle cx="463.5" cy="441.9" r="1.7"/><circle cx="465.0" cy="447.2" r="1.7"/><circle cx="463.8" cy="460.0" r="1.7"/><circle cx="469.5" cy="438.9" r="1.7"/><circle cx="482.3" cy="434.3" r="1.7"/><circle cx="475.5" cy="438.1" r="1.7"/></g>
<path d="M322.4 233.0 C322.6 233.8 323.1 236.3 323.5 237.9 C323.8 239.5 324.2 241.2 324.5 242.8 C324.9 244.4 325.3 246.0 325.7 247.7 C326.1 249.3 326.5 250.9 326.9 252.5 C327.3 254.2 327.8 255.8 328.2 257.4 C328.6 259.0 329.0 260.6 329.4 262.3 C329.8 263.9 330.2 265.5 330.6 267.1 C331.0 268.7 331.4 270.4 331.7 272.0 C332.0 273.6 332.4 275.3 332.7 276.9 C333.0 278.6 333.3 280.2 333.6 281.8 C333.9 283.5 334.2 285.1 334.5 286.8 C334.8 288.4 335.1 290.1 335.3 291.7 C335.6 293.4 335.9 295.0 336.2 296.7 C336.5 298.3 336.8 300.0 337.1 301.6 C337.4 303.2 337.7 304.9 338.0 306.5 C338.3 308.2 338.7 309.8 339.0 311.5 C339.3 313.1 339.6 314.7 339.9 316.4 C340.2 318.0 340.5 319.7 340.8 321.3 C341.1 323.0 341.4 324.6 341.8 326.3 C342.1 327.9 342.4 329.5 342.7 331.2 C343.1 332.8 343.4 334.4 343.8 336.1 C344.2 337.7 344.5 339.3 344.9 340.9 C345.4 342.6 345.8 344.2 346.2 345.8 C346.7 347.4 347.2 349.0 347.7 350.6 C348.2 352.2 348.7 353.7 349.3 355.3 C349.9 356.9 350.4 358.5 351.0 360.0 C351.6 361.6 352.2 363.2 352.8 364.7 C353.4 366.3 354.1 367.8 354.7 369.3 C355.4 370.9 356.0 372.4 356.7 374.0 C357.4 375.5 358.1 377.0 358.8 378.5 C359.5 380.0 360.2 381.6 360.9 383.1 C361.6 384.6 362.4 386.1 363.1 387.6 C363.8 389.1 364.6 390.6 365.4 392.0 C366.2 393.5 366.9 395.0 367.7 396.5 C368.5 397.9 369.4 399.4 370.2 400.9 C371.0 402.3 371.9 403.7 372.8 405.1 C373.7 406.6 374.6 408.0 375.6 409.3 C376.5 410.7 377.5 412.0 378.6 413.3 C379.6 414.6 380.7 415.9 381.8 417.1 C383.0 418.3 384.2 419.5 385.4 420.6 C386.6 421.8 387.9 422.9 389.2 423.9 C390.5 424.9 391.8 425.9 393.2 426.8 C394.6 427.7 396.0 428.6 397.5 429.4 C398.9 430.1 400.4 430.8 402.0 431.5 C403.5 432.1 405.1 432.6 406.6 433.1 C408.2 433.6 409.8 434.1 411.5 434.5 C413.1 434.9 414.7 435.2 416.4 435.5 C418.0 435.8 419.7 436.1 421.3 436.3 C423.0 436.6 424.6 436.8 426.3 437.0 C427.9 437.2 429.6 437.3 431.3 437.5 C432.9 437.7 434.6 437.8 436.3 437.9 C437.9 438.0 439.6 438.1 441.3 438.2 C443.0 438.2 444.6 438.3 446.3 438.4 C448.0 438.4 449.6 438.5 451.3 438.5 C453.0 438.5 454.6 438.6 456.3 438.6 C458.0 438.6 459.6 438.7 461.3 438.7 C463.0 438.7 464.7 438.8 466.3 438.8 C468.0 438.8 469.7 438.8 471.4 438.8 C473.0 438.9 474.7 438.9 476.4 438.9 C478.0 438.9 480.6 438.9 481.4 438.9" fill="none" stroke="#ff0000" stroke-width="2.05" stroke-linecap="round" stroke-linejoin="round"/>
<path d="M347.4 233.0 C347.6 233.8 348.1 236.3 348.4 237.9 C348.8 239.5 349.1 241.2 349.5 242.8 C349.8 244.4 350.2 246.0 350.5 247.7 C350.9 249.3 351.3 250.9 351.6 252.6 C351.9 254.2 352.3 255.8 352.6 257.5 C353.0 259.1 353.3 260.7 353.6 262.4 C354.0 264.0 354.3 265.6 354.6 267.2 C355.0 268.9 355.4 270.5 355.7 272.1 C356.1 273.8 356.5 275.4 356.8 277.0 C357.2 278.6 357.6 280.3 358.0 281.9 C358.3 283.5 358.7 285.1 359.1 286.8 C359.4 288.4 359.8 290.0 360.2 291.6 C360.6 293.2 361.0 295.0 361.4 296.5 C361.8 297.9 362.1 298.9 362.4 300.3 C362.8 301.8 363.3 303.5 363.8 305.1 C364.2 306.8 364.6 308.4 365.1 310.0 C365.5 311.6 365.9 313.2 366.3 314.8 C366.8 316.4 367.2 318.0 367.7 319.6 C368.2 321.2 368.7 322.8 369.2 324.4 C369.8 325.9 370.3 327.5 370.9 329.1 C371.4 330.6 372.0 332.2 372.5 333.8 C373.1 335.4 373.6 336.9 374.1 338.5 C374.7 340.1 375.1 341.7 375.6 343.3 C376.1 344.9 376.6 346.5 377.1 348.1 C377.6 349.7 378.1 351.2 378.7 352.8 C379.2 354.4 379.7 356.0 380.3 357.6 C380.9 359.1 381.5 360.7 382.1 362.2 C382.7 363.8 383.3 365.3 384.0 366.8 C384.7 368.3 385.4 369.9 386.1 371.4 C386.8 372.9 387.6 374.3 388.4 375.8 C389.1 377.3 389.9 378.8 390.7 380.2 C391.6 381.7 392.4 383.1 393.2 384.6 C394.1 386.0 394.9 387.5 395.7 388.9 C396.6 390.4 397.5 391.8 398.3 393.2 C399.2 394.7 400.1 396.1 401.0 397.5 C401.9 398.9 402.8 400.3 403.8 401.7 C404.8 403.0 405.7 404.4 406.8 405.7 C407.8 406.9 408.9 408.2 410.0 409.4 C411.1 410.6 412.3 411.8 413.5 412.9 C414.7 414.0 416.1 415.2 417.3 416.1 C418.4 417.1 419.2 417.7 420.4 418.6 C421.7 419.5 423.2 420.5 424.6 421.4 C426.0 422.3 427.4 423.2 428.8 424.1 C430.2 424.9 431.7 425.7 433.2 426.5 C434.7 427.3 436.2 428.0 437.7 428.7 C439.2 429.3 440.7 430.0 442.3 430.5 C443.8 431.1 445.4 431.7 447.0 432.2 C448.6 432.7 450.2 433.1 451.8 433.5 C453.4 433.9 455.0 434.3 456.7 434.7 C458.3 435.0 459.9 435.4 461.6 435.7 C463.2 436.0 464.9 436.2 466.5 436.5 C468.2 436.7 469.8 437.0 471.5 437.2 C473.1 437.4 474.8 437.6 476.4 437.8 C478.1 438.0 480.6 438.2 481.4 438.3" fill="none" stroke="#ff0000" stroke-width="2.05" stroke-linecap="round" stroke-linejoin="round" stroke-dasharray="13 13" stroke-dashoffset="14.3"/>
<path d="M306.2 233.0 C306.4 233.8 307.0 236.2 307.4 237.9 C307.8 239.5 308.2 241.1 308.7 242.7 C309.1 244.3 309.5 245.9 309.9 247.5 C310.4 249.1 310.8 250.8 311.3 252.4 C311.7 254.0 312.1 255.6 312.6 257.2 C313.0 258.8 313.5 260.4 313.9 262.0 C314.4 263.6 314.8 265.2 315.3 266.8 C315.7 268.4 316.1 270.0 316.6 271.7 C317.0 273.3 317.4 274.9 317.8 276.5 C318.3 278.1 318.7 279.7 319.1 281.3 C319.5 282.9 320.0 284.6 320.4 286.2 C320.8 287.8 321.2 289.4 321.7 291.0 C322.1 292.6 322.5 294.2 323.0 295.8 C323.4 297.4 323.9 299.0 324.3 300.7 C324.8 302.3 325.3 304.0 325.7 305.5 C326.1 306.9 326.4 307.9 326.8 309.3 C327.2 310.8 327.7 312.5 328.2 314.1 C328.6 315.7 329.1 317.3 329.5 318.9 C330.0 320.6 330.4 322.2 330.9 323.8 C331.3 325.4 331.8 327.0 332.2 328.6 C332.7 330.2 333.2 331.8 333.6 333.4 C334.1 335.0 334.6 336.6 335.1 338.2 C335.7 339.7 336.2 341.3 336.8 342.9 C337.3 344.4 337.9 346.0 338.6 347.5 C339.2 349.1 339.8 350.6 340.5 352.1 C341.1 353.7 341.8 355.2 342.5 356.7 C343.2 358.2 343.9 359.8 344.6 361.3 C345.3 362.8 346.0 364.3 346.7 365.8 C347.4 367.3 348.1 368.9 348.8 370.4 C349.5 371.9 350.2 373.4 351.0 374.9 C351.7 376.4 352.5 377.8 353.2 379.3 C354.0 380.8 354.8 382.3 355.6 383.8 C356.4 385.2 357.2 386.7 358.0 388.1 C358.8 389.6 359.6 391.0 360.5 392.5 C361.3 393.9 362.2 395.3 363.1 396.7 C364.0 398.2 364.9 399.6 365.8 401.0 C366.7 402.4 367.6 403.8 368.6 405.1 C369.5 406.5 370.5 407.9 371.5 409.2 C372.5 410.5 373.6 411.8 374.6 413.1 C375.7 414.3 376.8 415.6 378.0 416.8 C379.1 418.0 380.3 419.2 381.5 420.3 C382.8 421.4 384.0 422.5 385.3 423.5 C386.7 424.5 388.0 425.5 389.4 426.4 C390.8 427.2 392.2 428.1 393.7 428.9 C395.2 429.6 396.7 430.3 398.2 431.0 C399.7 431.6 401.4 432.2 402.9 432.6 C404.3 433.1 405.2 433.4 406.7 433.7 C408.1 434.1 409.9 434.5 411.6 434.8 C413.2 435.2 414.8 435.5 416.5 435.7 C418.1 436.0 419.8 436.2 421.4 436.4 C423.1 436.6 424.8 436.8 426.4 437.0 C428.1 437.2 429.7 437.3 431.4 437.5 C433.1 437.6 434.7 437.8 436.4 437.9 C438.1 438.0 439.7 438.1 441.4 438.2 C443.0 438.3 444.7 438.3 446.4 438.4 C448.0 438.4 449.7 438.5 451.4 438.5 C453.0 438.6 454.7 438.6 456.4 438.6 C458.0 438.7 459.7 438.7 461.4 438.7 C463.0 438.7 464.7 438.8 466.4 438.8 C468.0 438.8 469.7 438.8 471.4 438.8 C473.1 438.9 474.7 438.9 476.4 438.9 C478.1 438.9 480.6 438.9 481.4 438.9" fill="none" stroke="#00ff00" stroke-width="2.05" stroke-linecap="round" stroke-linejoin="round"/>
<path d="M321.8 233.0 C322.0 233.8 322.7 236.2 323.2 237.8 C323.7 239.4 324.1 241.0 324.6 242.6 C325.1 244.2 325.6 245.8 326.1 247.4 C326.6 249.0 327.0 250.6 327.5 252.2 C328.0 253.8 328.5 255.4 329.0 257.0 C329.4 258.6 329.9 260.2 330.3 261.8 C330.8 263.4 331.3 265.0 331.7 266.6 C332.2 268.2 332.6 269.8 333.1 271.4 C333.6 273.0 334.0 274.6 334.5 276.2 C335.0 277.8 335.4 279.4 335.9 281.0 C336.4 282.6 336.8 284.2 337.3 285.8 C337.8 287.4 338.3 289.0 338.8 290.6 C339.3 292.2 339.8 293.7 340.3 295.3 C340.8 296.9 341.5 298.6 342.0 300.0 C342.5 301.4 342.8 302.4 343.3 303.8 C343.8 305.2 344.4 306.9 344.9 308.5 C345.5 310.1 346.0 311.7 346.6 313.3 C347.1 314.8 347.7 316.4 348.2 318.0 C348.8 319.5 349.4 321.1 350.0 322.6 C350.6 324.2 351.2 325.8 351.8 327.3 C352.4 328.9 353.0 330.4 353.6 332.0 C354.1 333.5 354.7 335.1 355.3 336.7 C355.9 338.2 356.5 339.8 357.1 341.3 C357.7 342.9 358.3 344.4 359.0 345.9 C359.6 347.5 360.3 349.0 361.0 350.5 C361.7 352.0 362.5 353.5 363.2 355.0 C364.0 356.5 364.8 358.0 365.5 359.4 C366.3 360.9 367.1 362.4 367.9 363.9 C368.7 365.3 369.5 366.8 370.3 368.3 C371.1 369.7 371.9 371.2 372.7 372.6 C373.6 374.1 374.4 375.5 375.3 376.9 C376.1 378.4 377.0 379.8 377.9 381.2 C378.8 382.6 379.7 384.0 380.6 385.4 C381.5 386.8 382.5 388.1 383.5 389.5 C384.4 390.9 385.4 392.2 386.4 393.5 C387.4 394.9 388.5 396.2 389.5 397.5 C390.6 398.8 391.6 400.1 392.7 401.3 C393.8 402.6 394.9 403.8 396.1 405.0 C397.3 406.2 398.4 407.4 399.6 408.5 C400.8 409.7 402.1 410.8 403.3 411.9 C404.6 413.0 405.9 414.0 407.2 415.0 C408.5 416.0 410.0 417.1 411.3 417.9 C412.5 418.8 413.3 419.3 414.6 420.1 C415.9 420.9 417.5 421.8 418.9 422.6 C420.4 423.4 421.9 424.1 423.4 424.9 C424.9 425.6 426.4 426.3 427.9 427.0 C429.4 427.7 431.0 428.3 432.5 428.9 C434.1 429.5 435.6 430.1 437.2 430.6 C438.8 431.2 440.4 431.7 442.0 432.2 C443.6 432.6 445.2 433.1 446.8 433.5 C448.4 433.9 450.0 434.2 451.7 434.6 C453.3 434.9 454.9 435.2 456.6 435.5 C458.2 435.8 459.9 436.0 461.5 436.3 C463.2 436.5 464.8 436.7 466.5 436.9 C468.1 437.1 469.8 437.3 471.4 437.5 C473.1 437.6 474.8 437.8 476.4 438.0 C478.1 438.1 480.6 438.3 481.4 438.4" fill="none" stroke="#00ff00" stroke-width="2.05" stroke-linecap="round" stroke-linejoin="round" stroke-dasharray="13 13" stroke-dashoffset="14.1"/>
<path d="M274.3 283.5 C274.7 284.2 276.0 286.4 276.8 287.8 C277.6 289.3 278.5 290.7 279.3 292.2 C280.2 293.6 281.0 295.1 281.9 296.5 C282.7 297.9 283.6 299.4 284.4 300.8 C285.3 302.2 286.2 303.7 287.0 305.1 C287.9 306.5 288.8 307.9 289.7 309.4 C290.5 310.8 291.4 312.2 292.3 313.6 C293.2 315.0 294.1 316.4 295.0 317.8 C295.9 319.3 296.8 320.7 297.7 322.1 C298.6 323.5 299.6 324.8 300.5 326.2 C301.4 327.6 302.3 329.0 303.2 330.4 C304.1 331.8 305.0 333.2 305.9 334.6 C306.8 336.1 307.7 337.5 308.6 338.9 C309.5 340.3 310.3 341.8 311.2 343.2 C312.0 344.6 312.8 346.1 313.7 347.5 C314.5 349.0 315.3 350.5 316.1 351.9 C317.0 353.3 317.8 354.8 318.7 356.2 C319.5 357.6 320.4 359.1 321.3 360.5 C322.2 361.8 323.2 363.2 324.1 364.6 C325.1 366.0 326.1 367.3 327.1 368.7 C328.1 370.0 329.1 371.3 330.1 372.7 C331.1 374.0 332.1 375.3 333.2 376.6 C334.2 377.9 335.2 379.2 336.3 380.6 C337.3 381.9 338.4 383.2 339.4 384.5 C340.5 385.7 341.6 387.0 342.6 388.3 C343.7 389.6 344.8 390.9 345.9 392.1 C347.0 393.4 348.1 394.6 349.2 395.9 C350.4 397.1 351.5 398.3 352.6 399.5 C353.8 400.7 354.9 402.0 356.1 403.1 C357.3 404.3 358.5 405.5 359.7 406.7 C360.9 407.8 362.1 409.0 363.3 410.1 C364.6 411.2 365.8 412.4 367.1 413.5 C368.3 414.5 369.6 415.6 370.9 416.7 C372.2 417.7 373.5 418.8 374.9 419.8 C376.2 420.8 377.6 421.7 379.0 422.6 C380.4 423.5 381.8 424.4 383.2 425.2 C384.7 426.0 386.1 426.8 387.6 427.6 C389.1 428.3 390.7 429.0 392.2 429.6 C393.7 430.2 395.3 430.8 396.9 431.3 C398.5 431.8 400.1 432.3 401.7 432.7 C403.3 433.2 404.9 433.6 406.5 434.0 C408.2 434.3 409.8 434.7 411.4 435.0 C413.1 435.3 414.7 435.6 416.4 435.9 C418.0 436.2 419.7 436.4 421.3 436.6 C423.0 436.8 424.6 437.0 426.3 437.2 C428.0 437.3 429.6 437.5 431.3 437.6 C433.0 437.7 434.6 437.8 436.3 437.9 C438.0 438.0 439.6 438.1 441.3 438.2 C443.0 438.3 444.6 438.4 446.3 438.4 C448.0 438.5 449.7 438.5 451.3 438.6 C453.0 438.6 454.7 438.7 456.3 438.7 C458.0 438.7 459.7 438.7 461.3 438.8 C463.0 438.8 464.7 438.8 466.4 438.8 C468.0 438.8 469.7 438.8 471.4 438.9 C473.0 438.9 474.7 438.9 476.4 438.9 C478.1 438.9 480.6 438.9 481.4 438.9" fill="none" stroke="#0000ff" stroke-width="2.05" stroke-linecap="round" stroke-linejoin="round"/>
<path d="M274.3 262.3 C274.7 263.0 276.0 265.2 276.9 266.6 C277.7 268.0 278.5 269.5 279.4 270.9 C280.2 272.4 281.0 273.8 281.8 275.3 C282.6 276.8 283.4 278.2 284.3 279.7 C285.1 281.1 285.9 282.6 286.7 284.1 C287.5 285.5 288.3 287.0 289.1 288.4 C289.9 289.9 290.8 291.3 291.6 292.8 C292.4 294.2 293.3 295.7 294.1 297.1 C295.0 298.5 295.8 300.0 296.7 301.4 C297.6 302.8 298.4 304.2 299.3 305.7 C300.2 307.1 301.1 308.5 302.0 309.9 C302.8 311.4 303.7 312.8 304.6 314.2 C305.5 315.6 306.3 317.0 307.2 318.5 C308.1 319.9 309.0 321.5 309.8 322.7 C310.6 324.0 311.1 324.9 311.9 326.2 C312.7 327.4 313.6 329.0 314.5 330.4 C315.5 331.8 316.4 333.2 317.3 334.6 C318.2 335.9 319.2 337.3 320.1 338.7 C321.1 340.1 322.0 341.5 322.9 342.8 C323.9 344.2 324.8 345.6 325.7 347.0 C326.6 348.4 327.5 349.8 328.4 351.2 C329.4 352.6 330.3 354.0 331.2 355.4 C332.2 356.7 333.2 358.1 334.2 359.4 C335.2 360.7 336.2 362.0 337.3 363.3 C338.4 364.6 339.5 365.8 340.6 367.1 C341.7 368.3 342.8 369.6 343.9 370.8 C345.1 372.0 346.2 373.2 347.3 374.5 C348.5 375.7 349.6 376.9 350.7 378.2 C351.9 379.4 353.0 380.6 354.1 381.9 C355.2 383.1 356.3 384.4 357.5 385.6 C358.6 386.8 359.7 388.1 360.9 389.3 C362.0 390.5 363.2 391.7 364.3 392.9 C365.5 394.0 366.7 395.2 367.9 396.4 C369.1 397.5 370.3 398.7 371.6 399.8 C372.8 400.9 374.1 402.0 375.3 403.1 C376.6 404.2 377.9 405.2 379.2 406.3 C380.5 407.3 381.8 408.3 383.2 409.3 C384.5 410.3 385.9 411.3 387.2 412.3 C388.6 413.2 390.0 414.1 391.4 415.0 C392.8 415.9 394.2 416.8 395.7 417.6 C397.1 418.5 398.6 419.3 400.0 420.1 C401.5 420.8 403.0 421.6 404.5 422.3 C406.0 423.0 407.7 423.8 409.1 424.4 C410.4 425.0 411.4 425.4 412.8 425.9 C414.2 426.5 415.9 427.1 417.4 427.7 C419.0 428.3 420.6 428.8 422.2 429.3 C423.8 429.8 425.4 430.3 427.0 430.7 C428.6 431.2 430.2 431.6 431.8 432.0 C433.4 432.4 435.1 432.7 436.7 433.1 C438.3 433.4 440.0 433.8 441.6 434.1 C443.2 434.4 444.9 434.7 446.5 434.9 C448.2 435.2 449.8 435.4 451.5 435.7 C453.1 435.9 454.8 436.1 456.5 436.3 C458.1 436.5 459.8 436.7 461.4 436.9 C463.1 437.0 464.7 437.2 466.4 437.4 C468.1 437.5 469.7 437.7 471.4 437.8 C473.1 437.9 474.7 438.0 476.4 438.2 C478.1 438.3 480.6 438.4 481.4 438.5" fill="none" stroke="#0000ff" stroke-width="2.05" stroke-linecap="round" stroke-linejoin="round" stroke-dasharray="13 13" stroke-dashoffset="0.0"/>
<path d="M274.3 373.6 C275.0 374.0 277.1 375.4 278.6 376.3 C280.0 377.1 281.4 378.0 282.8 378.9 C284.2 379.8 285.7 380.6 287.1 381.5 C288.5 382.4 289.9 383.2 291.4 384.1 C292.8 385.0 294.2 385.8 295.7 386.7 C297.1 387.5 298.6 388.4 300.0 389.2 C301.4 390.1 302.9 390.9 304.3 391.8 C305.8 392.6 307.2 393.4 308.7 394.3 C310.1 395.1 311.6 395.9 313.0 396.8 C314.5 397.6 315.9 398.4 317.4 399.2 C318.8 400.0 320.3 400.8 321.8 401.6 C323.2 402.5 324.7 403.2 326.2 404.0 C327.7 404.8 329.1 405.6 330.6 406.4 C332.1 407.1 333.6 407.9 335.1 408.6 C336.6 409.4 338.1 410.1 339.6 410.8 C341.1 411.6 342.6 412.3 344.1 413.0 C345.6 413.7 347.1 414.4 348.7 415.1 C350.2 415.8 351.7 416.5 353.2 417.1 C354.8 417.8 356.3 418.5 357.8 419.1 C359.4 419.8 360.9 420.4 362.5 421.0 C364.0 421.7 365.6 422.3 367.1 422.9 C368.7 423.5 370.1 424.1 371.8 424.8 C373.5 425.4 375.7 426.3 377.4 426.9 C379.2 427.5 380.6 428.1 382.2 428.6 C383.8 429.1 385.4 429.6 386.9 430.1 C388.5 430.6 390.1 431.1 391.8 431.5 C393.4 431.9 395.0 432.3 396.6 432.7 C398.2 433.0 399.8 433.4 401.5 433.7 C403.1 434.0 404.8 434.4 406.4 434.7 C408.1 434.9 409.7 435.2 411.4 435.5 C413.0 435.7 414.7 436.0 416.3 436.2 C418.0 436.4 419.7 436.6 421.3 436.8 C423.0 436.9 424.6 437.1 426.3 437.2 C428.0 437.4 429.6 437.5 431.3 437.6 C433.0 437.7 434.6 437.8 436.3 437.9 C438.0 438.0 439.6 438.1 441.3 438.2 C443.0 438.3 444.6 438.4 446.3 438.4 C448.0 438.5 449.7 438.5 451.3 438.6 C453.0 438.6 454.7 438.7 456.3 438.7 C458.0 438.7 459.7 438.7 461.3 438.8 C463.0 438.8 464.7 438.8 466.4 438.8 C468.0 438.8 469.7 438.8 471.4 438.9 C473.0 438.9 474.7 438.9 476.4 438.9 C478.1 438.9 480.6 438.9 481.4 438.9" fill="none" stroke="#ff8000" stroke-width="2.05" stroke-linecap="round" stroke-linejoin="round"/>
<path d="M274.3 366.0 C275.0 366.4 277.1 367.8 278.6 368.7 C280.0 369.5 281.4 370.4 282.8 371.3 C284.3 372.2 285.7 373.1 287.1 373.9 C288.5 374.8 290.0 375.7 291.4 376.5 C292.8 377.4 294.3 378.2 295.7 379.1 C297.2 380.0 298.6 380.8 300.0 381.6 C301.5 382.5 303.1 383.4 304.4 384.2 C305.7 384.9 306.6 385.4 307.9 386.2 C309.2 386.9 310.8 387.8 312.2 388.7 C313.7 389.5 315.1 390.3 316.6 391.1 C318.1 391.9 319.5 392.7 321.0 393.5 C322.5 394.3 323.9 395.1 325.4 395.9 C326.9 396.7 328.4 397.5 329.8 398.3 C331.3 399.1 332.8 399.9 334.3 400.7 C335.8 401.5 337.2 402.2 338.7 403.0 C340.2 403.8 341.7 404.6 343.2 405.4 C344.7 406.1 346.1 406.9 347.6 407.7 C349.1 408.4 350.6 409.2 352.1 409.9 C353.6 410.7 355.1 411.4 356.6 412.1 C358.1 412.8 359.7 413.5 361.2 414.2 C362.7 414.9 364.2 415.6 365.8 416.3 C367.3 416.9 369.0 417.6 370.4 418.2 C371.8 418.8 372.7 419.2 374.1 419.8 C375.5 420.3 377.2 421.0 378.8 421.6 C380.4 422.2 381.9 422.8 383.5 423.3 C385.1 423.9 386.7 424.4 388.3 424.9 C389.9 425.4 391.5 425.9 393.1 426.4 C394.7 426.9 396.3 427.3 397.9 427.7 C399.5 428.1 401.1 428.5 402.7 428.9 C404.4 429.3 406.0 429.7 407.6 430.0 C409.3 430.4 410.9 430.7 412.6 431.0 C414.2 431.4 415.9 431.7 417.5 432.0 C419.2 432.3 420.8 432.6 422.5 432.8 C424.1 433.1 425.8 433.4 427.4 433.6 C429.1 433.9 430.7 434.1 432.4 434.4 C434.0 434.6 435.7 434.8 437.4 435.0 C439.0 435.3 440.9 435.5 442.3 435.7 C443.8 435.8 444.8 436.0 446.3 436.1 C447.8 436.3 449.7 436.5 451.3 436.6 C453.0 436.8 454.7 436.9 456.3 437.1 C458.0 437.2 459.7 437.3 461.3 437.4 C463.0 437.5 464.7 437.7 466.3 437.8 C468.0 437.9 469.7 438.0 471.4 438.0 C473.0 438.1 474.7 438.2 476.4 438.3 C478.1 438.4 480.6 438.5 481.4 438.5" fill="none" stroke="#ff8000" stroke-width="2.05" stroke-linecap="round" stroke-linejoin="round" stroke-dasharray="13 13" stroke-dashoffset="0.0"/>
<path d="M274.3 416.5 C275.1 416.6 277.6 416.9 279.3 417.1 C280.9 417.3 282.6 417.4 284.3 417.6 C285.9 417.8 287.6 418.0 289.2 418.3 C290.9 418.5 292.6 418.7 294.2 418.9 C295.9 419.1 297.5 419.3 299.2 419.5 C300.8 419.8 302.5 420.0 304.2 420.2 C305.8 420.5 307.5 420.7 309.1 421.0 C310.8 421.2 312.4 421.5 314.1 421.7 C315.7 422.0 317.4 422.2 319.0 422.5 C320.7 422.8 322.5 423.1 324.0 423.3 C325.5 423.5 326.4 423.7 327.9 424.0 C329.4 424.2 331.2 424.5 332.9 424.8 C334.5 425.0 336.2 425.3 337.8 425.6 C339.5 425.9 341.1 426.1 342.8 426.4 C344.4 426.7 346.1 427.0 347.7 427.3 C349.4 427.5 351.0 427.8 352.7 428.1 C354.3 428.3 356.0 428.6 357.6 428.9 C359.3 429.2 360.9 429.4 362.6 429.7 C364.2 429.9 365.9 430.2 367.5 430.4 C369.2 430.7 370.8 430.9 372.5 431.2 C374.1 431.4 375.8 431.7 377.4 431.9 C379.1 432.1 380.8 432.4 382.4 432.6 C384.1 432.8 385.7 433.0 387.4 433.3 C389.0 433.5 390.7 433.7 392.4 433.9 C394.0 434.1 395.7 434.3 397.3 434.5 C399.0 434.7 400.7 434.9 402.3 435.1 C404.0 435.3 405.6 435.5 407.3 435.7 C409.0 435.8 410.6 436.0 412.3 436.2 C413.9 436.3 415.6 436.5 417.3 436.6 C418.9 436.8 420.6 436.9 422.3 437.1 C423.9 437.2 425.8 437.3 427.3 437.4 C428.8 437.5 429.8 437.6 431.3 437.6 C432.8 437.7 434.6 437.8 436.3 437.9 C438.0 438.0 439.6 438.1 441.3 438.1 C443.0 438.2 444.6 438.3 446.3 438.3 C448.0 438.4 449.6 438.4 451.3 438.5 C453.0 438.5 454.7 438.6 456.3 438.6 C458.0 438.6 459.7 438.7 461.3 438.7 C463.0 438.7 464.7 438.7 466.4 438.8 C468.0 438.8 469.7 438.8 471.4 438.8 C473.0 438.8 474.7 438.9 476.4 438.9 C478.1 438.9 480.6 438.9 481.4 438.9" fill="none" stroke="#ff00ff" stroke-width="2.05" stroke-linecap="round" stroke-linejoin="round"/>
<path d="M274.3 414.3 C275.1 414.4 277.6 414.7 279.3 415.0 C280.9 415.2 282.6 415.4 284.3 415.6 C285.9 415.8 287.6 416.1 289.2 416.3 C290.9 416.5 292.5 416.8 294.2 417.0 C295.9 417.2 297.5 417.5 299.2 417.7 C300.8 417.9 302.5 418.2 304.1 418.4 C305.8 418.7 307.4 418.9 309.1 419.2 C310.7 419.4 312.4 419.7 314.0 420.0 C315.7 420.2 317.3 420.5 319.0 420.8 C320.6 421.0 322.5 421.4 324.0 421.6 C325.4 421.8 326.4 422.0 327.9 422.2 C329.4 422.5 331.2 422.8 332.9 423.1 C334.5 423.3 336.2 423.6 337.8 423.8 C339.5 424.1 341.1 424.4 342.8 424.6 C344.4 424.9 346.1 425.2 347.7 425.4 C349.4 425.7 351.0 425.9 352.7 426.2 C354.3 426.5 356.0 426.7 357.6 427.0 C359.3 427.3 361.0 427.5 362.6 427.8 C364.3 428.1 365.9 428.3 367.6 428.6 C369.2 428.9 370.9 429.1 372.5 429.4 C374.2 429.7 375.8 429.9 377.5 430.2 C379.1 430.5 380.8 430.7 382.4 431.0 C384.1 431.2 385.7 431.5 387.4 431.7 C389.0 432.0 390.7 432.2 392.4 432.5 C394.0 432.7 395.7 432.9 397.3 433.2 C399.0 433.4 400.6 433.6 402.3 433.8 C404.0 434.0 405.6 434.2 407.3 434.4 C408.9 434.6 410.6 434.8 412.3 435.0 C413.9 435.2 415.6 435.3 417.3 435.5 C418.9 435.7 420.6 435.8 422.3 436.0 C423.9 436.1 425.8 436.3 427.3 436.4 C428.8 436.5 429.8 436.6 431.3 436.7 C432.8 436.8 434.6 436.9 436.3 437.0 C437.9 437.1 439.6 437.2 441.3 437.3 C442.9 437.4 444.6 437.5 446.3 437.6 C448.0 437.7 449.6 437.8 451.3 437.8 C453.0 437.9 454.6 438.0 456.3 438.1 C458.0 438.1 459.7 438.2 461.3 438.3 C463.0 438.3 464.7 438.4 466.3 438.4 C468.0 438.5 469.7 438.5 471.4 438.6 C473.0 438.6 474.7 438.7 476.4 438.7 C478.1 438.7 480.6 438.8 481.4 438.8" fill="none" stroke="#ff00ff" stroke-width="2.05" stroke-linecap="round" stroke-linejoin="round" stroke-dasharray="13 13" stroke-dashoffset="0.0"/>
</g>
<g clip-path="url(#c21)">
<g stroke="#b8b8b8" stroke-width="1" fill="none"><path d="M496.4 438.2 V447.3"/><path d="M504.4 439.0 V448.0"/><path d="M509.9 426.9 V437.5"/><path d="M513.0 440.5 V449.5"/><path d="M514.2 432.2 V442.7"/><path d="M517.5 420.1 V432.2"/><path d="M520.2 426.9 V434.4"/><path d="M522.9 427.7 V435.2"/><path d="M521.0 429.9 V437.5"/><path d="M523.2 430.7 V438.2"/><path d="M520.2 432.9 V440.5"/><path d="M522.9 433.7 V441.2"/><path d="M521.0 436.0 V443.5"/><path d="M523.2 437.5 V445.0"/><path d="M520.2 439.0 V446.5"/><path d="M522.9 441.2 V448.8"/><path d="M523.2 443.5 V451.0"/><path d="M534.5 440.2 V449.2"/><path d="M536.0 430.7 V441.2"/><path d="M540.1 426.1 V435.2"/><path d="M540.1 432.6 V440.2"/><path d="M545.1 425.4 V432.9"/><path d="M547.3 426.1 V433.7"/><path d="M545.8 428.4 V436.0"/><path d="M548.1 429.2 V436.7"/><path d="M545.1 431.4 V439.0"/><path d="M547.3 432.2 V439.7"/><path d="M545.8 434.4 V442.0"/><path d="M548.1 435.2 V442.7"/><path d="M545.1 437.5 V445.0"/><path d="M547.3 439.0 V446.5"/><path d="M548.9 439.7 V447.3"/><path d="M545.1 441.2 V451.8"/><path d="M548.1 441.2 V448.8"/><path d="M551.6 429.6 V440.2"/><path d="M563.2 437.5 V445.0"/><path d="M566.7 431.4 V439.0"/><path d="M568.2 432.2 V444.2"/><path d="M574.2 419.4 V426.9"/><path d="M574.2 401.3 V410.3"/><path d="M574.5 426.1 V433.7"/><path d="M576.3 426.9 V434.4"/><path d="M574.5 429.2 V436.7"/><path d="M576.3 429.9 V437.5"/><path d="M574.5 432.2 V439.7"/><path d="M576.3 432.9 V440.5"/><path d="M574.5 435.2 V442.7"/><path d="M576.3 436.0 V443.5"/><path d="M574.5 438.2 V445.8"/><path d="M576.3 439.0 V446.5"/><path d="M574.5 441.2 V448.8"/><path d="M574.5 442.7 V453.3"/><path d="M582.8 426.9 V434.4"/><path d="M582.8 429.9 V437.5"/><path d="M582.8 432.9 V440.5"/><path d="M582.8 436.7 V444.2"/><path d="M582.8 438.2 V448.8"/><path d="M581.3 438.2 V445.8"/><path d="M587.8 431.4 V439.0"/><path d="M587.8 434.4 V442.0"/><path d="M587.8 437.5 V445.0"/><path d="M587.8 441.2 V448.8"/><path d="M589.6 430.0 V440.0"/><path d="M590.7 434.6 V443.1"/><path d="M592.0 434.6 V443.5"/><path d="M593.3 437.1 V444.1"/><path d="M594.4 437.0 V446.2"/><path d="M595.2 435.2 V445.4"/><path d="M596.7 432.4 V439.6"/><path d="M597.6 430.9 V439.4"/><path d="M598.4 435.2 V441.9"/><path d="M599.6 435.5 V443.7"/><path d="M601.0 430.3 V438.7"/><path d="M602.3 433.4 V441.6"/><path d="M603.3 441.0 V450.7"/><path d="M604.6 433.9 V441.7"/><path d="M605.6 433.0 V442.4"/><path d="M606.7 434.0 V443.7"/><path d="M607.8 439.1 V445.8"/><path d="M608.7 431.7 V441.7"/><path d="M609.9 436.9 V443.8"/><path d="M611.1 432.9 V442.3"/><path d="M612.2 434.7 V444.8"/><path d="M613.5 435.5 V442.6"/><path d="M614.5 433.8 V443.4"/><path d="M615.4 434.1 V442.7"/><path d="M616.6 435.8 V442.9"/><path d="M617.8 438.0 V445.1"/><path d="M619.0 433.3 V443.4"/><path d="M620.3 435.9 V443.6"/><path d="M621.8 433.6 V443.4"/><path d="M623.0 436.8 V443.8"/><path d="M624.5 433.6 V443.1"/><path d="M625.6 435.9 V443.6"/><path d="M626.5 436.8 V444.4"/><path d="M627.7 435.6 V443.6"/><path d="M628.8 436.2 V445.0"/><path d="M630.3 433.6 V440.9"/><path d="M631.2 437.9 V445.4"/><path d="M632.1 430.8 V440.1"/><path d="M633.6 434.9 V444.8"/><path d="M634.9 439.4 V447.6"/><path d="M635.8 440.2 V447.7"/><path d="M637.1 435.6 V443.2"/><path d="M638.5 432.6 V439.9"/><path d="M639.8 433.3 V440.2"/><path d="M640.8 429.1 V437.9"/><path d="M641.8 431.2 V441.2"/><path d="M642.1 438.2 V444.7"/><path d="M642.4 437.4 V443.0"/><path d="M642.9 435.6 V441.3"/><path d="M643.2 438.6 V444.9"/><path d="M643.9 439.1 V446.2"/><path d="M644.2 436.3 V443.1"/><path d="M644.7 436.5 V444.2"/><path d="M645.0 436.5 V443.7"/><path d="M645.8 439.3 V445.9"/><path d="M646.1 436.8 V444.0"/><path d="M646.6 437.4 V444.1"/><path d="M646.9 436.4 V443.6"/><path d="M647.7 436.1 V443.5"/><path d="M648.0 433.4 V441.0"/><path d="M648.5 434.7 V442.3"/><path d="M648.8 433.2 V439.7"/><path d="M649.6 438.1 V445.0"/><path d="M649.9 435.1 V441.4"/><path d="M650.5 436.0 V442.9"/><path d="M650.8 435.6 V443.5"/><path d="M651.6 436.2 V443.4"/><path d="M651.9 434.8 V441.7"/><path d="M652.5 436.8 V444.0"/><path d="M652.8 436.6 V442.1"/><path d="M653.4 435.2 V442.3"/><path d="M653.7 436.9 V443.5"/><path d="M654.4 438.5 V444.0"/><path d="M654.7 436.3 V442.4"/><path d="M655.4 436.5 V444.2"/><path d="M655.7 437.6 V444.6"/><path d="M656.2 437.8 V444.8"/><path d="M656.5 436.1 V442.0"/><path d="M657.1 437.6 V445.2"/><path d="M657.4 433.1 V439.4"/><path d="M658.1 436.3 V442.9"/><path d="M658.4 437.2 V444.6"/><path d="M659.1 435.9 V442.0"/><path d="M659.4 432.8 V438.6"/><path d="M660.0 436.6 V443.0"/><path d="M660.3 437.8 V444.7"/><path d="M592.0 440.5 V451.0"/><path d="M593.5 442.0 V451.0"/><path d="M664.4 436.3 V440.8"/><path d="M667.4 438.5 V443.9"/><path d="M673.8 433.4 V446.1"/><path d="M679.2 441.5 V447.6"/><path d="M693.1 436.7 V442.7"/></g>
<g fill="#aaaaaa"><circle cx="496.4" cy="442.7" r="1.85"/><circle cx="504.4" cy="443.5" r="1.85"/><circle cx="509.9" cy="432.2" r="1.85"/><circle cx="513.0" cy="445.0" r="1.85"/><circle cx="514.2" cy="437.5" r="1.85"/><circle cx="517.5" cy="426.1" r="1.85"/><circle cx="520.2" cy="430.7" r="1.85"/><circle cx="522.9" cy="431.4" r="1.85"/><circle cx="521.0" cy="433.7" r="1.85"/><circle cx="523.2" cy="434.4" r="1.85"/><circle cx="520.2" cy="436.7" r="1.85"/><circle cx="522.9" cy="437.5" r="1.85"/><circle cx="521.0" cy="439.7" r="1.85"/><circle cx="523.2" cy="441.2" r="1.85"/><circle cx="520.2" cy="442.7" r="1.85"/><circle cx="522.9" cy="445.0" r="1.85"/><circle cx="523.2" cy="447.3" r="1.85"/><circle cx="534.5" cy="444.7" r="1.85"/><circle cx="536.0" cy="436.0" r="1.85"/><circle cx="540.1" cy="430.7" r="1.85"/><circle cx="540.1" cy="436.4" r="1.85"/><circle cx="545.1" cy="429.2" r="1.85"/><circle cx="547.3" cy="429.9" r="1.85"/><circle cx="545.8" cy="432.2" r="1.85"/><circle cx="548.1" cy="432.9" r="1.85"/><circle cx="545.1" cy="435.2" r="1.85"/><circle cx="547.3" cy="436.0" r="1.85"/><circle cx="545.8" cy="438.2" r="1.85"/><circle cx="548.1" cy="439.0" r="1.85"/><circle cx="545.1" cy="441.2" r="1.85"/><circle cx="547.3" cy="442.7" r="1.85"/><circle cx="548.9" cy="443.5" r="1.85"/><circle cx="545.1" cy="446.5" r="1.85"/><circle cx="548.1" cy="445.0" r="1.85"/><circle cx="551.6" cy="434.9" r="1.85"/><circle cx="563.2" cy="441.2" r="1.85"/><circle cx="566.7" cy="435.2" r="1.85"/><circle cx="568.2" cy="438.2" r="1.85"/><circle cx="574.2" cy="423.1" r="1.85"/><circle cx="574.2" cy="405.8" r="1.85"/><circle cx="574.5" cy="429.9" r="1.85"/><circle cx="576.3" cy="430.7" r="1.85"/><circle cx="574.5" cy="432.9" r="1.85"/><circle cx="576.3" cy="433.7" r="1.85"/><circle cx="574.5" cy="436.0" r="1.85"/><circle cx="576.3" cy="436.7" r="1.85"/><circle cx="574.5" cy="439.0" r="1.85"/><circle cx="576.3" cy="439.7" r="1.85"/><circle cx="574.5" cy="442.0" r="1.85"/><circle cx="576.3" cy="442.7" r="1.85"/><circle cx="574.5" cy="445.0" r="1.85"/><circle cx="574.5" cy="448.0" r="1.85"/><circle cx="582.8" cy="430.7" r="1.85"/><circle cx="582.8" cy="433.7" r="1.85"/><circle cx="582.8" cy="436.7" r="1.85"/><circle cx="582.8" cy="440.5" r="1.85"/><circle cx="582.8" cy="443.5" r="1.85"/><circle cx="581.3" cy="442.0" r="1.85"/><circle cx="587.8" cy="435.2" r="1.85"/><circle cx="587.8" cy="438.2" r="1.85"/><circle cx="587.8" cy="441.2" r="1.85"/><circle cx="587.8" cy="445.0" r="1.85"/><circle cx="589.6" cy="435.0" r="1.85"/><circle cx="590.7" cy="438.8" r="1.85"/><circle cx="592.0" cy="439.1" r="1.85"/><circle cx="593.3" cy="440.6" r="1.85"/><circle cx="594.4" cy="441.6" r="1.85"/><circle cx="595.2" cy="440.3" r="1.85"/><circle cx="596.7" cy="436.0" r="1.85"/><circle cx="597.6" cy="435.2" r="1.85"/><circle cx="598.4" cy="438.6" r="1.85"/><circle cx="599.6" cy="439.6" r="1.85"/><circle cx="601.0" cy="434.5" r="1.85"/><circle cx="602.3" cy="437.5" r="1.85"/><circle cx="603.3" cy="445.9" r="1.85"/><circle cx="604.6" cy="437.8" r="1.85"/><circle cx="605.6" cy="437.7" r="1.85"/><circle cx="606.7" cy="438.8" r="1.85"/><circle cx="607.8" cy="442.4" r="1.85"/><circle cx="608.7" cy="436.7" r="1.85"/><circle cx="609.9" cy="440.3" r="1.85"/><circle cx="611.1" cy="437.6" r="1.85"/><circle cx="612.2" cy="439.8" r="1.85"/><circle cx="613.5" cy="439.0" r="1.85"/><circle cx="614.5" cy="438.6" r="1.85"/><circle cx="615.4" cy="438.4" r="1.85"/><circle cx="616.6" cy="439.3" r="1.85"/><circle cx="617.8" cy="441.6" r="1.85"/><circle cx="619.0" cy="438.4" r="1.85"/><circle cx="620.3" cy="439.8" r="1.85"/><circle cx="621.8" cy="438.5" r="1.85"/><circle cx="623.0" cy="440.3" r="1.85"/><circle cx="624.5" cy="438.3" r="1.85"/><circle cx="625.6" cy="439.7" r="1.85"/><circle cx="626.5" cy="440.6" r="1.85"/><circle cx="627.7" cy="439.6" r="1.85"/><circle cx="628.8" cy="440.6" r="1.85"/><circle cx="630.3" cy="437.2" r="1.85"/><circle cx="631.2" cy="441.7" r="1.85"/><circle cx="632.1" cy="435.5" r="1.85"/><circle cx="633.6" cy="439.9" r="1.85"/><circle cx="634.9" cy="443.5" r="1.85"/><circle cx="635.8" cy="443.9" r="1.85"/><circle cx="637.1" cy="439.4" r="1.85"/><circle cx="638.5" cy="436.3" r="1.85"/><circle cx="639.8" cy="436.8" r="1.85"/><circle cx="640.8" cy="433.5" r="1.85"/><circle cx="641.8" cy="436.2" r="1.85"/><circle cx="642.1" cy="441.5" r="1.85"/><circle cx="642.4" cy="440.2" r="1.85"/><circle cx="642.9" cy="438.4" r="1.85"/><circle cx="643.2" cy="441.8" r="1.85"/><circle cx="643.9" cy="442.7" r="1.85"/><circle cx="644.2" cy="439.7" r="1.85"/><circle cx="644.7" cy="440.4" r="1.85"/><circle cx="645.0" cy="440.1" r="1.85"/><circle cx="645.8" cy="442.6" r="1.85"/><circle cx="646.1" cy="440.4" r="1.85"/><circle cx="646.6" cy="440.7" r="1.85"/><circle cx="646.9" cy="440.0" r="1.85"/><circle cx="647.7" cy="439.8" r="1.85"/><circle cx="648.0" cy="437.2" r="1.85"/><circle cx="648.5" cy="438.5" r="1.85"/><circle cx="648.8" cy="436.5" r="1.85"/><circle cx="649.6" cy="441.6" r="1.85"/><circle cx="649.9" cy="438.2" r="1.85"/><circle cx="650.5" cy="439.5" r="1.85"/><circle cx="650.8" cy="439.6" r="1.85"/><circle cx="651.6" cy="439.8" r="1.85"/><circle cx="651.9" cy="438.2" r="1.85"/><circle cx="652.5" cy="440.4" r="1.85"/><circle cx="652.8" cy="439.4" r="1.85"/><circle cx="653.4" cy="438.7" r="1.85"/><circle cx="653.7" cy="440.2" r="1.85"/><circle cx="654.4" cy="441.2" r="1.85"/><circle cx="654.7" cy="439.4" r="1.85"/><circle cx="655.4" cy="440.4" r="1.85"/><circle cx="655.7" cy="441.1" r="1.85"/><circle cx="656.2" cy="441.3" r="1.85"/><circle cx="656.5" cy="439.0" r="1.85"/><circle cx="657.1" cy="441.4" r="1.85"/><circle cx="657.4" cy="436.3" r="1.85"/><circle cx="658.1" cy="439.6" r="1.85"/><circle cx="658.4" cy="440.9" r="1.85"/><circle cx="659.1" cy="439.0" r="1.85"/><circle cx="659.4" cy="435.7" r="1.85"/><circle cx="660.0" cy="439.8" r="1.85"/><circle cx="660.3" cy="441.3" r="1.85"/><circle cx="592.0" cy="445.8" r="1.85"/><circle cx="593.5" cy="446.5" r="1.85"/><circle cx="664.4" cy="438.5" r="1.85"/><circle cx="667.4" cy="441.2" r="1.85"/><circle cx="673.8" cy="439.7" r="1.85"/><circle cx="679.2" cy="444.6" r="1.85"/><circle cx="693.1" cy="439.7" r="1.85"/></g>
<g stroke="#111" stroke-width="1" fill="none"><path d="M520.6 343.9 V360.7"/><path d="M520.6 364.1 V379.1"/><path d="M548.0 328.3 V344.3"/><path d="M548.0 340.4 V356.4"/><path d="M545.2 356.6 V372.6"/><path d="M548.0 373.2 V387.2"/><path d="M548.7 382.4 V396.4"/><path d="M561.6 384.3 V392.3"/><path d="M566.6 377.4 V385.4"/><path d="M546.4 396.8 V404.8"/><path d="M521.0 397.6 V411.6"/><path d="M520.6 407.6 V419.6"/><path d="M520.6 409.9 V421.9"/><path d="M520.6 417.3 V429.3"/><path d="M548.0 410.2 V422.2"/><path d="M541.4 415.3 V426.3"/><path d="M545.2 415.8 V425.8"/><path d="M574.7 412.7 V420.3"/><path d="M582.6 406.9 V418.5"/><path d="M582.5 357.2 V373.2"/><path d="M561.6 422.5 V429.5"/><path d="M567.4 422.5 V429.5"/><path d="M594.1 255.8 V267.8"/><path d="M592.0 351.8 V369.8"/><path d="M591.9 378.5 V396.5"/><path d="M597.9 379.1 V386.1"/><path d="M591.9 396.6 V412.6"/><path d="M591.9 412.6 V426.6"/><path d="M606.4 399.9 V407.9"/><path d="M608.4 396.4 V404.4"/><path d="M617.1 391.6 V405.6"/><path d="M600.8 420.7 V427.7"/><path d="M612.1 420.1 V426.5"/><path d="M596.4 427.0 V434.0"/><path d="M624.8 375.4 V384.0"/><path d="M630.9 424.1 V430.1"/><path d="M640.7 426.1 V432.1"/><path d="M645.3 422.2 V428.6"/><path d="M654.6 420.1 V426.5"/></g>
<g fill="#000"><circle cx="520.6" cy="352.3" r="1.7"/><circle cx="520.6" cy="371.6" r="1.7"/><circle cx="548.0" cy="336.3" r="1.7"/><circle cx="548.0" cy="348.4" r="1.7"/><circle cx="545.2" cy="364.6" r="1.7"/><circle cx="548.0" cy="380.2" r="1.7"/><circle cx="548.7" cy="389.4" r="1.7"/><circle cx="561.6" cy="388.3" r="1.7"/><circle cx="566.6" cy="381.4" r="1.7"/><circle cx="546.4" cy="400.8" r="1.7"/><circle cx="521.0" cy="404.6" r="1.7"/><circle cx="520.6" cy="413.6" r="1.7"/><circle cx="520.6" cy="415.9" r="1.7"/><circle cx="520.6" cy="423.3" r="1.7"/><circle cx="548.0" cy="416.2" r="1.7"/><circle cx="541.4" cy="420.8" r="1.7"/><circle cx="545.2" cy="420.8" r="1.7"/><circle cx="574.7" cy="416.5" r="1.7"/><circle cx="582.6" cy="412.7" r="1.7"/><circle cx="582.5" cy="365.2" r="1.7"/><circle cx="561.6" cy="426.0" r="1.7"/><circle cx="567.4" cy="426.0" r="1.7"/><circle cx="594.1" cy="261.8" r="1.7"/><circle cx="592.0" cy="360.8" r="1.7"/><circle cx="591.9" cy="387.5" r="1.7"/><circle cx="597.9" cy="382.6" r="1.7"/><circle cx="591.9" cy="404.6" r="1.7"/><circle cx="591.9" cy="419.6" r="1.7"/><circle cx="606.4" cy="403.9" r="1.7"/><circle cx="608.4" cy="400.4" r="1.7"/><circle cx="617.1" cy="398.6" r="1.7"/><circle cx="600.8" cy="424.2" r="1.7"/><circle cx="612.1" cy="423.3" r="1.7"/><circle cx="596.4" cy="430.5" r="1.7"/><circle cx="624.8" cy="379.7" r="1.7"/><circle cx="630.9" cy="427.1" r="1.7"/><circle cx="640.7" cy="429.1" r="1.7"/><circle cx="645.3" cy="425.4" r="1.7"/><circle cx="654.6" cy="423.3" r="1.7"/></g>
<path d="M583.7 233.0 C583.8 233.8 584.2 236.3 584.4 238.0 C584.7 239.6 584.9 241.3 585.2 242.9 C585.4 244.5 585.7 246.2 585.9 247.8 C586.2 249.5 586.4 251.1 586.7 252.8 C586.9 254.4 587.2 256.1 587.4 257.7 C587.7 259.4 587.9 261.0 588.2 262.7 C588.4 264.3 588.7 266.0 589.0 267.6 C589.2 269.3 589.5 270.9 589.7 272.6 C590.0 274.2 590.2 275.9 590.5 277.5 C590.7 279.2 591.0 280.8 591.2 282.5 C591.5 284.1 591.7 285.8 592.0 287.4 C592.2 289.1 592.5 290.9 592.7 292.4 C592.9 293.9 593.1 294.9 593.3 296.4 C593.5 297.8 593.8 299.7 594.0 301.3 C594.3 303.0 594.6 304.6 594.8 306.3 C595.1 307.9 595.4 309.5 595.7 311.2 C595.9 312.8 596.2 314.5 596.5 316.1 C596.8 317.8 597.1 319.4 597.5 321.0 C597.8 322.7 598.2 324.3 598.5 325.9 C598.9 327.5 599.3 329.2 599.7 330.8 C600.1 332.4 600.5 334.0 600.9 335.6 C601.3 337.2 601.8 338.8 602.2 340.5 C602.7 342.1 603.2 343.7 603.7 345.2 C604.2 346.8 604.7 348.4 605.2 350.0 C605.7 351.6 606.2 353.2 606.7 354.8 C607.2 356.4 607.7 358.0 608.3 359.6 C608.8 361.1 609.3 362.7 609.9 364.3 C610.4 365.9 610.9 367.5 611.5 369.0 C612.1 370.6 612.6 372.2 613.2 373.7 C613.8 375.3 614.4 376.8 615.0 378.4 C615.7 379.9 616.3 381.5 616.9 383.0 C617.6 384.6 618.3 386.1 619.0 387.6 C619.6 389.1 620.4 390.6 621.1 392.1 C621.8 393.6 622.6 395.1 623.4 396.6 C624.2 398.1 625.0 399.5 625.8 400.9 C626.7 402.4 627.6 403.8 628.5 405.2 C629.4 406.6 630.4 407.9 631.4 409.3 C632.4 410.6 633.5 412.0 634.5 413.2 C635.5 414.3 636.1 415.1 637.2 416.1 C638.2 417.2 639.5 418.5 640.8 419.6 C642.0 420.7 643.3 421.8 644.6 422.8 C645.9 423.8 647.3 424.7 648.7 425.6 C650.1 426.4 651.6 427.2 653.0 428.0 C654.5 428.7 656.0 429.4 657.6 430.1 C659.1 430.7 660.7 431.3 662.3 431.8 C663.8 432.3 665.4 432.8 667.0 433.3 C668.6 433.7 670.3 434.1 671.9 434.5 C673.5 434.9 675.1 435.2 676.8 435.6 C678.4 435.9 680.0 436.2 681.7 436.5 C683.3 436.8 685.0 437.0 686.6 437.3 C688.3 437.5 690.8 437.9 691.6 438.0" fill="none" stroke="#ff0000" stroke-width="2.05" stroke-linecap="round" stroke-linejoin="round"/>
<path d="M654.9 233.0 C655.0 233.8 655.4 236.3 655.6 238.0 C655.9 239.6 656.1 241.3 656.4 242.9 C656.6 244.6 656.9 246.2 657.1 247.9 C657.4 249.5 657.6 251.2 657.8 252.8 C658.1 254.5 658.3 256.2 658.5 257.8 C658.7 259.5 658.9 261.1 659.1 262.8 C659.3 264.4 659.5 266.1 659.7 267.8 C659.9 269.4 660.2 271.2 660.4 272.7 C660.6 274.2 660.8 275.2 661.1 276.7 C661.3 278.2 661.6 280.0 661.9 281.6 C662.2 283.3 662.5 284.9 662.8 286.6 C663.0 288.2 663.3 289.9 663.6 291.5 C663.9 293.1 664.2 294.8 664.5 296.4 C664.8 298.1 665.1 299.7 665.5 301.3 C665.8 303.0 666.2 304.6 666.5 306.3 C666.8 307.9 667.1 309.5 667.4 311.2 C667.8 312.8 668.0 314.5 668.4 316.1 C668.7 317.7 669.0 319.4 669.3 321.0 C669.6 322.7 670.0 324.3 670.4 325.9 C670.7 327.5 671.1 329.2 671.5 330.8 C671.8 332.4 672.2 334.1 672.6 335.7 C672.9 337.3 673.3 339.0 673.7 340.6 C674.0 342.2 674.4 343.8 674.8 345.5 C675.2 347.1 675.7 348.8 676.1 350.3 C676.5 351.7 676.8 352.7 677.3 354.1 C677.7 355.6 678.3 357.3 678.8 358.9 C679.3 360.5 679.7 362.1 680.2 363.7 C680.7 365.3 681.2 366.9 681.8 368.5 C682.3 370.1 682.9 371.6 683.5 373.2 C684.0 374.7 684.7 376.3 685.3 377.8 C686.0 379.4 686.7 380.9 687.4 382.4 C688.0 383.9 688.8 385.4 689.5 387.0 C690.2 388.5 691.2 390.7 691.6 391.5" fill="none" stroke="#ff0000" stroke-width="2.05" stroke-linecap="round" stroke-linejoin="round" stroke-dasharray="13 13" stroke-dashoffset="13.8"/>
<path d="M580.1 233.0 C580.2 233.8 580.7 236.3 580.9 237.9 C581.2 239.6 581.5 241.2 581.8 242.9 C582.1 244.5 582.3 246.2 582.6 247.8 C582.9 249.5 583.2 251.1 583.4 252.8 C583.7 254.4 584.0 256.1 584.2 257.7 C584.5 259.4 584.8 261.0 585.1 262.7 C585.3 264.3 585.6 266.0 585.9 267.6 C586.2 269.3 586.4 270.9 586.7 272.6 C587.0 274.2 587.3 275.9 587.6 277.5 C587.9 279.1 588.1 280.8 588.4 282.4 C588.7 284.1 589.0 285.7 589.3 287.4 C589.6 289.0 589.9 290.7 590.1 292.3 C590.4 294.0 590.7 295.6 591.0 297.3 C591.3 298.9 591.6 300.6 591.9 302.2 C592.2 303.8 592.5 305.5 592.8 307.1 C593.1 308.8 593.4 310.4 593.7 312.1 C594.1 313.7 594.4 315.3 594.7 317.0 C595.0 318.6 595.4 320.2 595.7 321.9 C596.1 323.5 596.4 325.1 596.8 326.8 C597.2 328.4 597.6 330.0 598.0 331.6 C598.4 333.3 598.8 334.9 599.3 336.5 C599.7 338.1 600.2 339.7 600.7 341.3 C601.2 342.9 601.7 344.5 602.2 346.1 C602.7 347.7 603.3 349.2 603.8 350.8 C604.3 352.4 604.9 354.2 605.4 355.6 C605.9 357.0 606.2 358.0 606.7 359.4 C607.2 360.8 607.8 362.5 608.4 364.1 C609.0 365.7 609.5 367.2 610.1 368.8 C610.7 370.4 611.3 371.9 611.9 373.5 C612.5 375.0 613.2 376.6 613.8 378.1 C614.4 379.7 615.1 381.2 615.8 382.7 C616.4 384.3 617.1 385.8 617.8 387.3 C618.6 388.8 619.3 390.3 620.1 391.8 C620.8 393.3 621.6 394.7 622.5 396.2 C623.3 397.6 624.2 399.1 625.0 400.5 C625.9 401.9 626.8 403.3 627.8 404.7 C628.7 406.1 629.7 407.4 630.7 408.8 C631.7 410.1 632.7 411.4 633.8 412.7 C634.8 414.0 635.9 415.3 637.0 416.5 C638.2 417.7 639.3 418.9 640.6 420.0 C641.8 421.1 643.1 422.2 644.4 423.2 C645.7 424.2 647.1 425.1 648.5 426.0 C649.9 426.8 651.4 427.6 652.9 428.4 C654.4 429.1 655.9 429.7 657.4 430.3 C659.0 430.9 660.6 431.5 662.2 432.0 C663.8 432.5 665.4 432.9 667.0 433.3 C668.6 433.8 670.2 434.2 671.9 434.5 C673.5 434.9 675.1 435.2 676.8 435.5 C678.4 435.9 680.0 436.2 681.7 436.4 C683.3 436.7 685.0 437.0 686.6 437.2 C688.3 437.5 690.8 437.9 691.6 438.0" fill="none" stroke="#00ff00" stroke-width="2.05" stroke-linecap="round" stroke-linejoin="round"/>
<path d="M647.6 233.0 C647.8 233.8 648.3 236.3 648.6 237.9 C648.9 239.6 649.3 241.2 649.6 242.8 C649.9 244.5 650.3 246.1 650.6 247.7 C650.9 249.4 651.3 251.0 651.6 252.7 C651.9 254.3 652.2 255.9 652.5 257.6 C652.8 259.2 653.1 260.9 653.4 262.5 C653.7 264.2 654.0 265.8 654.3 267.5 C654.6 269.1 654.9 270.7 655.3 272.4 C655.6 274.0 655.9 275.7 656.2 277.3 C656.5 278.9 656.8 280.6 657.1 282.2 C657.4 283.9 657.7 285.5 658.0 287.2 C658.3 288.8 658.6 290.5 658.9 292.1 C659.2 293.8 659.5 295.4 659.8 297.0 C660.1 298.7 660.5 300.3 660.8 301.9 C661.2 303.6 661.5 305.2 661.9 306.8 C662.2 308.5 662.6 310.1 662.9 311.7 C663.3 313.4 663.6 315.0 664.0 316.6 C664.3 318.3 664.7 319.9 665.1 321.5 C665.5 323.1 665.9 324.8 666.4 326.4 C666.8 328.0 667.3 329.6 667.7 331.2 C668.1 332.8 668.6 334.4 669.0 336.0 C669.5 337.7 669.9 339.3 670.3 340.9 C670.8 342.5 671.2 344.1 671.7 345.7 C672.2 347.3 672.7 348.9 673.2 350.5 C673.7 352.1 674.3 353.6 674.8 355.2 C675.3 356.8 675.9 358.4 676.4 360.0 C677.0 361.6 677.5 363.1 678.1 364.7 C678.7 366.3 679.2 367.8 679.9 369.4 C680.5 370.9 681.1 372.5 681.8 374.0 C682.4 375.6 683.1 377.1 683.8 378.6 C684.4 380.1 685.1 381.7 685.8 383.2 C686.4 384.8 687.0 386.3 687.7 387.8 C688.3 389.4 688.9 390.9 689.6 392.4 C690.2 394.0 691.3 396.2 691.6 397.0" fill="none" stroke="#00ff00" stroke-width="2.05" stroke-linecap="round" stroke-linejoin="round" stroke-dasharray="13 13" stroke-dashoffset="14.0"/>
<path d="M567.2 233.0 C567.4 233.8 567.9 236.3 568.3 237.9 C568.7 239.5 569.1 241.1 569.4 242.8 C569.8 244.4 570.2 246.0 570.7 247.6 C571.1 249.2 571.5 250.9 572.0 252.5 C572.4 254.1 572.8 255.7 573.3 257.3 C573.7 258.9 574.2 260.5 574.6 262.1 C575.1 263.8 575.5 265.4 575.9 267.0 C576.3 268.6 576.8 270.2 577.2 271.8 C577.6 273.5 578.0 275.1 578.4 276.7 C578.8 278.3 579.2 279.9 579.6 281.6 C580.0 283.2 580.4 284.8 580.8 286.4 C581.2 288.1 581.6 289.7 582.0 291.3 C582.3 292.9 582.7 294.6 583.1 296.2 C583.5 297.8 583.9 299.4 584.3 301.1 C584.7 302.7 585.0 304.3 585.4 306.0 C585.8 307.6 586.2 309.2 586.5 310.8 C586.9 312.5 587.3 314.1 587.6 315.7 C588.0 317.4 588.4 319.0 588.8 320.6 C589.1 322.3 589.5 323.9 589.9 325.5 C590.4 327.1 590.8 328.7 591.2 330.3 C591.7 331.9 592.2 333.5 592.7 335.1 C593.2 336.7 593.7 338.3 594.3 339.9 C594.8 341.4 595.4 343.0 596.0 344.6 C596.6 346.1 597.3 347.7 597.9 349.2 C598.5 350.8 599.2 352.3 599.8 353.9 C600.5 355.4 601.2 357.1 601.8 358.5 C602.4 359.8 602.8 360.8 603.4 362.1 C604.0 363.5 604.8 365.2 605.5 366.7 C606.2 368.2 606.9 369.7 607.6 371.3 C608.3 372.8 609.0 374.3 609.7 375.8 C610.4 377.3 611.1 378.8 611.8 380.3 C612.5 381.9 613.3 383.4 614.0 384.8 C614.8 386.3 615.5 387.8 616.3 389.3 C617.1 390.8 617.9 392.3 618.7 393.7 C619.5 395.2 620.3 396.6 621.2 398.1 C622.0 399.5 622.9 400.9 623.8 402.3 C624.7 403.7 625.6 405.1 626.6 406.5 C627.6 407.8 628.6 409.2 629.6 410.5 C630.6 411.8 631.7 413.1 632.8 414.3 C633.9 415.6 635.1 416.8 636.3 418.0 C637.5 419.1 638.7 420.2 640.0 421.3 C641.3 422.3 642.6 423.3 644.0 424.2 C645.3 425.2 646.8 426.0 648.2 426.8 C649.7 427.6 651.2 428.3 652.7 429.0 C654.2 429.7 655.8 430.3 657.3 430.9 C658.9 431.4 660.5 432.0 662.1 432.5 C663.7 433.0 665.3 433.4 666.9 433.8 C668.5 434.3 670.1 434.6 671.8 435.0 C673.4 435.3 675.0 435.7 676.7 436.0 C678.3 436.2 680.0 436.5 681.6 436.8 C683.3 437.0 684.9 437.2 686.6 437.4 C688.3 437.6 690.8 437.9 691.6 438.0" fill="none" stroke="#0000ff" stroke-width="2.05" stroke-linecap="round" stroke-linejoin="round"/>
<path d="M627.9 233.0 C628.1 233.8 628.8 236.2 629.2 237.8 C629.7 239.4 630.1 241.0 630.6 242.7 C631.1 244.3 631.6 245.9 632.0 247.5 C632.5 249.1 633.0 250.7 633.4 252.3 C633.9 253.9 634.3 255.5 634.7 257.1 C635.1 258.7 635.5 260.3 635.9 262.0 C636.3 263.6 636.7 265.2 637.2 266.8 C637.6 268.4 638.0 269.9 638.5 271.7 C639.0 273.4 639.6 275.7 640.1 277.4 C640.6 279.2 641.0 280.7 641.4 282.3 C641.8 283.9 642.2 285.5 642.6 287.1 C643.0 288.7 643.4 290.4 643.8 292.0 C644.2 293.6 644.7 295.2 645.2 296.8 C645.7 298.4 646.2 300.0 646.7 301.5 C647.2 303.1 647.8 304.7 648.3 306.3 C648.8 307.9 649.2 309.5 649.7 311.1 C650.2 312.7 650.6 314.3 651.1 315.9 C651.6 317.5 652.1 319.1 652.6 320.7 C653.1 322.3 653.7 323.8 654.2 325.4 C654.8 327.0 655.4 328.5 655.9 330.1 C656.5 331.7 657.0 333.3 657.6 334.8 C658.1 336.4 658.6 338.0 659.2 339.6 C659.7 341.2 660.3 342.7 660.8 344.3 C661.4 345.8 662.1 347.4 662.7 348.9 C663.4 350.5 664.0 352.0 664.7 353.5 C665.3 355.1 666.0 356.6 666.7 358.1 C667.3 359.7 667.9 361.1 668.6 362.8 C669.3 364.4 670.3 366.6 671.0 368.2 C671.8 369.9 672.5 371.2 673.3 372.7 C674.0 374.2 674.8 375.7 675.6 377.1 C676.4 378.6 677.2 380.1 678.0 381.5 C678.8 383.0 679.6 384.5 680.4 385.9 C681.2 387.4 682.0 388.8 682.9 390.2 C683.8 391.7 684.7 393.1 685.6 394.4 C686.6 395.8 687.6 397.2 688.6 398.5 C689.6 399.8 691.1 401.8 691.6 402.5" fill="none" stroke="#0000ff" stroke-width="2.05" stroke-linecap="round" stroke-linejoin="round" stroke-dasharray="13 13" stroke-dashoffset="14.3"/>
<path d="M517.3 233.0 C517.7 233.7 518.9 236.0 519.6 237.4 C520.4 238.9 521.2 240.4 522.0 241.9 C522.8 243.3 523.6 244.8 524.4 246.3 C525.1 247.8 525.9 249.2 526.7 250.7 C527.5 252.2 528.3 253.7 529.1 255.1 C529.9 256.6 530.7 258.1 531.4 259.6 C532.2 261.0 533.0 262.5 533.8 264.0 C534.6 265.5 535.4 266.9 536.2 268.4 C537.0 269.9 537.8 271.5 538.6 272.8 C539.3 274.1 539.7 275.0 540.5 276.4 C541.2 277.7 542.0 279.3 542.8 280.8 C543.6 282.2 544.4 283.7 545.2 285.2 C546.0 286.7 546.8 288.1 547.5 289.6 C548.3 291.1 549.1 292.6 549.9 294.1 C550.7 295.5 551.5 297.0 552.2 298.5 C553.0 300.0 553.8 301.4 554.6 302.9 C555.4 304.4 556.2 305.9 556.9 307.4 C557.7 308.8 558.5 310.3 559.3 311.8 C560.1 313.2 560.9 314.7 561.7 316.2 C562.5 317.6 563.4 319.1 564.2 320.5 C565.0 322.0 565.8 323.4 566.7 324.9 C567.5 326.3 568.3 327.8 569.2 329.2 C570.0 330.7 570.9 332.1 571.7 333.5 C572.6 335.0 573.4 336.4 574.3 337.9 C575.1 339.3 576.0 340.8 576.8 342.2 C577.6 343.7 578.4 345.1 579.3 346.6 C580.1 348.0 580.9 349.5 581.7 351.0 C582.5 352.4 583.4 354.0 584.1 355.3 C584.9 356.6 585.4 357.5 586.1 358.8 C586.9 360.1 587.8 361.7 588.6 363.2 C589.5 364.6 590.3 366.1 591.2 367.5 C592.0 368.9 592.9 370.4 593.8 371.8 C594.6 373.2 595.5 374.6 596.4 376.0 C597.3 377.5 598.2 378.9 599.1 380.3 C600.0 381.7 601.0 383.1 601.9 384.4 C602.9 385.8 603.8 387.2 604.8 388.6 C605.7 389.9 606.7 391.3 607.7 392.6 C608.7 393.9 609.7 395.3 610.8 396.6 C611.8 397.9 612.9 399.2 614.0 400.5 C615.0 401.7 616.1 403.0 617.3 404.2 C618.4 405.4 619.5 406.7 620.7 407.8 C621.9 409.0 623.1 410.2 624.3 411.3 C625.5 412.5 626.8 413.6 628.0 414.7 C629.3 415.8 630.6 416.9 631.9 417.9 C633.2 419.0 634.5 420.0 635.8 421.0 C637.2 422.0 638.5 422.9 639.9 423.8 C641.4 424.7 642.9 425.6 644.3 426.3 C645.6 427.0 646.5 427.5 647.8 428.1 C649.2 428.7 650.9 429.4 652.4 430.0 C654.0 430.6 655.6 431.2 657.1 431.7 C658.7 432.2 660.3 432.7 661.9 433.2 C663.5 433.6 665.2 434.0 666.8 434.4 C668.4 434.8 670.0 435.1 671.7 435.4 C673.3 435.7 675.0 436.0 676.6 436.3 C678.2 436.5 679.9 436.8 681.6 437.0 C683.2 437.2 684.9 437.4 686.6 437.5 C688.2 437.7 690.8 437.9 691.6 438.0" fill="none" stroke="#ff8000" stroke-width="2.05" stroke-linecap="round" stroke-linejoin="round"/>
<path d="M577.5 233.0 C577.9 233.8 578.9 236.0 579.6 237.5 C580.4 239.0 581.1 240.5 581.8 242.0 C582.5 243.5 583.3 245.0 584.0 246.5 C584.7 248.0 585.5 249.5 586.2 251.0 C587.0 252.5 587.7 254.0 588.4 255.6 C589.1 257.1 589.8 258.6 590.5 260.1 C591.3 261.6 592.0 263.1 592.7 264.6 C593.5 266.1 594.2 267.6 595.0 269.0 C595.8 270.5 596.6 272.0 597.4 273.5 C598.1 274.9 598.9 276.4 599.7 277.9 C600.5 279.4 601.2 280.8 602.0 282.3 C602.7 283.8 603.4 285.3 604.1 286.8 C604.9 288.3 605.6 289.8 606.4 291.3 C607.2 292.8 608.0 294.2 608.8 295.7 C609.5 297.2 610.3 298.6 611.1 300.1 C611.9 301.6 612.6 303.1 613.3 304.6 C614.1 306.1 614.8 307.6 615.5 309.1 C616.2 310.6 617.0 312.1 617.7 313.6 C618.5 315.0 619.3 316.5 620.2 317.9 C621.0 319.3 621.9 320.8 622.8 322.2 C623.6 323.6 624.6 325.2 625.3 326.5 C626.1 327.8 626.6 328.6 627.4 329.9 C628.1 331.2 629.0 332.8 629.9 334.3 C630.7 335.7 631.6 337.1 632.4 338.6 C633.3 340.0 634.2 341.4 635.1 342.8 C636.0 344.2 636.9 345.6 637.7 347.1 C638.6 348.5 639.4 349.9 640.3 351.4 C641.1 352.8 642.0 354.2 642.8 355.6 C643.7 357.0 644.6 358.4 645.6 359.8 C646.5 361.2 647.5 362.5 648.5 363.9 C649.5 365.2 650.5 366.5 651.5 367.9 C652.5 369.2 653.4 370.6 654.4 371.9 C655.4 373.3 656.3 374.7 657.3 376.0 C658.3 377.4 659.2 378.7 660.3 380.0 C661.3 381.3 662.3 382.6 663.4 383.9 C664.5 385.2 665.6 386.5 666.7 387.7 C667.8 389.0 668.9 390.2 670.0 391.5 C671.1 392.7 672.2 394.0 673.4 395.2 C674.5 396.4 675.6 397.6 676.8 398.8 C678.0 400.0 679.2 401.2 680.4 402.3 C681.6 403.5 682.8 404.6 684.1 405.7 C685.3 406.8 686.5 407.9 687.8 409.0 C689.1 410.1 691.0 411.8 691.6 412.3" fill="none" stroke="#ff8000" stroke-width="2.05" stroke-linecap="round" stroke-linejoin="round" stroke-dasharray="13 13" stroke-dashoffset="13.2"/>
<path d="M484.2 354.6 C485.0 354.9 487.3 355.8 488.9 356.4 C490.5 356.9 492.0 357.5 493.6 358.0 C495.2 358.6 496.8 359.1 498.4 359.7 C500.0 360.2 501.6 360.7 503.1 361.2 C504.7 361.7 506.3 362.2 507.9 362.7 C509.5 363.2 511.1 363.7 512.7 364.2 C514.3 364.7 515.8 365.3 517.4 365.9 C519.0 366.5 520.5 367.1 522.0 367.7 C523.6 368.4 525.1 369.0 526.7 369.7 C528.2 370.4 529.7 371.1 531.2 371.8 C532.7 372.5 534.2 373.2 535.8 373.9 C537.3 374.6 538.8 375.4 540.3 376.1 C541.8 376.8 543.3 377.6 544.8 378.3 C546.3 379.0 547.8 379.8 549.3 380.5 C550.8 381.2 552.3 382.0 553.8 382.7 C555.3 383.5 556.8 384.2 558.3 385.0 C559.8 385.7 561.3 386.5 562.8 387.2 C564.3 388.0 565.7 388.8 567.2 389.6 C568.7 390.4 570.2 391.1 571.6 392.0 C573.1 392.8 574.5 393.6 576.0 394.4 C577.4 395.2 578.9 396.1 580.3 396.9 C581.7 397.8 583.2 398.7 584.6 399.5 C586.0 400.4 587.4 401.3 588.9 402.2 C590.3 403.1 591.7 403.9 593.1 404.8 C594.5 405.7 596.0 406.6 597.4 407.5 C598.8 408.4 600.2 409.3 601.6 410.1 C603.1 411.0 604.5 411.9 605.9 412.7 C607.4 413.6 608.8 414.5 610.2 415.3 C611.7 416.1 613.2 416.9 614.6 417.7 C616.1 418.5 617.6 419.3 619.1 420.1 C620.6 420.8 622.1 421.6 623.6 422.3 C625.1 423.0 626.6 423.7 628.1 424.3 C629.7 425.0 631.2 425.6 632.8 426.2 C634.3 426.8 635.9 427.3 637.5 427.8 C639.1 428.4 640.7 428.9 642.3 429.3 C643.9 429.8 645.5 430.2 647.1 430.7 C648.7 431.1 650.4 431.5 652.0 431.8 C653.6 432.2 655.2 432.6 656.9 432.9 C658.5 433.2 660.2 433.5 661.8 433.9 C663.4 434.2 665.1 434.4 666.7 434.7 C668.4 435.0 670.0 435.2 671.7 435.5 C673.3 435.7 675.0 436.0 676.7 436.2 C678.3 436.4 680.0 436.7 681.6 436.9 C683.3 437.1 684.9 437.3 686.6 437.4 C688.3 437.6 690.8 437.9 691.6 438.0" fill="none" stroke="#ff00ff" stroke-width="2.05" stroke-linecap="round" stroke-linejoin="round"/>
<path d="M484.2 320.0 C485.0 320.2 487.5 320.8 489.1 321.3 C490.7 321.7 492.3 322.1 493.9 322.6 C495.5 323.0 497.2 323.5 498.8 324.0 C500.4 324.5 502.0 325.0 503.5 325.5 C505.1 326.0 506.7 326.5 508.3 327.0 C509.9 327.6 511.4 328.1 513.0 328.7 C514.6 329.3 516.3 329.9 517.7 330.5 C519.1 331.0 520.0 331.4 521.4 332.0 C522.8 332.5 524.5 333.3 526.0 333.9 C527.5 334.6 529.0 335.3 530.6 336.0 C532.1 336.7 533.6 337.4 535.1 338.2 C536.6 338.9 538.1 339.6 539.7 340.3 C541.2 341.0 542.7 341.8 544.2 342.5 C545.7 343.2 547.2 343.9 548.8 344.6 C550.3 345.3 551.8 346.0 553.3 346.8 C554.8 347.5 556.3 348.2 557.8 348.9 C559.3 349.7 560.8 350.4 562.3 351.2 C563.8 352.0 565.3 352.8 566.7 353.6 C568.1 354.5 569.5 355.3 571.0 356.2 C572.4 357.1 573.7 358.0 575.1 358.9 C576.5 359.8 577.9 360.8 579.3 361.6 C580.8 362.5 582.2 363.3 583.7 364.1 C585.1 365.0 586.7 365.8 588.0 366.6 C589.3 367.3 590.2 367.8 591.5 368.6 C592.7 369.4 594.3 370.4 595.6 371.3 C597.0 372.2 598.4 373.2 599.8 374.2 C601.1 375.1 602.5 376.0 603.9 376.9 C605.3 377.8 606.7 378.7 608.2 379.6 C609.6 380.4 611.0 381.3 612.5 382.2 C613.9 383.0 615.3 383.9 616.7 384.8 C618.2 385.7 619.6 386.6 621.0 387.4 C622.4 388.3 623.9 389.2 625.3 390.0 C626.7 390.9 628.2 391.7 629.6 392.6 C631.1 393.4 632.5 394.2 634.0 395.0 C635.4 395.9 636.9 396.7 638.4 397.5 C639.8 398.3 641.3 399.1 642.7 399.9 C644.2 400.7 645.7 401.5 647.1 402.3 C648.6 403.1 650.1 403.9 651.6 404.7 C653.1 405.4 654.7 406.3 656.0 406.9 C657.4 407.6 658.3 408.1 659.6 408.8 C661.0 409.5 662.6 410.3 664.1 411.1 C665.6 411.8 667.1 412.6 668.6 413.3 C670.1 414.0 671.6 414.7 673.1 415.4 C674.6 416.1 676.2 416.8 677.7 417.5 C679.2 418.1 680.8 418.8 682.3 419.4 C683.9 420.1 685.4 420.7 686.9 421.3 C688.5 422.0 690.8 422.9 691.6 423.2" fill="none" stroke="#ff00ff" stroke-width="2.05" stroke-linecap="round" stroke-linejoin="round" stroke-dasharray="13 13" stroke-dashoffset="25.5"/>
</g>
<g font-family="'Liberation Sans', sans-serif" opacity="0.999">
<text transform="translate(44.96 52.49) rotate(0.05) scale(0.1192 0.10)" font-size="140" fill="#000" stroke="#fff" stroke-width="1.2">2</text>
<text transform="translate(32.32 127.64) rotate(0.05) scale(0.1106 0.10)" font-size="140" fill="#000" stroke="#fff" stroke-width="1.2">1.5</text>
<text transform="translate(46.25 202.79) rotate(0.05) scale(0.0613 0.10)" font-size="140" fill="#000" stroke="#fff" stroke-width="1.2">1</text>
<text transform="translate(44.96 293.59) rotate(0.05) scale(0.1192 0.10)" font-size="140" fill="#000" stroke="#fff" stroke-width="1.2">2</text>
<text transform="translate(32.32 368.74) rotate(0.05) scale(0.1106 0.10)" font-size="140" fill="#000" stroke="#fff" stroke-width="1.2">1.5</text>
<text transform="translate(46.25 443.89) rotate(0.05) scale(0.0613 0.10)" font-size="140" fill="#000" stroke="#fff" stroke-width="1.2">1</text>
<text transform="translate(53.87 495.00) rotate(0.05) scale(0.1010 0.10)" font-size="140" fill="#000" stroke="#fff" stroke-width="1.2">10</text>
<text transform="translate(70.39 488.60) rotate(0.05) scale(0.1204 0.10)" font-size="108" fill="#000" stroke="#fff" stroke-width="1.2">6</text>
<text transform="translate(105.62 495.00) rotate(0.05) scale(0.1010 0.10)" font-size="140" fill="#000" stroke="#fff" stroke-width="1.2">10</text>
<text transform="translate(122.12 488.60) rotate(0.05) scale(0.1222 0.10)" font-size="108" fill="#000" stroke="#fff" stroke-width="1.2">7</text>
<text transform="translate(157.37 495.00) rotate(0.05) scale(0.1010 0.10)" font-size="140" fill="#000" stroke="#fff" stroke-width="1.2">10</text>
<text transform="translate(173.99 488.60) rotate(0.05) scale(0.1184 0.10)" font-size="108" fill="#000" stroke="#fff" stroke-width="1.2">8</text>
<text transform="translate(209.12 495.00) rotate(0.05) scale(0.1010 0.10)" font-size="140" fill="#000" stroke="#fff" stroke-width="1.2">10</text>
<text transform="translate(225.69 488.60) rotate(0.05) scale(0.1203 0.10)" font-size="108" fill="#000" stroke="#fff" stroke-width="1.2">9</text>
<text transform="translate(258.17 495.00) rotate(0.05) scale(0.1010 0.10)" font-size="140" fill="#000" stroke="#fff" stroke-width="1.2">10</text>
<text transform="translate(275.47 488.60) rotate(0.05) scale(0.1068 0.10)" font-size="108" fill="#000" stroke="#fff" stroke-width="1.2">10</text>
<text transform="translate(128.47 514.60) rotate(0.05) scale(0.1145 0.10)" font-size="140" fill="#000" stroke="#fff" stroke-width="1.2">Age [years]</text>
<text transform="translate(231.49 25.90) rotate(0.05) scale(0.1248 0.10)" font-size="140" fill="#000" stroke="#fff" stroke-width="1.2">8</text>
<text transform="translate(241.58 25.90) rotate(0.05) scale(0.1111 0.10)" font-size="140" fill="#000" font-style="italic" stroke="#fff" stroke-width="1.2">&#956;</text>
<text transform="translate(249.83 25.90) rotate(0.05) scale(0.1203 0.10)" font-size="140" fill="#000" stroke="#fff" stroke-width="1.2">m</text>
<text transform="translate(432.76 25.90) rotate(0.05) scale(0.1166 0.10)" font-size="140" fill="#000" stroke="#fff" stroke-width="1.2">16</text>
<text transform="translate(451.33 25.90) rotate(0.05) scale(0.1111 0.10)" font-size="140" fill="#000" font-style="italic" stroke="#fff" stroke-width="1.2">&#956;</text>
<text transform="translate(459.58 25.90) rotate(0.05) scale(0.1203 0.10)" font-size="140" fill="#000" stroke="#fff" stroke-width="1.2">m</text>
<text transform="translate(642.16 25.90) rotate(0.05) scale(0.1190 0.10)" font-size="140" fill="#000" stroke="#fff" stroke-width="1.2">24</text>
<text transform="translate(661.33 25.90) rotate(0.05) scale(0.1111 0.10)" font-size="140" fill="#000" font-style="italic" stroke="#fff" stroke-width="1.2">&#956;</text>
<text transform="translate(669.58 25.90) rotate(0.05) scale(0.1203 0.10)" font-size="140" fill="#000" stroke="#fff" stroke-width="1.2">m</text>
<text transform="translate(231.49 267.00) rotate(0.05) scale(0.1248 0.10)" font-size="140" fill="#000" stroke="#fff" stroke-width="1.2">8</text>
<text transform="translate(241.58 267.00) rotate(0.05) scale(0.1111 0.10)" font-size="140" fill="#000" font-style="italic" stroke="#fff" stroke-width="1.2">&#956;</text>
<text transform="translate(249.83 267.00) rotate(0.05) scale(0.1203 0.10)" font-size="140" fill="#000" stroke="#fff" stroke-width="1.2">m</text>
<text transform="translate(432.76 267.00) rotate(0.05) scale(0.1166 0.10)" font-size="140" fill="#000" stroke="#fff" stroke-width="1.2">16</text>
<text transform="translate(451.33 267.00) rotate(0.05) scale(0.1111 0.10)" font-size="140" fill="#000" font-style="italic" stroke="#fff" stroke-width="1.2">&#956;</text>
<text transform="translate(459.58 267.00) rotate(0.05) scale(0.1203 0.10)" font-size="140" fill="#000" stroke="#fff" stroke-width="1.2">m</text>
<text transform="translate(642.16 267.00) rotate(0.05) scale(0.1190 0.10)" font-size="140" fill="#000" stroke="#fff" stroke-width="1.2">24</text>
<text transform="translate(661.33 267.00) rotate(0.05) scale(0.1111 0.10)" font-size="140" fill="#000" font-style="italic" stroke="#fff" stroke-width="1.2">&#956;</text>
<text transform="translate(669.58 267.00) rotate(0.05) scale(0.1203 0.10)" font-size="140" fill="#000" stroke="#fff" stroke-width="1.2">m</text>
<path d="M74.8 25.6 H95.8" stroke="#ff0000" stroke-width="2.05" stroke-linecap="round"/>
<text transform="translate(109.17 26.00) rotate(0.05) scale(0.1175 0.10)" font-size="140" fill="#ff0000" stroke="#fff" stroke-width="1.2">3</text>
<text transform="translate(146.87 26.00) rotate(0.05) scale(0.1080 0.10)" font-size="140" fill="#ff0000" stroke="#fff" stroke-width="1.2">g</text>
<text transform="translate(162.62 26.00) rotate(0.05) scale(0.1149 0.10)" font-size="140" fill="#ff0000" stroke="#fff" stroke-width="1.2">cm</text>
<text transform="translate(184.52 19.00) rotate(0.05) scale(0.1374 0.10)" font-size="100" fill="#ff0000" stroke="#fff" stroke-width="1.2">&#8722;2</text>
<path d="M74.8 41.8 H95.8" stroke="#00ff00" stroke-width="2.05" stroke-linecap="round"/>
<text transform="translate(111.40 42.20) rotate(0.05) scale(0.0563 0.10)" font-size="140" fill="#00ff00" stroke="#fff" stroke-width="1.2">1</text>
<text transform="translate(146.87 42.20) rotate(0.05) scale(0.1080 0.10)" font-size="140" fill="#00ff00" stroke="#fff" stroke-width="1.2">g</text>
<text transform="translate(162.62 42.20) rotate(0.05) scale(0.1149 0.10)" font-size="140" fill="#00ff00" stroke="#fff" stroke-width="1.2">cm</text>
<text transform="translate(184.52 35.20) rotate(0.05) scale(0.1374 0.10)" font-size="100" fill="#00ff00" stroke="#fff" stroke-width="1.2">&#8722;2</text>
<path d="M74.8 58.0 H95.8" stroke="#0000ff" stroke-width="2.05" stroke-linecap="round"/>
<text transform="translate(109.17 58.40) rotate(0.05) scale(0.1153 0.10)" font-size="140" fill="#0000ff" stroke="#fff" stroke-width="1.2">0.3</text>
<text transform="translate(146.87 58.40) rotate(0.05) scale(0.1080 0.10)" font-size="140" fill="#0000ff" stroke="#fff" stroke-width="1.2">g</text>
<text transform="translate(162.62 58.40) rotate(0.05) scale(0.1149 0.10)" font-size="140" fill="#0000ff" stroke="#fff" stroke-width="1.2">cm</text>
<text transform="translate(184.52 51.40) rotate(0.05) scale(0.1374 0.10)" font-size="100" fill="#0000ff" stroke="#fff" stroke-width="1.2">&#8722;2</text>
<path d="M74.8 74.2 H95.8" stroke="#ff8000" stroke-width="2.05" stroke-linecap="round"/>
<text transform="translate(109.28 74.60) rotate(0.05) scale(0.0960 0.10)" font-size="140" fill="#ff8000" stroke="#fff" stroke-width="1.2">0.1</text>
<text transform="translate(146.87 74.60) rotate(0.05) scale(0.1080 0.10)" font-size="140" fill="#ff8000" stroke="#fff" stroke-width="1.2">g</text>
<text transform="translate(162.62 74.60) rotate(0.05) scale(0.1149 0.10)" font-size="140" fill="#ff8000" stroke="#fff" stroke-width="1.2">cm</text>
<text transform="translate(184.52 67.60) rotate(0.05) scale(0.1374 0.10)" font-size="100" fill="#ff8000" stroke="#fff" stroke-width="1.2">&#8722;2</text>
<path d="M74.8 90.4 H95.8" stroke="#ff00ff" stroke-width="2.05" stroke-linecap="round"/>
<text transform="translate(109.18 90.80) rotate(0.05) scale(0.1131 0.10)" font-size="140" fill="#ff00ff" stroke="#fff" stroke-width="1.2">0.03</text>
<text transform="translate(146.87 90.80) rotate(0.05) scale(0.1080 0.10)" font-size="140" fill="#ff00ff" stroke="#fff" stroke-width="1.2">g</text>
<text transform="translate(162.62 90.80) rotate(0.05) scale(0.1149 0.10)" font-size="140" fill="#ff00ff" stroke="#fff" stroke-width="1.2">cm</text>
<text transform="translate(184.52 83.80) rotate(0.05) scale(0.1374 0.10)" font-size="100" fill="#ff00ff" stroke="#fff" stroke-width="1.2">&#8722;2</text>
<text transform="translate(13.60 481.99) rotate(-89.95) scale(0.1079 0.10)" font-size="140" fill="#000" stroke="#fff" stroke-width="1.2">S</text>
<text transform="translate(18.20 470.68) rotate(-89.95) scale(0.1310 0.10)" font-size="108" fill="#000" font-style="italic" stroke="#fff" stroke-width="1.2">&#957;</text>
<text transform="translate(13.60 463.64) rotate(-89.95) scale(0.1195 0.10)" font-size="140" fill="#000" stroke="#fff" stroke-width="1.2">(observed)</text>
<text transform="translate(13.60 375.42) rotate(-89.95) scale(0.1450 0.10)" font-size="140" fill="#000" stroke="#fff" stroke-width="1.2">/</text>
<text transform="translate(13.60 365.29) rotate(-89.95) scale(0.1079 0.10)" font-size="140" fill="#000" stroke="#fff" stroke-width="1.2">S</text>
<text transform="translate(18.20 354.28) rotate(-89.95) scale(0.1310 0.10)" font-size="108" fill="#000" font-style="italic" stroke="#fff" stroke-width="1.2">&#957;</text>
<text transform="translate(13.60 346.51) rotate(-89.95) scale(0.1165 0.10)" font-size="140" fill="#000" stroke="#fff" stroke-width="1.2">(photosphere)</text>
</g>
</svg>
</body></html>
